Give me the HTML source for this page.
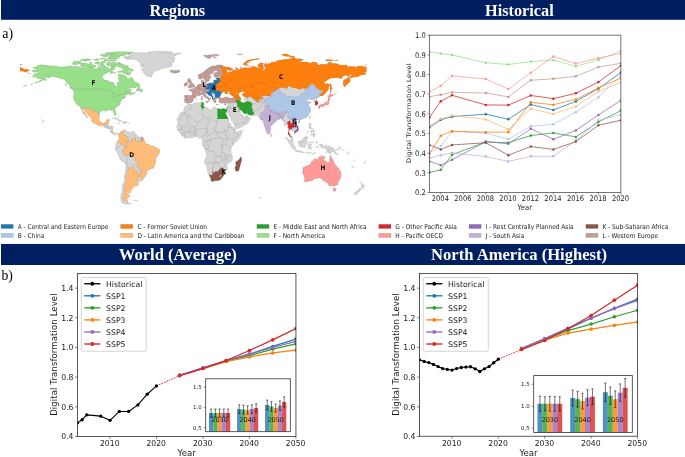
<!DOCTYPE html>
<html><head><meta charset="utf-8"><title>Regions and Digital Transformation Level</title>
<style>html,body{margin:0;padding:0;background:#fff}svg{display:block}</style></head>
<body><svg width="685" height="457" viewBox="0 0 685 457">
<rect width="685" height="457" fill="#fff"/>
<rect x="1" y="0" width="684" height="19.8" fill="#001f60"/>
<rect x="1" y="243.95" width="684" height="21.05" fill="#001f60"/>
<text x="177.4" y="15.75" text-anchor="middle" font-family='"Liberation Serif","DejaVu Serif",serif' font-weight="bold" font-size="16.4" fill="#fff">Regions</text>
<text x="519.4" y="15.75" text-anchor="middle" font-family='"Liberation Serif","DejaVu Serif",serif' font-weight="bold" font-size="16.25" fill="#fff">Historical</text>
<text x="177.8" y="260.4" text-anchor="middle" font-family='"Liberation Serif","DejaVu Serif",serif' font-weight="bold" font-size="16.6" fill="#fff">World (Average)</text>
<text x="519.1" y="260.4" text-anchor="middle" font-family='"Liberation Serif","DejaVu Serif",serif' font-weight="bold" font-size="16.6" fill="#fff">North America (Highest)</text>
<text x="2.3" y="38.1" font-family='"Liberation Serif","DejaVu Serif",serif' font-size="13.9" fill="#000">a)</text>
<text x="1.4" y="280.35" font-family='"Liberation Serif","DejaVu Serif",serif' font-size="13.7" fill="#000">b)</text>
<defs><path id="landp" clip-rule="evenodd" fill-rule="evenodd" d="M31.4 70.8L33.2 70.3L35.0 69.9L35.7 70.4L37.6 70.2L36.8 69.6L35.7 69.3L35.0 68.6L32.7 67.9L33.2 67.3L36.1 66.8L37.4 65.8L40.2 65.1L42.5 64.6L44.7 65.2L46.6 65.2L51.2 65.9L55.0 66.0L57.5 66.4L59.3 66.7L61.9 67.3L62.7 66.9L63.9 66.5L65.3 66.7L68.3 65.9L69.7 66.1L69.9 65.6L70.6 65.7L72.2 66.7L73.5 65.9L73.6 66.8L76.3 66.3L80.1 67.2L83.1 68.0L82.4 68.4L84.0 68.6L87.4 68.3L88.4 69.0L89.5 68.4L88.5 68.0L91.0 67.4L92.9 68.3L95.6 68.8L98.5 68.5L98.3 67.9L99.2 67.6L100.8 68.1L100.8 69.1L101.3 68.2L102.1 68.2L102.6 67.1L100.4 66.0L100.5 64.8L101.6 64.0L102.9 64.1L103.8 64.7L105.2 65.9L104.3 66.4L106.1 66.7L106.1 67.8L107.4 66.9L108.6 67.6L108.3 68.4L109.1 69.2L110.2 68.4L110.9 67.4L111.0 66.2L112.3 66.3L113.8 66.4L115.0 67.0L115.1 67.5L114.3 68.2L114.9 69.3L113.1 70.1L111.7 70.2L110.7 69.9L110.4 70.4L109.5 71.4L109.2 71.8L108.1 72.6L106.7 72.7L106.0 73.2L105.9 73.8L104.8 74.0L103.5 74.9L102.6 76.1L102.2 77.0L102.1 78.3L103.5 78.5L103.9 79.6L104.4 80.3L105.8 80.1L107.6 80.6L108.6 81.0L109.2 81.5L110.4 81.9L111.4 82.3L113.0 82.4L114.0 82.5L113.9 83.4L114.2 84.5L114.9 85.7L116.4 86.8L117.1 86.5L117.6 85.3L117.1 83.6L116.5 83.0L118.0 82.5L119.1 81.8L119.6 81.0L119.5 80.2L118.9 79.2L117.7 78.5L118.9 77.2L118.4 76.2L118.1 74.6L118.8 74.3L120.4 74.6L121.4 74.7L122.2 74.5L123.1 74.8L124.3 75.5L124.5 75.9L126.3 75.9L126.3 76.9L126.6 78.2L127.4 78.5L128.2 79.1L129.5 78.5L130.5 77.2L131.1 76.8L131.9 77.8L133.1 79.1L134.2 80.4L133.8 81.2L135.0 81.8L137.5 82.8L138.1 83.1L138.5 84.0L139.2 84.2L139.6 84.5L139.7 85.8L139.0 86.2L138.3 86.6L136.7 86.9L135.5 87.9L133.9 88.0L131.8 87.8L130.3 87.8L129.4 87.9L128.6 88.7L127.3 89.2L125.9 90.7L124.8 91.7L125.6 91.5L127.2 90.0L129.2 89.2L130.6 89.0L131.5 89.6L130.6 90.3L130.9 91.5L131.2 92.4L132.4 92.9L134.1 92.7L135.0 91.5L135.1 92.2L135.7 92.7L134.6 93.3L132.4 94.0L131.5 94.4L130.3 95.3L129.6 95.2L129.5 94.2L131.3 93.3L129.7 93.3L128.7 93.6L128.8 93.9L126.8 94.8L125.8 95.1L125.3 95.8L125.1 96.7L125.4 97.2L125.9 97.4L124.1 97.8L122.3 98.2L123.8 98.0L124.1 98.2L122.7 98.5L122.0 98.5L121.8 99.5L121.2 100.4L120.6 99.7L120.9 100.5L121.0 101.0L120.2 102.3L119.8 101.3L119.6 100.1L119.2 101.1L119.8 102.2L120.1 102.6L120.4 104.0L119.7 104.9L118.8 105.3L118.1 105.9L117.1 106.4L116.0 107.5L115.0 108.7L114.8 109.4L115.0 110.2L115.3 111.1L115.8 111.9L115.8 112.4L116.2 113.6L116.2 114.8L115.9 115.5L115.6 115.6L115.1 115.5L114.6 114.7L114.1 113.9L113.7 113.0L113.5 111.2L112.7 110.3L112.3 110.1L111.3 110.7L110.7 110.0L110.1 109.8L109.0 109.9L108.2 109.8L107.4 109.9L107.0 110.0L107.2 110.8L107.4 111.1L106.8 111.0L106.4 111.2L105.8 111.2L105.1 110.5L104.2 110.7L103.5 110.4L103.0 110.5L102.1 110.8L101.2 111.6L100.3 112.1L99.8 112.6L99.5 113.1L99.5 113.9L99.8 114.7L99.4 115.7L99.2 116.5L99.1 118.0L99.0 118.6L99.2 119.1L99.5 119.7L99.7 120.6L100.4 121.4L100.6 122.0L100.9 122.6L102.0 122.8L102.4 123.3L103.3 123.0L103.9 122.9L104.7 122.7L105.3 122.5L105.9 122.0L106.1 121.4L106.1 120.5L106.3 120.1L107.0 119.8L108.1 119.6L108.8 119.6L109.5 119.6L109.7 119.8L109.7 120.3L109.1 120.9L108.9 121.7L109.1 121.8L108.9 122.3L108.7 123.1L108.5 122.9L108.3 123.0L108.5 123.3L108.3 123.9L108.3 124.4L108.2 125.1L107.7 125.8L108.4 126.0L108.9 125.8L109.6 125.9L110.4 125.8L111.1 125.8L111.9 125.8L112.4 126.1L113.0 126.4L113.2 126.8L113.2 127.5L112.9 128.3L112.9 129.6L112.7 130.2L112.6 130.7L112.7 131.3L113.0 131.8L113.4 132.3L113.9 132.7L114.1 133.2L114.5 133.4L114.9 133.6L115.4 133.5L115.8 133.3L116.4 133.0L116.6 132.7L117.2 132.8L117.7 132.9L118.1 133.2L118.5 133.5L118.8 133.7L119.3 133.8L120.0 133.0L120.4 132.9L120.6 131.6L121.2 131.1L121.7 131.1L122.6 130.9L123.8 130.2L124.2 129.6L124.5 129.6L124.8 130.0L124.6 130.3L124.0 130.5L124.3 131.2L124.3 131.8L123.9 132.4L124.3 133.3L124.6 133.3L124.9 132.4L124.5 132.1L124.5 131.2L125.7 130.7L125.6 130.3L126.0 129.8L126.3 130.6L126.9 130.7L127.6 131.3L127.6 131.7L128.5 131.7L129.5 131.6L130.0 132.1L130.8 132.2L131.4 131.8L132.5 131.5L133.7 131.5L132.9 131.8L133.2 132.3L134.0 132.4L134.7 132.9L134.8 133.8L135.4 133.8L136.4 134.5L137.0 135.2L137.0 135.8L137.3 135.8L137.9 136.4L138.3 136.7L139.4 136.9L139.6 136.7L140.3 136.7L141.3 136.9L141.7 137.1L142.4 137.3L143.4 138.2L143.6 138.7L143.9 138.7L144.1 139.3L144.7 141.2L145.2 141.4L145.2 142.1L144.5 143.1L144.8 143.4L146.5 143.5L146.5 144.6L147.3 144.0L148.4 144.3L150.1 145.0L150.5 145.6L150.4 146.3L151.5 145.9L153.3 146.5L154.8 146.5L156.2 147.4L157.5 148.6L158.2 148.9L159.0 149.0L159.4 149.4L159.7 150.7L159.9 151.4L159.5 153.2L159.0 153.9L157.7 155.4L157.0 156.8L156.3 157.6L156.0 157.7L155.8 158.5L155.8 160.6L155.6 162.3L155.2 163.5L155.0 164.9L154.0 166.3L153.9 167.5L153.1 168.0L152.9 168.6L151.8 168.6L150.4 169.1L149.6 169.5L148.5 169.9L147.4 170.8L146.6 171.9L146.5 172.6L146.6 173.3L146.4 174.4L146.2 175.0L145.5 175.5L144.5 177.5L143.6 178.4L142.9 178.8L142.5 179.9L141.9 180.6L141.5 181.2L140.4 181.8L139.7 181.6L139.2 181.7L138.3 181.2L137.6 181.3L137.1 180.7L137.0 181.2L138.2 182.2L138.0 183.0L138.7 183.4L138.6 184.0L137.7 185.4L136.3 186.0L134.4 186.2L133.3 186.1L133.5 186.8L133.3 187.6L133.5 188.2L132.9 188.5L131.9 188.7L131.0 188.3L130.6 188.6L130.7 189.7L131.4 190.1L131.9 189.7L132.2 190.2L131.3 190.6L130.5 191.3L130.4 192.4L130.2 193.0L129.3 193.0L128.5 193.5L128.2 194.4L129.2 195.2L130.1 195.4L129.8 196.3L128.6 197.0L128.0 198.3L127.1 198.8L126.8 199.2L127.0 200.4L127.7 201.0L127.3 201.0L126.4 200.8L124.1 200.6L123.6 202.5L124.8 202.7L124.5 202.7L125.1 201.6L124.1 202.3L123.0 202.1L121.2 201.0L120.8 200.2L121.1 199.5L120.6 198.9L120.5 197.0L120.9 195.9L121.9 195.0L120.5 194.7L121.4 193.8L121.7 191.9L122.8 192.3L123.3 190.1L122.6 189.7L122.3 191.2L121.7 190.9L122.0 189.4L122.3 187.3L122.8 186.6L122.5 185.5L122.4 184.3L122.8 184.2L123.4 182.4L124.1 180.7L124.5 179.0L124.3 177.4L124.5 176.5L124.4 175.2L125.0 173.7L125.2 171.6L125.5 169.3L125.8 166.9L125.7 165.1L125.5 163.5L124.5 162.9L124.4 162.5L122.6 161.4L120.9 160.2L120.1 159.4L119.7 158.5L119.8 158.2L119.1 156.8L118.1 154.8L117.2 152.6L116.8 152.0L116.5 151.2L115.8 150.5L115.1 150.0L115.4 149.6L114.9 148.5L115.2 147.8L116.0 147.0L116.5 146.2L116.3 145.7L115.9 146.3L115.3 145.8L115.5 145.5L115.4 144.5L115.7 144.3L115.9 143.6L116.2 142.9L116.2 142.5L116.7 142.2L117.4 141.8L117.2 141.4L117.6 141.3L117.6 140.8L117.8 140.4L118.3 140.3L118.7 139.7L119.1 139.1L118.7 138.8L118.9 138.1L118.7 137.1L118.9 136.8L118.7 135.9L118.3 135.3L118.0 135.0L117.8 134.4L118.0 134.1L117.8 134.0L117.6 133.7L117.1 133.4L116.6 133.5L116.5 133.8L116.1 134.1L115.8 134.4L116.3 135.0L116.0 135.1L115.4 135.4L115.2 134.7L115.1 134.9L114.8 134.8L114.6 134.4L114.2 134.3L113.9 134.1L113.6 134.1L113.5 134.4L113.4 134.3L112.9 134.0L112.7 133.8L112.8 133.6L112.8 133.3L112.5 133.0L112.1 132.8L111.8 132.7L111.7 132.4L111.4 132.2L111.5 132.5L111.3 132.8L111.2 132.5L110.8 132.4L110.7 132.2L110.7 131.8L110.8 131.4L110.6 131.3L110.8 131.1L110.4 130.7L110.0 130.3L109.8 129.9L109.4 129.6L108.9 129.1L109.0 128.9L109.1 129.1L109.0 128.6L108.7 128.5L108.7 128.8L108.1 128.8L107.8 128.7L107.3 128.5L106.8 128.4L106.5 128.2L106.1 128.0L105.5 128.0L105.0 127.8L104.5 127.3L103.4 126.1L102.9 125.8L102.1 125.4L101.6 125.5L100.8 125.9L100.3 126.0L99.6 125.8L98.9 125.5L98.1 125.0L97.3 124.9L96.2 124.3L95.4 123.8L95.2 123.6L94.6 123.5L93.6 123.1L93.2 122.6L92.2 122.0L91.7 121.4L91.5 120.8L91.8 120.7L91.7 120.4L91.9 120.0L91.9 119.7L91.6 119.1L91.5 118.7L91.2 118.2L90.4 117.1L89.4 116.3L88.9 115.5L88.0 115.1L87.9 114.8L88.0 114.2L87.6 113.9L87.0 113.3L86.8 112.5L86.2 112.5L85.6 111.9L85.3 111.4L85.2 111.0L84.7 110.2L84.3 109.3L84.4 108.9L83.6 108.5L83.3 108.6L82.7 108.2L82.7 108.7L82.7 109.2L82.8 110.0L83.2 110.5L83.9 111.2L84.1 111.5L84.4 112.0L84.7 112.6L85.0 113.0L85.3 113.3L85.8 113.9L86.1 115.0L86.4 115.4L86.7 116.0L86.7 116.5L87.2 116.5L87.6 117.1L87.9 117.5L87.5 118.2L87.1 117.5L86.5 116.8L85.8 116.3L85.3 116.1L85.3 115.2L85.2 114.6L84.7 114.3L84.0 113.7L83.9 114.0L83.7 113.6L83.0 113.4L82.5 112.8L82.9 112.8L83.3 112.3L83.4 111.8L82.7 111.0L82.1 110.7L81.7 110.0L81.3 109.3L80.9 108.5L80.5 107.5L80.3 106.9L79.8 106.2L79.3 106.1L79.2 105.8L78.6 105.7L78.3 105.4L77.4 105.3L77.2 105.1L77.1 104.5L76.1 103.4L75.3 101.9L75.3 101.6L74.9 101.3L74.2 100.3L74.0 99.4L73.5 98.9L73.7 97.9L73.7 97.0L73.4 96.1L73.8 95.1L74.0 93.1L73.8 91.6L73.5 90.7L73.2 90.1L73.3 89.9L74.8 90.3L75.2 91.4L75.5 91.0L75.3 90.1L75.0 89.3L74.7 88.9L73.0 88.2L72.3 87.7L70.6 87.3L70.0 86.3L70.2 85.6L69.0 85.1L68.8 84.2L67.6 83.4L67.6 82.9L67.1 82.4L66.2 82.1L65.9 81.1L64.7 80.2L64.2 79.2L63.3 79.1L61.8 79.1L60.6 78.8L58.6 77.7L57.7 77.5L56.0 77.0L54.7 77.1L52.8 76.6L51.6 76.1L50.6 76.4L50.8 77.2L50.2 77.2L49.1 77.5L48.3 77.8L47.2 78.1L47.1 77.4L47.5 76.4L48.5 76.0L48.3 75.7L47.0 76.4L46.3 77.1L45.0 77.8L45.7 78.4L44.8 79.2L43.7 79.7L42.8 80.0L42.5 80.5L41.0 81.0L40.8 81.6L39.6 82.0L38.9 81.9L38.1 82.2L37.1 82.6L36.3 83.0L34.6 83.3L34.5 83.1L35.5 82.6L36.5 82.3L37.5 81.7L38.7 81.5L39.2 81.1L40.5 80.4L40.7 80.2L41.4 79.8L41.6 79.0L42.1 78.3L41.0 78.7L40.7 78.5L40.1 78.9L39.5 78.3L39.2 78.7L38.9 78.2L37.9 78.6L37.3 78.6L37.2 77.9L37.4 77.5L36.8 77.1L35.6 77.4L34.7 76.8L34.1 76.6L34.1 76.0L33.3 75.5L33.7 74.8L34.5 74.3L34.8 73.7L35.6 73.6L36.3 73.8L37.0 73.2L37.8 73.3L38.5 73.0L38.3 72.5L37.8 72.3L38.5 71.8L37.9 71.8L36.9 72.1L36.6 72.3L35.8 72.1L34.4 72.2L33.1 71.9L32.7 71.5L31.4 70.8Z M148.2 52.2L151.5 51.5L154.9 51.5L156.1 51.2L159.5 51.1L167.2 51.2L173.3 52.1L171.4 52.5L167.8 52.5L162.6 52.6L163.1 52.8L166.5 52.7L169.4 53.1L171.2 52.8L172.0 53.2L171.0 53.8L173.5 53.4L178.1 53.0L181.0 53.2L181.6 53.6L177.6 54.4L177.1 54.7L174.0 54.9L176.3 54.9L175.1 55.7L174.3 56.5L174.4 57.7L175.5 58.4L174.0 58.5L172.4 58.8L174.2 59.4L174.4 60.3L173.4 60.4L174.6 61.4L172.5 61.5L173.6 61.9L173.3 62.3L172.0 62.5L170.6 62.5L171.8 63.2L171.8 63.7L169.9 63.2L169.4 63.6L170.7 63.8L172.0 64.5L172.4 65.4L170.6 65.6L169.9 65.2L168.7 64.5L169.0 65.3L167.9 65.9L170.4 65.9L171.8 66.0L169.2 66.9L166.6 67.8L163.8 68.2L162.7 68.2L161.7 68.6L160.4 69.8L158.3 70.5L157.6 70.6L156.3 70.8L155.0 71.1L154.1 71.8L154.1 72.6L153.6 73.3L152.1 74.2L152.4 75.0L152.0 76.0L151.5 77.0L150.2 77.1L148.8 76.2L146.8 76.2L145.9 75.6L145.2 74.5L143.6 73.1L143.1 72.4L143.0 71.4L141.6 70.4L142.0 69.6L141.3 69.2L142.3 67.9L143.7 67.5L144.1 67.0L144.3 66.2L143.2 66.6L142.7 66.7L141.8 66.9L140.6 66.5L140.6 65.8L141.0 65.2L141.8 65.2L143.8 65.5L142.2 64.8L141.3 64.4L140.3 64.6L139.5 64.3L140.6 63.2L140.0 62.8L139.3 62.1L138.1 60.9L136.9 60.5L136.9 60.0L134.3 59.4L132.3 59.3L129.7 59.3L127.3 59.4L126.2 59.1L124.5 58.4L127.1 58.0L129.0 58.0L124.9 57.7L122.7 57.2L122.8 56.8L126.5 56.3L130.0 55.7L130.4 55.3L127.8 54.9L128.6 54.5L132.0 53.7L133.4 53.6L133.0 53.1L135.3 52.8L138.2 52.7L141.2 52.6L142.2 53.0L144.8 52.4L147.1 52.8L148.4 52.9L150.4 53.2L148.1 52.6L148.2 52.2Z M116.3 62.0L119.8 62.7L121.8 64.1L124.7 65.1L127.0 65.6L127.9 66.0L128.8 67.0L127.0 67.5L129.4 68.2L130.8 68.5L132.2 69.5L133.7 69.6L133.4 70.3L131.8 71.6L130.6 71.2L129.1 70.1L127.8 70.2L127.7 70.8L128.7 71.5L130.0 72.0L130.4 72.3L131.0 73.4L130.7 74.2L129.5 73.9L127.1 73.0L128.4 74.0L129.4 74.6L129.6 75.0L127.0 74.6L124.9 73.9L123.7 73.4L124.1 73.1L122.6 72.5L121.2 72.0L121.2 72.3L118.5 72.5L117.6 72.1L118.3 71.3L120.1 71.3L122.1 71.1L121.8 70.7L122.1 70.2L123.3 69.1L123.1 68.6L122.7 68.2L121.2 67.7L119.3 67.3L119.9 67.0L118.9 66.4L118.0 66.3L117.3 65.9L116.8 66.2L115.0 66.4L111.5 66.1L109.5 65.8L107.9 65.7L107.1 65.3L108.1 64.8L106.7 64.8L106.4 63.6L107.2 62.7L108.2 62.2L110.6 61.9L109.9 62.6L110.7 63.3L111.6 62.4L114.0 62.0L115.7 63.1L115.5 63.8L117.4 63.5L118.4 63.1L120.5 63.6L121.8 64.2L118.7 62.9L116.3 62.0Z M79.8 65.6L82.4 66.9L83.6 67.2L88.3 67.4L91.9 67.6L94.7 67.4L95.9 66.5L94.4 66.7L93.9 66.0L96.1 66.1L95.9 65.4L92.7 65.0L92.4 64.2L91.8 63.1L90.4 62.2L88.9 62.7L89.8 63.8L88.9 64.3L85.9 63.3L83.3 62.7L82.8 63.2L79.8 63.1L79.1 63.6L82.4 64.2L80.0 64.7L81.5 64.7L83.8 65.9L79.8 65.6Z M74.4 64.7L77.3 64.6L79.1 63.6L80.8 62.6L82.1 62.2L79.8 61.5L76.3 61.3L73.0 61.4L73.0 62.8L72.1 64.0L74.4 64.7Z M110.7 52.2L116.9 51.7L120.4 51.7L127.3 51.7L133.7 52.2L133.7 52.5L131.4 52.9L128.1 53.4L130.2 53.4L126.4 54.4L124.8 55.3L122.2 55.7L119.2 55.8L120.6 56.0L119.9 56.2L119.8 57.1L118.3 57.4L117.8 57.8L116.5 58.2L116.6 58.4L118.3 58.4L115.7 59.3L113.2 59.0L110.4 59.2L107.1 59.0L107.0 58.4L108.8 58.2L108.3 57.4L108.9 57.3L111.5 57.8L110.2 57.1L108.6 56.9L109.4 56.4L111.1 56.2L111.4 55.8L110.0 55.4L109.6 54.8L112.2 54.8L113.0 55.0L114.5 54.6L112.3 54.4L108.9 54.5L107.2 54.1L106.4 53.7L105.3 53.4L105.1 53.0L106.5 52.8L107.7 52.7L109.5 52.6L111.0 52.2L110.7 52.2Z M103.2 58.6L105.1 58.6L106.0 59.0L105.7 59.4L106.8 59.7L107.4 59.9L108.7 60.0L110.1 60.1L111.6 59.8L113.6 59.7L115.2 59.8L116.2 60.2L116.4 60.7L115.8 61.0L114.4 61.2L113.1 61.1L110.4 61.2L108.4 61.3L106.9 61.1L104.3 60.8L104.0 60.2L103.8 59.6L102.9 59.1L100.9 59.0L99.8 58.7L100.1 58.2L102.1 58.3L103.2 58.6Z M100.9 54.4L105.7 54.1L109.5 55.4L108.7 55.8L105.9 57.1L103.8 57.0L100.9 55.4L100.2 54.9L100.9 54.4Z M81.6 58.9L84.5 59.3L87.8 58.6L88.8 58.7L89.1 59.3L90.9 59.5L91.3 60.0L87.7 60.8L85.3 61.3L83.8 61.3L83.6 60.9L85.6 60.4L81.3 60.5L80.0 60.4L81.3 59.3L81.6 58.9Z M93.1 59.5L97.0 58.8L99.2 59.2L99.2 59.8L96.1 60.5L94.6 59.9L93.1 59.5Z M95.1 62.0L98.0 61.7L99.5 61.9L99.8 62.2L98.9 62.8L100.4 63.2L100.2 64.2L98.5 64.7L97.7 64.6L97.0 64.2L94.6 63.3L94.6 63.0L96.6 63.1L95.6 62.4L95.1 62.0Z M101.2 61.6L104.7 61.6L106.1 61.8L104.7 62.8L103.5 63.0L102.5 63.9L101.4 63.8L100.8 62.9L100.8 62.3L101.2 61.6Z M97.2 66.8L98.1 66.4L98.7 66.0L99.7 66.2L100.3 66.4L100.6 66.7L101.2 67.1L100.6 67.4L99.3 67.1L98.5 67.3L97.2 66.8Z M111.3 70.8L111.5 71.4L112.0 71.2L112.5 71.5L113.6 71.9L114.7 72.2L114.8 72.7L115.5 72.7L116.2 73.0L115.3 73.4L113.8 73.1L113.3 72.6L112.3 73.2L110.9 73.8L110.6 73.1L109.3 73.2L110.1 72.7L110.3 71.8L110.6 70.8L111.3 70.8Z M139.3 87.4L139.9 88.0L139.6 88.6L140.4 88.9L141.8 89.0L141.5 89.8L142.2 89.6L142.3 90.2L142.6 90.9L142.2 91.8L141.8 91.9L141.1 91.7L141.3 90.8L141.1 90.6L139.9 91.6L139.4 91.6L140.1 91.0L139.1 90.8L138.1 90.8L136.2 90.8L136.1 90.5L136.7 90.1L136.3 89.8L137.1 89.1L138.1 87.4L138.7 86.7L139.5 86.4L139.9 86.4L139.8 86.7L139.3 87.4Z M69.7 87.3L71.3 87.7L72.2 87.8L73.0 88.7L74.0 89.2L74.4 89.8L73.9 90.0L72.3 89.5L72.0 89.1L71.1 88.7L71.0 88.4L70.0 88.2L69.6 87.6L69.7 87.3Z M65.0 83.5L65.5 83.7L66.4 83.6L66.1 84.9L67.0 85.8L66.6 85.8L66.0 85.2L65.7 84.7L65.2 84.4L65.0 83.9L65.0 83.5Z M46.0 80.3L45.0 80.8L44.5 80.4L44.3 79.9L45.2 79.6L45.8 79.4L46.4 79.4L46.8 79.8L46.0 80.3Z M28.0 72.9L28.5 73.2L29.1 73.1L29.9 73.4L30.8 73.5L30.1 73.8L29.3 73.6L28.9 73.4L28.1 73.5L27.9 73.4L28.0 72.9Z M32.0 76.9L33.0 77.4L33.7 77.4L33.8 76.8L33.1 76.7L32.0 76.9Z M33.0 83.7L33.4 84.1L32.0 84.5L31.0 84.9L30.6 85.1L31.5 84.3L33.0 83.7Z M25.7 85.5L27.2 85.6L27.2 86.0L25.3 86.0L23.8 86.2L22.8 86.3L23.3 86.0L25.7 85.5Z M43.2 120.9L43.8 121.3L44.2 121.8L43.6 122.2L43.2 122.3L43.2 122.0L43.0 121.6L43.2 121.3L43.2 120.9Z M42.4 120.1L42.8 120.3L43.1 120.5L42.7 120.6L42.4 120.3Z M40.9 119.5L41.3 119.5L41.5 119.8L41.0 119.8L40.9 119.5Z M111.5 119.1L112.0 118.8L112.5 118.8L113.1 118.0L113.9 117.8L114.9 117.8L115.7 117.8L116.5 118.2L116.9 118.6L117.9 118.5L118.2 118.7L119.6 119.9L119.9 119.9L120.5 120.1L121.2 120.5L121.8 120.9L121.7 121.2L121.1 121.4L120.5 121.4L119.8 121.3L118.4 121.4L119.1 120.8L118.7 120.5L118.1 120.4L117.7 120.1L117.5 119.5L116.9 119.5L116.1 119.2L115.8 119.0L114.5 118.8L114.2 118.6L114.5 118.3L113.6 118.3L112.9 118.9L112.5 118.9L112.4 119.1L111.9 119.3L111.5 119.1Z M121.6 123.1L122.6 123.2L123.3 123.3L124.3 123.4L124.5 123.9L124.9 123.1L125.4 123.3L125.9 123.0L127.1 123.2L127.5 122.8L127.1 122.4L126.6 122.3L126.1 122.0L125.9 121.6L125.1 121.4L124.4 121.4L123.2 121.3L122.6 121.6L123.2 121.8L123.2 122.2L123.6 122.7L123.3 123.0L122.6 122.9L121.7 122.7L121.6 123.1Z M117.9 122.9L118.6 122.9L119.2 123.0L119.9 123.6L119.2 123.6L118.4 123.6L117.9 123.2L117.9 122.9Z M128.6 122.9L129.5 122.9L130.1 123.2L129.9 123.4L129.2 123.5L128.6 123.5L128.6 122.9Z M133.7 131.5L134.7 131.3L134.7 132.2L133.8 132.3L133.9 131.9L133.7 131.5Z M118.2 116.5L118.7 116.5L118.7 117.1L118.4 117.2L117.8 116.2L118.2 116.5Z M118.4 114.0L119.1 114.0L119.1 114.3L118.4 113.6L118.4 114.0Z M134.4 200.5L135.5 199.8L136.3 200.1L136.9 199.7L137.7 200.1L137.4 200.5L136.1 200.9L135.7 200.5L134.8 201.0L134.4 200.5Z M127.2 201.3L127.6 201.9L128.1 202.7L129.3 203.3L130.7 203.6L130.2 204.2L129.3 204.2L128.8 203.8L128.2 203.8L127.2 203.8L126.7 204.5L125.9 204.2L124.9 204.0L123.7 203.4L122.7 202.8L121.4 201.6L122.2 201.8L123.5 202.5L124.8 202.9L125.3 202.4L125.6 201.7L126.5 201.2L127.2 201.3Z M218.0 64.9L220.5 64.8L223.4 65.6L222.2 65.9L223.2 66.6L224.2 66.2L225.8 66.9L228.4 67.1L232.1 68.4L232.8 68.9L232.9 69.6L231.8 70.2L230.3 70.5L225.9 69.7L225.3 69.8L226.8 70.6L226.9 71.1L226.9 72.3L228.2 72.6L228.9 72.9L229.1 72.4L228.5 71.9L229.1 71.5L231.4 72.1L232.2 71.9L231.6 71.1L233.8 70.0L234.7 70.1L235.6 70.4L236.2 69.7L235.4 69.0L235.9 68.4L235.1 67.7L237.8 68.0L238.4 68.7L237.2 68.8L237.2 69.4L237.9 69.8L239.4 69.5L239.7 68.8L241.7 68.3L245.0 67.4L245.8 67.4L244.8 68.1L246.0 68.2L246.7 67.8L248.5 67.8L249.9 67.3L251.0 68.0L252.1 67.3L251.1 66.6L251.6 66.3L254.5 66.6L255.8 67.0L259.3 68.2L259.9 67.6L258.9 67.1L258.9 66.8L257.8 66.7L258.1 66.2L257.6 65.3L257.5 65.0L259.3 64.0L259.9 63.0L260.7 62.8L263.2 63.0L263.4 63.7L262.5 64.5L263.1 64.9L263.4 65.7L263.2 67.2L264.2 67.9L263.8 68.6L261.9 70.2L263.0 70.3L263.4 69.9L264.5 69.6L264.7 69.1L265.6 68.6L265.0 67.9L265.5 67.2L264.4 67.1L264.2 66.5L264.9 65.4L263.7 64.5L265.4 63.8L265.2 63.0L265.7 63.0L266.2 63.6L265.8 64.6L266.8 64.8L266.4 64.0L268.0 63.6L270.0 63.5L271.8 64.2L270.9 63.3L270.8 62.1L272.5 61.9L274.8 61.9L276.9 61.8L276.1 61.2L277.2 60.5L278.4 60.4L280.2 59.9L282.8 59.7L283.1 59.4L285.6 59.3L286.4 59.6L288.6 59.0L290.3 59.0L290.6 58.5L291.5 58.1L293.8 57.6L295.4 58.0L294.1 58.2L296.3 58.4L296.6 59.0L297.4 58.7L300.3 58.7L302.4 59.2L303.2 59.7L303.0 60.2L301.9 60.6L299.4 61.2L298.7 61.5L299.8 61.6L301.3 61.9L302.1 61.7L302.6 62.4L303.1 62.1L304.6 62.0L307.7 62.1L307.9 62.7L311.9 62.8L312.0 62.0L314.0 62.2L315.6 62.2L317.1 62.8L317.6 63.5L317.0 63.9L318.2 64.8L319.7 65.2L320.7 64.1L322.2 64.6L323.8 64.3L325.7 64.6L326.4 64.3L328.0 64.5L327.3 63.4L328.6 63.0L337.3 63.7L338.1 64.3L340.6 65.2L344.5 65.0L346.4 65.1L347.2 65.6L347.1 66.4L348.3 66.7L349.6 66.5L351.3 66.5L353.1 66.7L354.9 66.6L356.6 67.5L357.8 67.2L357.0 66.5L357.4 66.0L360.5 66.3L362.5 66.2L365.3 66.8L366.6 67.3L366.6 71.6L365.4 72.1L364.1 72.0L365.0 72.6L365.6 73.5L366.0 73.8L366.1 74.3L365.9 74.6L364.1 74.4L361.4 75.2L360.6 75.3L359.1 76.1L357.7 76.8L357.3 77.3L356.0 76.5L353.4 77.4L353.0 77.0L352.1 77.4L350.8 77.3L350.5 78.0L349.3 79.1L349.4 79.5L350.5 79.8L350.3 81.4L349.4 81.4L349.0 82.3L349.4 82.8L347.7 83.4L347.4 84.6L346.0 84.9L345.7 86.0L344.3 87.0L343.9 86.3L343.5 84.7L343.0 82.2L343.4 80.7L344.3 80.0L344.3 79.5L345.8 79.3L347.5 77.9L349.2 76.8L350.9 75.9L351.7 74.3L350.5 74.4L349.9 75.3L347.5 76.5L346.7 75.2L344.2 75.6L341.8 77.4L342.6 78.1L340.5 78.4L339.0 78.5L339.0 77.7L337.5 77.5L336.3 78.1L333.4 77.9L330.2 78.2L327.1 80.3L323.4 82.9L324.9 83.1L325.4 83.8L326.3 84.0L327.0 83.5L328.0 83.5L329.4 84.8L329.4 85.7L328.7 86.8L328.6 88.1L328.2 89.9L326.7 91.5L326.4 92.2L325.1 93.5L323.8 94.8L323.2 95.4L321.9 96.1L321.3 96.1L320.7 95.6L319.4 96.4L319.2 96.7L318.9 96.7L318.5 97.0L318.2 97.4L318.2 98.2L317.7 98.5L317.5 98.6L317.2 99.0L316.5 99.2L316.1 99.5L316.1 99.9L316.4 100.2L316.9 100.7L317.7 102.0L318.0 102.7L318.0 104.0L317.6 104.6L316.7 104.8L316.0 105.3L315.1 105.4L315.0 104.8L315.2 104.0L314.8 102.8L315.5 102.6L314.8 101.7L314.3 101.5L313.9 101.8L313.7 101.4L313.4 101.3L313.7 100.8L313.8 100.5L314.1 99.9L313.4 99.6L313.0 99.3L311.6 99.6L310.9 100.1L309.9 100.4L310.4 99.9L310.2 99.5L310.9 98.7L310.4 98.1L309.6 98.5L308.5 99.3L307.9 100.0L307.0 100.1L306.5 100.6L307.0 101.3L307.8 101.5L307.8 102.0L308.6 102.3L309.6 101.5L310.5 102.0L311.1 102.0L311.3 102.6L309.9 102.9L309.5 103.5L308.5 104.0L308.0 104.8L309.1 105.4L309.5 106.5L310.0 107.5L310.7 108.4L310.7 109.2L310.1 109.5L310.3 110.1L310.9 110.4L310.7 111.3L310.5 112.2L309.9 112.3L309.2 113.5L308.5 114.9L307.6 116.2L306.2 117.3L304.9 118.2L303.8 118.3L303.2 118.8L302.9 118.4L302.4 119.0L301.0 119.5L300.0 119.7L299.7 120.9L299.1 120.9L298.9 120.1L299.1 119.7L297.8 119.3L297.4 119.5L296.1 120.5L295.3 121.5L295.1 122.3L295.8 123.4L296.7 124.9L297.6 125.6L298.2 126.4L298.6 128.5L298.5 130.4L297.7 131.2L296.6 131.9L295.8 132.8L294.6 133.8L294.2 133.1L294.5 132.4L293.8 131.7L293.0 131.6L292.6 131.0L292.1 129.9L291.2 129.3L290.4 129.4L290.5 128.5L289.7 128.5L289.6 129.7L289.1 131.3L288.8 132.3L288.8 133.1L289.5 133.1L289.9 134.1L290.0 135.1L290.6 135.7L291.2 135.9L291.7 136.4L291.9 136.5L292.5 137.2L292.9 137.9L292.9 138.7L292.8 139.2L292.9 139.6L293.0 140.2L293.3 140.5L293.7 141.5L293.7 141.9L293.0 141.9L292.1 141.1L290.9 140.3L290.8 139.7L290.3 139.0L290.1 138.0L289.8 137.4L289.9 136.6L289.7 136.2L289.3 135.7L289.1 135.2L288.6 134.6L288.2 134.1L288.0 134.7L287.8 134.1L287.9 133.4L288.2 132.3L288.1 131.5L288.4 130.7L288.1 130.0L288.2 128.8L287.8 128.3L287.5 126.9L287.3 125.5L286.9 124.6L286.2 125.2L285.1 126.0L284.6 125.9L284.0 125.6L284.3 124.2L284.1 123.2L283.4 121.9L283.5 121.5L282.9 121.4L282.3 120.5L282.2 119.6L281.9 119.4L281.7 118.8L281.3 118.2L280.5 118.1L280.5 118.6L280.2 119.2L279.8 119.0L279.7 119.2L279.4 119.1L279.0 119.0L278.9 119.4L278.2 119.4L277.1 119.6L277.1 120.4L276.6 121.1L275.2 121.8L274.1 123.1L273.4 123.8L272.4 124.5L272.4 125.0L272.0 125.3L271.1 125.7L270.6 125.8L270.4 126.6L270.6 128.0L270.6 129.0L270.2 130.0L270.2 131.9L269.7 131.9L269.3 132.8L269.6 133.1L268.7 133.5L268.4 134.2L268.0 134.5L267.1 133.5L266.6 131.9L266.2 130.8L265.9 130.3L265.4 129.3L265.2 127.9L265.0 127.2L264.1 125.7L263.7 123.5L263.4 122.1L263.4 120.8L263.2 119.7L261.8 120.4L261.2 120.3L259.9 118.9L260.4 118.5L260.1 118.1L259.0 117.2L258.2 116.9L258.0 116.1L257.2 115.3L255.4 115.5L253.9 115.5L252.5 115.6L250.7 115.3L249.7 115.1L248.6 114.9L248.2 113.6L247.7 113.4L247.0 113.6L246.0 114.1L244.8 113.7L243.8 112.9L242.9 112.6L242.3 111.5L241.6 110.1L241.0 110.2L240.4 109.9L240.1 110.3L239.5 110.2L239.7 110.7L239.6 111.0L239.9 111.8L240.3 112.8L240.8 113.0L240.9 113.4L241.6 113.9L241.7 114.3L241.6 114.7L241.7 115.1L242.0 115.4L242.1 115.7L242.2 116.0L242.2 115.2L242.4 114.6L242.7 114.5L243.0 114.8L243.0 115.5L242.8 116.1L243.0 116.6L243.2 116.8L243.9 116.6L244.7 116.7L245.3 116.7L246.0 116.0L246.7 115.2L247.3 114.6L247.6 114.2L247.6 114.7L247.5 114.9L247.6 115.8L248.0 116.6L248.6 117.0L249.3 117.1L249.9 117.3L250.3 117.9L250.6 118.3L250.9 118.5L250.5 119.4L250.4 119.7L250.0 120.0L249.6 120.8L249.2 120.7L249.0 121.0L248.8 121.5L249.0 122.3L248.4 122.4L247.8 122.8L247.7 123.4L247.5 123.6L246.9 123.6L246.5 123.9L246.5 124.3L246.1 124.6L245.5 124.5L244.9 124.9L244.4 124.9L243.8 125.2L243.6 125.7L243.5 126.1L242.6 126.6L241.0 127.1L240.2 127.9L239.8 127.9L239.5 127.8L238.9 128.3L238.3 128.5L237.5 128.6L237.2 128.6L237.0 128.9L236.8 129.0L236.6 129.3L236.1 129.3L235.8 129.4L235.2 129.4L234.9 128.7L234.9 128.1L234.8 127.8L234.6 127.0L234.3 126.5L234.5 126.5L234.4 126.0L234.5 125.8L234.5 125.3L234.4 124.8L234.1 124.5L234.0 124.0L233.5 123.6L233.0 122.7L232.7 121.8L232.1 121.1L231.6 120.9L231.0 119.8L230.9 119.0L230.9 118.4L230.4 117.2L229.9 116.7L229.4 116.5L229.1 115.9L229.1 115.6L228.9 115.1L228.6 114.8L228.2 114.0L227.6 113.1L227.1 112.4L226.6 112.4L226.8 111.7L226.8 111.4L227.0 110.9L226.7 111.2L226.5 112.0L226.2 112.6L226.0 112.8L225.6 112.5L225.2 112.0L224.5 110.4L224.8 111.6L225.4 112.8L226.1 114.5L226.5 115.1L226.8 115.7L227.7 116.9L227.5 117.1L227.5 117.8L228.6 118.8L228.8 119.0L229.1 120.1L228.9 120.3L229.0 121.5L229.4 122.8L229.8 123.0L230.3 123.4L230.8 124.7L231.1 125.7L231.6 126.3L233.0 127.3L233.5 127.9L234.0 128.6L234.3 129.0L234.8 129.3L235.0 129.6L235.0 130.1L234.4 130.4L234.9 130.7L235.2 130.9L235.4 131.3L235.8 131.8L236.3 131.8L237.2 131.5L238.2 131.4L239.1 131.0L239.5 131.0L239.9 130.8L240.4 130.7L240.7 130.7L241.2 130.5L241.7 130.4L242.2 130.0L242.5 130.0L242.5 130.3L242.5 131.0L242.5 131.6L242.2 132.0L242.0 133.2L241.5 134.4L240.9 135.8L240.1 137.4L239.3 138.6L238.1 140.1L237.2 141.0L235.7 142.1L234.8 143.0L233.8 144.3L233.6 144.9L233.4 145.2L232.7 145.6L232.4 146.1L232.1 146.1L231.9 146.9L231.6 147.4L231.4 148.1L231.0 148.5L230.6 149.8L230.7 150.4L231.3 150.8L231.3 151.1L231.0 151.8L231.1 152.1L231.0 152.7L231.4 153.3L231.8 154.4L232.1 154.7L232.3 155.2L232.2 156.3L232.4 157.2L232.4 159.0L232.6 159.5L232.3 160.3L231.9 161.1L231.3 161.7L230.4 162.2L229.3 162.7L228.2 163.9L227.9 164.1L227.2 164.9L226.8 165.1L226.7 165.9L227.2 166.7L227.4 167.4L227.4 167.7L227.5 168.7L227.4 169.3L227.6 169.4L227.4 169.9L227.0 170.3L226.3 170.7L225.1 171.3L224.7 171.7L224.8 172.1L225.0 172.2L224.9 172.8L224.7 173.6L224.6 174.5L224.3 175.0L223.7 175.6L223.5 175.7L223.1 176.3L222.8 176.8L222.2 177.6L221.2 178.8L220.5 179.4L219.7 179.9L218.7 180.4L218.3 180.4L218.1 180.7L217.5 180.6L217.1 180.8L216.0 180.6L215.4 180.7L215.0 180.6L214.0 181.1L213.2 181.3L212.6 181.7L212.2 181.7L211.8 181.3L211.5 181.3L211.0 180.8L210.9 180.7L210.9 180.0L210.6 179.3L210.9 179.1L210.8 178.2L210.2 177.2L209.7 176.3L209.0 174.8L208.3 174.0L207.9 173.2L207.7 172.1L207.5 171.3L207.2 169.6L207.2 168.3L207.0 167.7L206.7 167.2L206.2 166.3L205.7 165.0L205.4 164.3L204.7 163.2L204.6 162.4L204.5 161.7L204.6 160.7L205.0 159.7L205.0 159.2L205.3 158.2L205.6 157.8L206.1 157.1L206.4 156.6L206.5 155.8L206.5 155.1L206.2 154.7L205.9 154.1L205.7 153.4L205.8 153.2L206.1 152.7L205.8 151.7L205.6 150.9L205.1 150.2L205.2 150.0L205.0 149.7L204.8 148.9L204.0 147.7L203.0 146.6L202.4 145.7L201.8 144.5L201.8 144.2L202.0 143.8L202.2 143.0L202.4 142.2L202.3 142.0L202.6 140.8L202.7 139.9L202.4 139.2L201.9 139.0L201.7 138.5L201.5 138.3L201.5 138.0L200.5 138.4L200.1 138.4L199.8 138.6L199.0 138.6L198.5 137.9L198.1 137.1L197.5 136.4L196.7 136.4L195.9 136.4L195.1 136.5L194.3 136.8L192.8 137.4L192.3 137.8L191.4 138.1L190.5 137.8L190.1 137.8L189.4 137.6L188.8 137.6L187.7 137.8L187.0 138.1L186.1 138.5L185.6 138.5L184.6 138.0L183.8 137.1L182.9 136.5L182.3 135.8L182.0 135.7L181.3 135.3L180.8 134.7L180.7 134.3L180.5 133.5L180.1 132.8L179.8 132.4L179.5 132.2L179.3 132.0L179.2 131.5L179.0 131.3L178.7 131.1L178.2 130.7L177.8 130.6L177.6 130.3L177.3 129.9L177.2 129.6L177.1 128.8L177.2 128.3L176.8 127.5L176.3 127.1L176.7 126.8L177.2 126.1L177.4 125.5L177.4 124.9L177.6 124.4L177.7 123.3L177.6 122.2L177.5 121.7L177.6 121.1L177.4 120.6L176.9 120.1L176.9 119.7L177.0 119.2L177.3 118.9L177.6 118.3L177.6 117.9L177.9 117.1L178.4 116.4L178.8 116.3L179.0 115.6L179.0 115.0L179.4 114.4L180.0 113.9L180.6 112.8L181.1 112.4L182.0 112.3L182.8 111.5L183.3 111.2L184.1 110.3L183.9 108.9L184.2 108.0L184.3 107.4L185.0 106.6L185.9 106.1L186.6 105.7L187.3 104.5L187.6 103.9L188.3 103.9L188.9 104.3L189.8 104.3L190.8 104.5L191.2 104.5L192.1 103.9L193.2 103.7L193.8 103.3L194.7 102.9L196.3 102.7L197.9 102.6L198.4 102.8L199.3 102.4L200.4 102.4L200.8 102.6L201.4 102.6L202.5 102.1L203.1 102.2L203.1 102.8L203.9 102.4L204.0 102.6L203.5 103.1L203.5 103.7L203.8 103.9L203.7 104.9L203.1 105.4L203.3 106.0L203.8 106.1L204.0 106.6L204.4 106.8L205.5 107.1L205.9 107.0L206.7 107.2L208.0 107.7L208.4 108.7L209.3 108.9L210.7 109.4L211.7 109.9L212.1 109.6L212.6 109.1L212.4 108.3L212.7 107.7L213.4 107.2L214.0 107.1L215.4 107.3L215.7 107.8L216.0 107.8L216.3 108.0L217.3 108.1L217.5 108.5L218.8 108.5L219.7 108.8L220.7 109.1L221.1 109.3L221.9 108.9L222.3 108.6L223.1 108.5L223.8 108.6L224.1 109.2L224.3 108.8L225.1 109.1L225.8 109.1L226.3 108.9L226.6 108.5L226.8 107.9L227.0 107.1L227.1 106.8L227.5 105.9L227.9 105.1L227.9 104.2L228.1 103.8L227.8 103.3L228.1 102.9L227.5 103.0L226.7 102.7L226.1 103.4L224.6 103.5L223.8 102.9L222.8 102.8L222.6 103.3L221.9 103.4L221.0 102.8L219.9 102.9L219.3 101.8L218.6 101.2L219.1 100.3L218.5 99.8L218.9 99.0L218.4 98.5L217.8 98.3L217.3 98.1L216.1 98.4L216.8 99.1L216.3 99.2L215.8 99.2L215.3 98.7L215.1 98.9L215.3 99.6L215.8 100.1L215.4 100.3L216.0 100.8L216.4 101.2L216.5 101.8L215.6 101.5L215.8 102.0L215.2 102.2L215.6 103.1L215.0 103.1L214.2 102.7L213.8 101.8L213.6 101.1L213.3 100.5L212.8 99.9L212.7 99.6L212.5 99.3L212.0 98.9L211.9 98.4L212.0 97.6L212.1 97.3L212.0 97.1L211.8 97.0L211.5 96.7L211.1 96.5L210.2 96.0L209.6 95.6L208.7 95.3L207.9 94.5L208.1 94.4L207.7 94.0L207.6 93.6L207.0 93.4L206.7 93.9L206.5 93.5L206.5 93.1L206.7 93.0L206.0 92.9L205.2 93.3L205.2 93.8L205.1 94.1L205.4 94.7L206.3 95.2L206.8 96.1L207.9 97.0L208.6 97.0L208.9 97.3L208.6 97.5L209.5 97.9L210.2 98.2L211.0 98.8L211.1 99.0L210.9 99.4L210.4 98.9L209.5 98.7L209.1 99.4L209.8 99.8L209.7 100.4L209.3 100.5L208.8 101.4L208.4 101.5L208.4 101.2L208.6 100.6L208.8 100.3L208.4 99.7L208.1 99.1L207.7 99.0L207.5 98.5L206.8 98.3L206.4 97.9L205.7 97.8L205.0 97.3L204.1 96.6L203.4 96.0L203.1 94.9L202.6 94.7L201.9 94.4L201.4 94.5L200.9 95.0L200.5 95.1L199.6 95.7L197.7 95.4L196.3 95.8L196.2 96.5L196.2 97.1L195.3 97.8L194.1 98.1L194.0 98.4L193.4 99.1L193.0 99.9L193.4 100.6L192.8 101.1L192.6 101.8L191.9 102.0L191.2 102.9L190.0 102.9L189.1 102.8L188.5 103.2L188.1 103.7L187.6 103.6L187.3 103.2L187.0 102.6L186.1 102.4L185.7 102.7L185.2 102.5L184.7 102.6L184.9 101.8L184.8 101.1L184.4 101.0L184.1 100.6L184.2 99.9L184.6 99.5L184.7 99.0L184.9 98.3L184.8 97.9L184.6 97.5L184.6 97.1L184.7 96.3L184.3 95.8L185.6 95.1L186.8 95.3L188.1 95.3L189.1 95.4L189.9 95.4L191.5 95.4L192.0 94.8L192.2 92.6L191.2 91.4L190.4 90.8L189.0 90.4L188.9 89.6L190.1 89.4L191.7 89.7L191.4 88.4L192.3 88.9L194.6 88.0L194.9 87.1L195.7 86.9L196.5 86.7L197.0 86.4L197.8 84.8L199.1 84.3L200.0 84.3L200.1 84.1L200.9 84.0L201.1 84.3L201.8 83.7L201.6 83.3L201.5 82.7L201.1 82.1L201.1 80.9L201.3 80.6L201.5 80.3L202.4 80.3L202.7 79.9L203.5 79.6L203.5 80.2L203.2 80.6L203.3 80.9L203.8 81.0L203.6 81.5L203.3 81.3L202.6 82.1L202.9 82.7L202.9 83.1L203.8 83.4L203.8 83.7L204.8 83.5L205.4 83.2L206.4 83.7L206.9 84.0L207.6 83.7L209.1 83.2L210.3 82.8L211.2 83.0L211.3 83.3L212.2 83.3L212.5 82.8L213.8 82.4L213.6 81.5L213.6 80.7L214.1 80.0L215.0 79.6L215.8 80.4L216.5 80.4L216.7 79.6L216.8 78.9L216.5 79.1L215.9 78.7L215.8 78.0L217.0 77.7L218.2 77.6L219.3 77.7L220.2 77.7L221.3 77.1L220.3 76.6L218.6 76.7L216.9 77.1L215.3 77.3L214.8 76.7L213.8 76.3L214.0 75.2L213.6 74.3L214.0 73.6L214.9 72.9L217.1 71.7L217.8 71.5L217.7 71.0L216.3 70.5L214.7 70.8L213.7 71.6L213.9 72.3L212.3 73.2L210.5 74.1L209.8 75.7L210.5 76.4L211.4 77.0L210.5 78.3L209.5 78.5L209.1 80.4L208.6 81.4L207.4 81.3L206.9 82.2L205.8 82.2L205.5 81.2L204.7 80.0L203.9 78.4L203.3 77.7L201.4 79.0L200.1 79.2L198.8 78.7L198.4 77.5L198.1 75.0L199.0 74.3L201.5 73.3L203.4 72.2L205.2 70.6L207.5 68.5L209.1 67.7L211.8 66.3L213.9 65.8L215.5 65.9L216.9 65.0L218.0 64.9Z M20.0 67.3L22.3 68.1L24.9 69.2L24.8 69.9L25.4 70.2L25.2 69.3L27.8 69.5L29.7 70.5L28.7 71.1L27.2 71.2L27.1 72.2L26.7 72.4L25.1 72.1L23.8 71.7L23.6 71.2L22.7 71.1L21.5 71.2L21.0 70.8L20.1 70.6L20.5 71.2L20.0 71.6Z M365.4 64.9L366.6 64.4L366.6 65.2L365.6 65.2L365.4 64.9Z M20.0 64.4L22.3 64.7L22.2 64.9L21.2 65.1L20.0 65.2Z M325.2 60.3L327.0 59.4L329.6 59.4L333.0 59.9L332.3 60.8L328.7 60.8L327.1 61.0L325.2 60.3Z M334.3 60.0L336.0 60.2L338.4 60.5L337.4 60.9L335.8 60.8L334.0 60.4L334.3 60.0Z M328.0 62.4L328.9 61.9L330.1 61.8L331.5 62.2L331.6 62.6L330.1 62.6L328.1 62.5Z M285.7 53.7L287.6 54.2L289.8 55.3L289.5 56.3L287.5 56.4L284.8 56.1L283.1 55.7L282.4 55.0L281.1 54.7L283.6 54.0L285.7 53.7Z M289.5 56.3L291.6 55.8L294.8 56.5L294.5 57.0L289.0 57.4L290.9 56.0L289.5 56.3Z M259.7 58.9L259.0 59.3L255.5 59.8L252.6 60.3L249.6 61.4L248.2 62.5L246.7 63.5L246.8 64.4L248.7 65.3L248.1 65.4L245.0 65.2L244.7 64.8L243.0 64.4L242.9 63.9L243.9 63.7L243.8 63.0L245.7 62.1L244.8 62.0L247.1 61.0L246.8 60.5L249.1 59.9L252.2 59.2L255.4 59.0L257.1 58.6L259.0 58.5L259.7 58.9Z M207.8 55.4L208.2 55.1L209.7 55.0L210.9 55.4L214.0 56.2L211.6 56.7L211.1 57.5L210.2 57.7L209.8 58.6L208.6 58.6L206.6 57.9L207.5 57.6L206.0 57.3L204.1 56.3L203.3 55.5L206.0 55.1L206.5 55.5L207.8 55.4Z M215.4 56.8L215.7 57.2L217.1 57.4L215.0 57.9L213.2 57.6L213.9 57.4L213.3 57.0L215.4 56.8Z M219.7 55.0L218.2 55.6L215.4 55.7L212.7 55.5L212.5 55.3L211.1 55.2L210.1 54.7L213.0 54.4L214.4 54.7L215.4 54.3L217.8 54.6L219.7 55.0Z M236.6 54.4L238.6 54.0L241.5 53.9L243.0 54.3L241.5 54.6L238.6 54.6L236.6 54.4Z M179.3 70.0L179.1 70.7L180.2 71.5L179.0 72.3L176.2 73.1L175.3 73.3L171.4 72.8L172.3 72.3L170.2 71.7L171.9 71.5L171.9 71.2L169.9 70.9L170.5 70.2L172.0 70.1L173.5 70.8L174.9 70.2L176.2 70.5L177.7 69.9L179.3 70.0Z M190.4 78.6L189.4 79.8L190.4 79.7L191.4 79.7L191.2 80.6L190.3 81.6L191.3 81.6L192.2 83.1L192.9 83.2L193.5 84.5L193.8 84.9L194.9 85.1L194.8 85.8L194.3 86.2L194.7 86.7L193.8 87.3L192.5 87.3L190.9 87.6L190.4 87.4L189.8 87.9L188.9 87.8L188.2 88.2L187.7 88.0L189.1 86.8L190.0 86.6L188.5 86.4L188.2 86.0L189.2 85.6L188.7 85.0L188.9 84.3L190.3 84.4L190.5 83.8L189.8 83.1L188.6 82.9L188.4 82.6L188.8 82.1L188.4 81.8L187.9 82.3L187.9 81.2L187.4 80.7L187.7 79.5L188.5 78.6L189.2 78.7L190.4 78.6Z M187.3 83.9L187.5 84.7L186.8 85.7L185.1 86.3L183.7 86.2L184.5 85.0L184.0 83.9L185.3 83.0L186.0 82.5L186.8 82.5L187.8 83.1L187.3 83.9Z M208.2 101.1L207.9 102.0L208.0 102.4L207.8 102.9L207.1 102.5L206.6 102.4L205.3 101.8L205.4 101.3L206.5 101.4L207.5 101.2L208.2 101.1Z M202.2 97.9L202.7 98.6L202.6 100.1L202.2 100.0L201.8 100.4L201.4 100.1L201.4 98.8L201.2 98.1L201.7 98.2L202.2 97.9Z M202.5 96.8L202.2 97.7L201.8 97.4L201.5 96.7L201.7 96.3L202.3 95.9L202.5 96.8Z M216.1 103.9L216.7 104.3L217.4 104.2L218.1 104.3L218.6 104.4L218.5 104.7L217.1 104.8L215.9 104.4L216.1 103.9Z M224.8 104.5L225.5 104.6L226.0 104.6L225.1 105.2L224.6 105.0L224.4 104.6L224.8 104.5Z M224.8 104.5L225.0 104.3L225.7 104.3L226.6 104.0L225.9 104.4L226.0 104.6L225.4 104.5L225.0 104.6Z M241.0 157.1L241.3 157.5L241.5 158.3L241.7 159.6L241.9 160.1L241.8 160.6L241.6 160.9L241.3 160.3L241.1 160.6L241.3 161.4L241.2 161.9L241.0 162.2L240.9 163.1L240.5 164.4L240.1 165.9L239.5 168.0L239.1 169.5L238.7 170.8L237.9 171.1L237.0 171.5L236.5 171.3L235.7 170.9L235.4 170.3L235.4 169.3L235.0 168.4L234.9 167.6L235.1 166.8L235.6 166.6L235.6 166.3L236.0 165.4L236.1 164.7L235.9 164.2L235.7 163.5L235.6 162.5L236.0 161.9L236.1 161.2L236.6 161.1L237.1 160.9L237.5 160.7L237.9 160.7L238.4 160.1L239.2 159.4L239.5 158.8L239.4 158.4L239.8 158.5L240.3 157.7L240.4 157.1L240.7 156.6L241.0 157.1Z M272.1 135.0L271.9 136.2L271.5 136.5L270.7 136.7L270.2 135.8L270.1 134.3L270.5 132.5L271.1 133.1L271.6 133.9L272.1 135.0Z M299.6 122.7L298.7 123.2L297.9 122.9L297.9 121.9L298.4 121.4L299.4 121.1L300.0 121.2L300.2 121.6L299.8 122.1L299.6 122.7Z M310.6 116.4L310.0 118.2L309.6 119.1L309.1 118.1L309.0 117.3L309.5 116.2L310.3 115.4L310.7 115.7L310.6 116.4Z M331.6 87.3L332.6 89.3L331.2 88.9L330.6 90.5L331.5 91.6L331.5 92.4L330.8 91.8L330.1 92.6L330.0 91.7L330.1 90.6L329.9 89.4L330.2 88.6L330.2 87.1L329.7 86.0L329.7 84.5L330.6 84.0L330.2 83.5L330.7 83.3L330.9 84.1L331.3 85.1L331.2 86.2L331.6 87.3Z M331.9 94.6L332.6 94.8L333.2 94.4L333.5 95.6L332.0 95.9L331.2 97.0L329.7 96.2L329.2 97.4L328.1 97.5L327.9 96.4L328.4 95.5L329.4 95.4L329.7 93.9L330.0 93.1L331.1 94.2L331.9 94.6Z M329.1 102.3L328.7 103.2L328.9 103.8L328.4 104.5L327.1 105.1L325.4 105.1L324.1 106.4L323.4 106.0L323.4 105.1L321.7 105.4L320.6 105.9L319.4 105.9L320.4 106.7L319.8 108.6L319.2 109.1L318.7 108.7L318.9 107.7L318.3 107.3L317.9 106.6L318.8 106.2L319.3 105.6L320.3 105.0L321.0 104.2L322.9 103.9L324.0 104.1L325.0 102.2L325.6 102.7L327.0 101.6L327.6 101.2L328.2 99.8L328.0 98.6L328.4 97.9L329.4 97.7L330.0 99.2L329.9 100.1L329.0 101.2L329.1 102.3Z M323.0 105.6L323.1 106.0L322.5 106.7L322.1 106.3L321.6 106.6L321.4 107.2L320.8 106.9L320.8 106.4L321.3 105.7L321.9 105.9L322.2 105.4L323.0 105.6Z M310.1 122.9L310.7 123.2L311.0 122.9L311.1 123.2L310.9 123.7L311.3 124.5L311.0 125.4L310.5 125.7L310.3 126.6L310.5 127.5L311.0 127.6L311.5 127.5L312.7 128.1L312.6 128.7L312.9 129.0L312.8 129.5L312.0 128.9L311.7 128.4L311.4 128.8L310.8 128.1L309.9 128.3L309.5 128.0L309.5 127.6L309.8 127.3L309.5 127.0L309.4 127.4L308.9 126.8L308.8 126.3L308.7 125.3L309.1 125.6L309.2 123.9L309.6 122.9L310.1 122.9Z M315.0 134.0L315.1 134.8L315.2 135.4L314.8 136.4L314.5 135.3L314.0 135.8L314.3 136.6L314.1 137.1L312.9 136.5L312.7 135.7L312.9 135.2L312.3 134.7L312.0 135.1L311.6 135.1L310.9 135.7L310.7 135.4L311.1 134.4L311.7 134.1L312.2 133.7L312.6 134.2L313.3 133.9L313.4 133.4L314.1 133.4L314.1 132.5L314.8 133.1L314.9 133.6L315.0 134.0Z M308.4 130.8L308.6 131.7L307.9 132.3L307.4 133.0L306.1 134.1L306.6 133.3L307.3 132.6L307.9 131.9L308.4 130.8Z M312.8 130.9L312.7 132.0L312.3 132.3L312.0 133.0L311.7 133.4L311.2 132.6L311.4 132.3L311.6 132.0L311.7 131.3L312.2 131.2L312.1 132.0L312.8 130.9Z M313.7 130.8L314.4 131.1L313.7 132.0L313.4 131.3L313.2 131.3L313.0 130.6L313.6 130.7L313.6 130.3L313.0 129.4L313.9 129.5L314.2 129.9L314.4 131.1L313.7 130.8Z M310.7 130.2L311.2 130.5L311.9 130.5L311.8 131.0L311.4 131.5L310.8 131.8L310.8 131.3L310.8 130.7L310.7 130.2Z M309.2 128.4L310.0 128.5L310.3 128.9L310.1 129.8L309.7 129.3L309.2 128.4Z M306.8 138.7L306.3 139.7L307.0 140.8L306.8 141.3L307.9 142.3L306.8 142.4L306.4 143.2L306.5 144.2L305.5 144.9L305.5 146.0L305.2 147.7L305.0 147.3L303.9 147.8L303.5 147.2L302.9 147.1L302.4 146.7L301.2 147.1L300.9 146.6L300.2 146.7L299.4 146.5L299.3 145.1L298.8 144.7L298.4 143.8L298.2 142.8L298.3 141.8L298.9 141.1L299.6 141.5L300.4 141.3L300.5 140.3L301.0 140.1L302.1 139.9L302.8 139.0L303.3 138.3L303.7 137.9L304.5 137.3L305.2 136.5L305.7 135.7L306.1 135.7L306.6 136.2L306.6 136.7L307.3 137.0L308.1 137.3L308.0 137.8L307.4 137.8L307.5 138.4L306.8 138.7Z M295.2 149.8L294.1 149.8L293.3 148.9L292.1 148.0L291.7 147.3L290.9 146.4L290.5 145.6L289.7 144.0L288.9 143.1L288.6 142.2L288.3 141.3L287.4 140.6L286.9 139.6L286.2 139.0L285.2 137.8L285.1 137.3L285.7 137.3L287.2 137.5L288.0 138.6L288.8 139.3L289.3 139.8L290.2 141.0L291.2 141.0L292.0 141.8L292.6 142.7L293.3 143.2L292.9 144.1L293.5 144.5L293.8 144.5L294.0 145.3L294.3 145.9L295.0 146.0L295.5 146.7L295.2 148.1L295.2 149.8Z M297.9 150.8L299.8 150.9L300.0 150.4L301.7 151.0L302.1 151.7L303.5 151.9L304.7 152.5L303.6 152.9L302.6 152.5L301.7 152.5L300.7 152.5L299.8 152.3L298.7 151.8L298.0 151.7L297.6 151.9L295.8 151.4L295.6 150.9L294.8 150.9L295.4 149.8L296.6 149.9L297.4 150.3L297.8 150.4L297.9 150.8Z M313.9 141.7L313.1 142.8L312.4 143.0L311.5 142.8L309.9 142.9L309.0 143.0L308.9 143.9L309.8 144.9L310.3 144.4L312.1 144.0L312.0 144.5L311.6 144.3L311.2 145.0L310.3 145.4L311.2 146.8L311.0 147.2L311.9 148.5L311.9 149.2L311.4 149.5L311.0 149.1L311.5 148.2L310.5 148.6L310.3 148.3L310.4 147.9L309.7 147.3L309.8 146.2L309.2 146.5L309.2 147.8L309.3 149.4L308.7 149.6L308.3 149.2L308.5 148.2L308.4 147.1L308.0 147.1L307.7 146.4L308.1 145.7L308.2 144.8L308.7 143.1L308.9 142.7L309.7 141.9L310.5 142.2L311.7 142.3L312.8 142.3L313.7 141.5L313.9 141.7Z M322.5 144.6L322.7 146.4L323.7 147.0L324.5 145.8L325.7 145.2L326.5 145.2L327.3 145.6L328.1 146.0L329.1 146.2L330.8 146.9L332.5 147.6L333.2 148.1L333.7 148.7L333.9 149.3L335.5 150.0L335.7 150.6L334.8 150.7L335.0 151.4L335.9 152.2L336.5 153.3L337.1 153.3L337.0 153.8L337.8 154.0L337.5 154.2L338.5 154.6L338.4 155.0L337.8 155.0L337.5 154.8L336.7 154.6L335.7 154.5L335.0 153.8L334.4 153.2L333.9 152.2L332.7 151.7L331.9 152.0L331.3 152.4L331.4 153.2L330.7 153.6L330.1 153.4L329.1 153.4L328.3 152.5L327.3 152.2L327.0 152.5L325.8 152.6L326.2 151.7L326.8 151.4L326.6 150.2L326.1 149.2L324.3 148.3L323.5 148.2L322.0 147.2L321.7 147.7L321.4 147.8L321.1 147.4L321.1 147.0L320.4 146.4L321.4 146.0L322.1 146.0L322.1 145.7L320.6 145.7L320.3 145.1L319.4 144.9L319.0 144.3L320.3 144.1L320.8 143.7L322.3 144.2L322.5 144.6Z M313.6 153.1L313.8 152.9L314.6 152.6L315.3 152.6L315.6 152.4L315.9 152.6L315.6 152.9L314.6 153.3L313.8 153.7L313.1 154.5L312.3 154.7L312.3 154.2L312.7 153.5L313.6 153.1Z M308.8 153.0L308.8 152.6L309.6 152.4L310.2 152.7L310.8 152.6L311.7 152.2L311.5 152.8L310.1 153.1L308.8 153.0Z M306.8 152.2L307.2 152.5L307.8 152.4L308.0 152.9L306.9 153.1L306.2 153.3L305.7 153.3L306.0 152.6L306.6 152.6L306.8 152.2Z M309.3 154.6L307.9 153.8L308.8 153.6L309.6 154.3L309.3 154.6Z M317.2 142.1L317.2 143.0L316.7 142.9L316.5 143.6L316.9 144.2L316.7 144.3L316.3 143.6L316.0 142.2L316.2 141.3L316.5 140.9L316.6 141.5L317.1 141.6L317.2 142.1Z M317.9 146.4L318.9 146.7L319.3 147.6L318.5 147.1L317.7 147.0L317.1 147.1L316.5 147.0L316.7 146.4L317.9 146.4Z M315.5 147.5L314.8 147.3L314.6 146.8L315.6 146.8L315.8 147.1L315.5 147.5Z M340.0 148.1L340.0 148.7L339.7 149.3L339.2 149.4L339.0 149.7L338.5 150.0L338.0 150.3L337.5 150.3L336.7 149.9L336.1 149.6L336.2 149.3L337.1 149.5L337.6 149.4L337.7 148.8L338.0 149.4L338.5 149.3L338.8 148.9L339.3 148.5L339.2 147.9L339.8 147.9L340.0 148.1Z M338.4 146.3L338.7 146.1L339.2 146.4L339.5 146.6L339.9 146.9L340.3 147.3L340.7 147.7L340.8 148.3L340.5 148.6L340.3 147.9L340.1 147.5L339.6 147.1L339.1 146.7L338.4 146.3Z M342.3 149.2L342.6 149.4L343.1 150.1L343.5 150.5L343.4 150.8L343.1 150.9L342.7 150.5L342.3 149.8L342.1 149.0L342.3 149.2Z M347.0 152.1L346.0 151.8L345.7 151.5L345.8 151.4L346.2 151.6L347.0 152.1L347.3 152.5L347.3 152.7L346.5 152.2L347.0 152.1Z M348.2 154.2L347.8 154.2L347.2 154.1L347.0 153.9L347.1 153.5L347.7 153.7L348.0 153.9L348.2 154.2Z M349.0 153.9L348.9 154.1L348.1 153.1L347.9 152.5L348.3 152.5L348.6 153.4L349.0 153.9Z M349.4 154.9L349.7 155.2L349.0 155.2L348.7 154.5L349.2 154.8Z M354.3 160.8L354.9 161.5L354.6 161.6L354.3 161.1L354.3 160.8Z M353.9 160.6L353.8 160.3L353.8 159.4L354.2 159.8L354.4 160.7L354.1 160.5L353.9 160.6Z M352.9 166.5L353.7 167.2L354.2 167.7L353.9 168.0L353.3 167.7L352.6 167.2L352.0 166.6L351.4 165.8L351.3 165.5L351.7 165.5L352.2 165.9L352.6 166.2L352.9 166.5Z M365.1 162.4L365.4 162.7L365.2 163.3L364.6 163.5L364.1 163.3L364.0 162.8L364.4 162.5L364.8 162.6L365.1 162.4Z M366.0 161.8L365.4 162.1L365.3 161.7L365.8 161.4L366.1 161.4L366.6 161.0L366.6 161.6L366.0 161.8Z M331.5 158.5L331.9 159.3L332.5 158.9L333.3 159.8L333.2 160.3L333.4 161.3L334.1 162.9L334.0 163.5L334.3 164.2L335.3 164.8L336.0 165.3L336.6 165.8L336.5 166.1L337.1 166.7L337.4 167.9L337.8 167.7L338.2 168.2L338.5 168.0L338.6 169.2L339.3 169.9L339.7 170.3L340.5 171.2L340.8 172.0L340.8 172.7L340.7 173.4L341.2 174.3L341.1 175.3L341.0 175.8L340.7 176.8L340.7 177.4L340.5 178.2L340.1 179.2L339.4 179.7L339.0 180.6L338.7 181.1L338.4 182.1L338.1 182.6L337.8 183.5L337.7 184.2L337.7 184.6L337.2 185.0L336.1 185.0L335.2 185.4L334.8 185.9L334.2 186.4L333.4 185.9L332.8 185.7L333.0 185.1L332.4 185.3L331.6 186.1L330.8 185.8L330.2 185.6L329.7 185.5L328.7 185.2L328.1 184.5L327.9 183.7L327.7 182.7L327.2 182.7L326.3 182.6L326.6 182.0L326.4 181.2L325.9 182.0L325.1 182.2L325.6 181.6L325.7 180.9L326.1 180.4L326.0 179.6L325.2 180.5L324.6 180.9L324.3 181.8L323.5 181.3L323.5 180.7L322.9 179.9L322.4 179.5L322.6 179.3L321.4 178.6L320.7 178.6L319.8 178.0L318.0 178.1L316.8 178.5L315.7 178.9L314.8 178.8L313.8 179.4L312.9 179.6L312.7 180.2L312.4 180.7L311.6 180.7L311.0 180.8L310.1 180.6L309.4 180.7L308.8 180.8L308.2 181.4L307.9 181.3L307.4 181.6L307.0 182.0L306.3 181.9L305.6 181.9L304.6 181.2L304.1 181.0L304.1 180.4L304.6 180.2L304.7 180.0L304.7 179.6L304.8 178.8L304.7 178.2L304.2 177.0L304.0 176.4L304.1 175.8L303.7 175.1L303.7 174.8L303.2 174.3L303.1 173.4L302.6 172.6L302.4 172.1L302.9 172.6L302.5 171.6L303.0 171.9L303.3 172.3L303.3 171.7L302.8 170.9L302.7 170.5L302.5 170.2L302.6 169.6L302.8 169.3L302.9 168.7L302.8 168.1L303.2 167.3L303.3 168.1L303.7 167.4L304.5 167.0L305.0 166.5L305.7 166.1L306.1 166.0L306.4 166.2L307.2 165.8L307.7 165.6L307.9 165.4L308.1 165.3L308.7 165.3L309.7 165.0L310.2 164.5L310.5 163.9L311.0 163.4L311.1 162.9L311.1 162.3L311.8 161.4L312.2 162.3L312.6 162.1L312.2 161.6L312.5 161.1L313.0 161.3L313.1 160.5L313.6 159.9L313.8 159.5L314.3 159.3L314.3 159.0L314.8 159.1L314.8 158.8L315.2 158.7L315.7 158.5L316.4 159.0L316.9 159.7L317.5 159.7L318.1 159.8L317.9 159.2L318.4 158.3L318.8 158.0L318.7 157.8L319.1 157.1L319.7 156.7L320.2 156.9L321.0 156.7L321.0 156.1L320.2 155.7L320.8 155.6L321.4 155.8L321.9 156.3L322.7 156.6L323.0 156.5L323.6 156.8L324.2 156.5L324.5 156.6L324.7 156.4L325.2 156.9L324.9 157.5L324.6 158.0L324.2 158.0L324.3 158.4L324.1 159.0L323.7 159.5L323.8 159.8L324.6 160.4L325.3 160.8L325.8 161.2L326.5 161.8L326.8 161.8L327.3 162.1L327.4 162.5L328.3 162.8L329.0 162.5L329.2 161.9L329.3 161.4L329.5 160.8L329.8 159.9L329.6 159.4L329.7 159.0L329.6 158.4L329.7 157.6L329.9 157.3L329.7 157.0L330.0 156.4L330.2 155.8L330.2 155.5L330.5 155.1L330.8 155.6L330.9 156.3L331.1 156.4L331.2 156.9L331.5 157.4L331.6 158.1L331.5 158.5Z M333.3 188.3L334.2 188.7L334.8 188.5L335.5 188.3L336.1 188.4L336.2 189.7L335.8 190.1L335.7 191.0L335.4 190.7L334.7 191.4L334.5 191.4L333.9 191.3L333.3 190.4L333.2 189.7L332.7 188.7L332.7 188.2L333.3 188.3Z M359.9 188.4L360.1 188.9L360.8 188.4L361.1 188.9L361.1 189.4L360.7 189.9L360.1 190.7L359.6 191.1L360.0 191.7L359.2 191.7L358.4 192.1L358.2 192.8L357.6 193.9L356.8 194.4L356.4 194.7L355.5 194.7L354.9 194.3L353.8 194.3L353.6 193.9L354.2 193.0L355.4 192.0L356.0 191.8L356.7 191.3L357.5 190.8L358.1 190.2L358.5 189.4L358.9 189.1L359.0 188.5L359.7 188.0L359.9 188.4Z M361.4 183.2L362.2 184.3L362.2 183.6L362.6 183.9L362.7 184.7L363.5 185.1L364.2 185.2L364.7 184.7L365.2 184.9L365.0 185.8L364.7 186.5L364.0 186.5L363.7 186.8L363.8 187.3L363.6 187.5L363.3 188.1L362.8 188.8L362.1 189.3L361.9 189.0L361.5 188.8L362.0 187.9L361.7 187.3L360.7 186.9L360.7 186.5L361.4 186.1L361.6 185.2L361.5 184.5L361.1 183.8L360.7 183.1L359.9 182.2L359.6 181.4L359.9 181.3L360.4 181.9L361.2 182.2L361.4 183.2Z M333.4 95.3L334.4 94.3L335.8 93.3L336.6 93.1L335.3 94.0L333.9 94.9L333.4 95.3Z M244.6 129.4L245.8 129.4L245.5 129.7L244.8 129.7L244.6 129.4Z M231.0 149.7L231.3 150.1L231.1 150.4L231.0 149.7Z M259.7 196.9L261.2 197.4L261.0 198.1L259.5 198.2L259.7 197.6L259.7 196.9Z M210.8 80.4L211.6 79.4L211.5 80.1L210.8 80.4Z M203.9 81.9L205.2 81.4L205.5 82.0L205.0 82.9L203.9 82.2L203.9 81.9Z M195.6 99.7L196.4 99.2L196.6 99.6L196.2 100.0L195.6 99.7Z M248.7 65.3L250.1 66.1L251.1 66.3L249.6 65.9L248.7 65.3Z M240.0 66.8L241.3 67.0L241.3 67.4L240.2 67.4L240.0 66.8Z M220.3 97.4L220.0 96.3L220.8 95.1L220.8 93.8L221.8 93.3L222.9 92.0L223.8 91.9L225.4 92.5L224.6 93.3L225.6 94.1L227.0 93.7L228.4 93.2L227.3 92.2L228.7 91.8L230.1 91.4L231.0 91.2L229.3 93.2L228.6 93.5L230.1 94.3L231.7 95.4L233.3 96.3L233.4 97.4L232.2 98.1L231.3 98.0L230.2 98.2L228.8 97.8L227.2 97.0L225.6 97.0L224.4 97.3L223.2 98.0L221.4 97.9L220.3 97.4Z M240.6 92.1L239.2 93.0L238.3 94.1L239.1 95.1L239.0 95.9L240.1 97.2L241.1 98.5L240.9 99.0L240.7 100.2L240.4 101.1L240.7 101.8L241.5 102.1L242.7 102.8L245.1 102.5L245.2 100.4L244.4 100.0L244.7 99.2L244.1 99.2L244.2 98.2L245.2 98.5L246.0 98.1L245.3 97.4L245.0 96.9L244.2 97.1L243.9 96.1L242.7 95.8L242.3 94.8L241.7 94.1L242.7 94.2L242.7 93.5L244.3 93.3L244.3 91.6L242.6 91.5L240.6 92.1Z"/></defs>
<clipPath id="land"><use href="#landp"/></clipPath>
<g clip-path="url(#land)">
<rect x="15" y="45" width="360" height="165" fill="#d5d5d5"/>
<path d="M164.4 110.2L164.4 74.9L168.3 72.7L168.7 69.4L183.7 66.1L188.5 57.3L193.3 52.9L229.9 52.9L229.9 58.4L225.1 63.9L223.2 66.6L221.6 67.0L220.8 67.1L220.7 67.9L222.2 68.6L221.3 69.5L222.4 70.7L221.7 71.7L222.6 72.5L222.2 73.2L223.7 74.0L223.3 74.5L222.2 75.5L220.3 76.6L219.8 77.0L216.9 77.3L214.0 77.7L212.3 79.3L212.2 82.0L209.7 82.3L207.3 83.0L206.9 84.0L207.1 84.6L206.8 84.9L207.2 85.3L207.4 85.9L207.4 86.2L207.8 86.9L207.3 87.1L207.1 86.9L206.8 87.1L206.1 87.4L205.8 87.6L205.1 87.9L205.3 88.2L205.4 88.7L205.8 88.9L206.4 89.4L207.1 89.7L207.6 89.3L208.0 89.2L208.7 89.6L209.2 89.5L209.6 89.7L209.7 90.2L209.6 90.7L209.0 90.7L209.2 90.9L208.9 91.6L208.7 91.8L207.9 91.8L207.4 92.1L206.6 92.0L206.5 92.5L206.7 93.0L206.5 93.1L206.1 93.3L206.3 94.1L207.7 95.7L210.6 97.4L211.5 98.9L212.3 99.6L212.6 99.5L213.2 99.1L213.2 98.7L213.5 98.3L214.2 98.2L214.5 97.9L215.1 97.9L215.2 97.8L216.1 97.7L216.9 97.4L217.6 97.8L218.5 97.2L219.4 96.8L220.3 97.0L221.2 96.1L225.1 95.9L229.9 96.4L233.3 97.5L234.3 97.4L235.3 98.0L235.4 98.4L235.3 98.9L236.1 99.2L236.4 99.5L235.8 99.8L236.1 101.1L235.9 101.4L236.4 102.3L236.0 102.5L235.6 102.2L234.5 102.1L234.1 102.2L233.0 102.4L232.5 102.4L231.4 102.8L230.6 102.8L230.1 102.6L229.0 102.9L228.7 102.7L228.6 103.3L228.4 103.6L228.1 103.8L227.9 103.7L227.2 104.2L226.8 105.5L224.1 105.5L219.3 105.3L216.4 105.3L214.5 104.7L208.7 104.2L204.9 103.3L204.4 101.8L201.0 101.2L196.2 101.4L191.4 103.6L187.9 103.7L164.4 103.6Z" fill="#c49c94"/>
<path d="M140.8 140.8L141.0 140.3L141.1 139.8L141.3 139.3L140.9 138.7L140.8 137.9L141.3 136.9L142.3 135.6L145.2 137.8L143.6 138.7L143.0 139.7L142.7 140.5L142.3 141.0L141.9 141.0L141.7 140.7L141.5 140.7L141.2 141.0Z" fill="#c49c94"/>
<path d="M199.1 92.3L199.1 91.8L199.8 91.1L199.8 90.9L200.2 91.0L200.5 90.8L201.3 90.8L201.5 90.6L202.5 90.9L202.4 91.4L202.9 91.6L203.4 91.6L203.3 92.0L202.9 92.2L202.1 92.1L201.9 92.5L201.5 92.6L201.3 92.4L200.8 92.8L200.3 92.8L199.9 92.6L199.6 92.1Z" fill="#d5d5d5"/>
<path d="M206.9 84.0L207.1 84.6L206.8 84.9L207.2 85.3L207.4 85.9L207.4 86.2L207.8 86.9L207.3 87.1L207.1 86.9L206.8 87.1L206.1 87.4L205.8 87.6L205.1 87.9L205.3 88.2L205.4 88.7L205.8 88.9L206.4 89.4L207.1 89.7L207.6 89.3L208.0 89.2L208.7 89.6L209.2 89.5L209.6 89.7L209.7 90.2L209.6 90.7L209.0 90.7L209.2 90.9L208.9 91.6L208.7 91.8L207.9 91.8L207.4 92.1L206.6 92.0L206.5 92.5L206.7 93.0L206.5 93.1L206.1 93.3L206.3 94.1L207.7 95.7L210.6 97.4L211.5 98.9L212.3 99.6L212.6 99.5L213.2 99.1L213.2 98.7L213.5 98.3L214.2 98.2L214.5 97.9L215.1 97.9L215.2 97.8L216.1 97.7L216.9 97.4L217.6 97.8L218.5 97.2L219.4 96.8L220.3 97.0L221.2 95.9L222.4 94.2L223.2 93.6L223.2 93.4L222.8 93.2L222.4 93.3L221.9 93.1L221.8 92.6L221.9 92.2L221.8 91.7L221.0 90.6L220.6 90.0L220.4 90.1L220.0 90.1L219.7 90.4L219.0 90.5L218.7 90.7L218.2 90.4L217.6 90.4L217.0 90.3L216.6 90.5L216.5 90.2L216.0 89.9L216.2 89.5L216.5 89.2L216.7 89.2L216.4 88.7L217.3 87.8L217.8 87.7L217.9 87.4L217.4 86.4L217.4 85.9L217.1 85.4L217.7 85.2L217.7 84.8L217.4 84.3L217.4 83.8L218.3 83.8L219.3 83.4L219.6 82.8L220.4 82.5L220.3 82.0L220.8 81.8L221.9 81.4L221.6 80.7L221.5 80.2L221.0 79.9L221.4 79.6L221.1 78.5L221.7 77.7L221.7 77.4L216.4 77.4L214.5 77.8L212.6 79.9L212.2 82.0L209.7 82.3L207.3 83.0Z" fill="#1f77b4"/>
<path d="M211.4 92.7L212.2 92.4L212.8 92.4L213.3 92.9L213.4 93.2L214.0 93.5L214.1 93.9L214.6 94.2L214.9 94.0L215.2 94.1L214.9 94.3L215.1 94.5L214.9 94.8L215.0 95.2L215.4 95.6L215.1 96.0L214.9 96.3L214.9 96.6L215.3 97.0L215.4 97.7L215.1 97.9L214.5 97.9L214.2 98.2L213.5 98.3L213.1 98.0L213.0 97.5L213.1 97.1L213.1 96.7L212.8 96.6L212.6 96.3L212.8 96.1L212.4 95.8L212.1 95.5L211.8 95.3L212.0 95.3L212.2 94.7L211.7 94.3L212.0 93.8L211.6 93.8L212.0 93.4L211.7 93.1Z" fill="#d5d5d5"/>
<path d="M223.2 66.6L225.1 63.9L229.9 58.4L229.9 49.6L366.6 49.6L366.6 88.2L337.8 92.6L334.1 94.1L331.0 92.8L329.1 92.8L327.2 93.7L323.3 97.0L319.9 97.5L319.2 96.7L319.1 96.0L319.6 96.0L319.7 94.7L319.5 93.7L320.3 93.3L321.5 93.5L322.1 92.4L322.4 91.2L322.8 90.8L323.3 89.8L321.7 90.2L320.9 90.6L319.4 90.6L319.0 89.6L317.9 88.8L316.2 88.4L315.9 87.3L315.5 86.7L315.2 86.2L314.6 85.1L313.7 84.7L312.3 84.3L311.0 84.4L309.8 84.6L309.0 85.1L309.6 85.4L309.6 86.0L309.0 86.4L308.2 87.5L308.2 88.0L306.8 88.7L305.7 88.3L304.5 88.4L304.0 88.0L303.4 87.9L302.0 88.7L300.8 88.8L299.9 89.1L298.7 88.9L297.8 89.0L297.2 88.4L296.2 87.9L295.3 87.7L294.0 87.9L293.1 88.1L291.8 87.6L291.6 86.8L290.5 86.5L289.6 86.4L288.5 85.9L287.5 87.0L287.9 87.7L287.0 88.5L285.6 88.2L284.6 88.1L284.0 87.6L283.0 87.6L282.1 87.3L280.7 87.8L278.8 88.7L277.8 88.9L277.4 89.0L276.7 89.8L275.9 89.9L275.8 91.0L275.3 91.5L273.4 91.1L272.7 93.1L272.2 93.3L270.3 93.8L271.2 95.7L270.5 96.0L270.6 96.6L270.0 96.4L269.5 96.0L268.1 95.9L266.5 95.9L266.1 96.0L264.8 95.5L264.2 95.8L264.1 96.4L262.5 96.0L261.9 96.2L261.6 96.7L261.9 96.8L261.1 97.5L261.8 97.9L262.5 97.7L263.7 98.2L262.4 99.0L261.7 98.9L261.3 98.9L261.2 98.6L261.4 98.1L260.1 98.4L259.8 99.1L259.3 99.7L258.5 99.7L258.2 100.1L259.0 100.4L259.2 101.2L258.6 102.3L257.9 102.1L257.4 102.1L257.4 101.4L256.1 101.0L255.1 100.4L254.5 99.9L253.4 99.1L252.9 98.0L252.6 97.8L251.5 97.8L251.2 97.6L251.1 96.7L249.8 96.2L249.0 96.8L248.1 97.2L248.3 97.7L247.2 97.7L246.7 97.8L246.0 96.9L245.4 96.6L244.3 96.9L243.9 97.2L240.4 101.0L240.1 101.1L239.5 100.5L239.9 100.0L239.6 99.7L239.2 99.7L238.1 100.5L237.7 100.6L237.1 100.4L236.4 99.5L236.1 99.2L235.3 98.9L235.4 98.4L235.3 98.0L234.3 97.4L233.3 97.5L229.9 95.9L225.1 95.3L223.2 94.2L221.8 93.6L221.8 93.4L221.4 93.2L220.9 93.3L220.5 93.1L220.3 92.6L220.4 92.2L220.4 91.7L219.5 90.6L219.2 90.0L218.9 90.1L218.5 90.1L218.3 90.4L217.6 90.5L217.2 90.7L216.8 90.4L216.2 90.4L215.6 90.3L215.2 90.5L215.1 90.2L214.6 89.9L214.8 89.5L215.0 89.2L215.2 89.2L215.0 88.7L215.9 87.8L216.3 87.7L216.4 87.4L216.0 86.4L215.9 85.9L215.6 85.4L216.2 85.2L216.2 84.8L216.0 84.3L215.9 83.8L216.8 83.8L217.9 83.4L218.1 82.8L218.9 82.5L218.8 82.0L219.4 81.8L220.4 81.4L220.1 80.7L220.0 80.2L219.6 79.9L220.0 79.6L219.7 78.5L220.2 77.7L220.3 77.2L219.8 76.9L220.3 76.6L222.2 75.5L223.3 74.5L223.7 74.0L222.2 73.2L222.6 72.5L221.7 71.7L222.4 70.7L221.3 69.5L222.2 68.6L220.7 67.9L220.8 67.1L221.6 67.0L223.2 66.6Z" fill="#ff7f0e"/>
<path d="M212.2 83.3L213.4 83.4L215.2 83.4L215.1 83.1L215.2 82.8L214.8 82.6L213.8 82.4L212.6 82.1L211.9 82.9Z" fill="#ff7f0e"/>
<path d="M20.0 63.9L30.4 63.9L30.4 71.6L27.4 72.7L20.0 72.7Z" fill="#ff7f0e"/>
<path d="M217.5 108.5L217.2 109.0L217.3 109.5L217.1 110.2L217.4 111.1L217.4 119.0L228.8 119.0L228.8 117.9L228.0 116.8L227.2 114.1L226.5 112.6L226.8 111.5L226.9 110.8L226.3 108.9L225.1 108.0L220.3 108.0Z" fill="#2ca02c"/>
<path d="M201.4 102.6L201.2 103.1L201.4 104.2L201.1 105.1L200.5 105.7L200.6 106.5L201.4 107.2L201.4 107.4L202.0 107.9L202.4 109.9L202.9 109.6L203.0 109.2L202.9 108.7L203.5 108.3L203.8 107.9L204.3 107.6L204.4 106.8L204.9 105.8L204.4 104.2L204.3 102.2L202.9 101.7L201.6 102.1Z" fill="#2ca02c"/>
<path d="M236.4 99.5L235.8 99.8L236.1 101.1L235.9 101.4L236.4 102.3L237.0 103.6L237.7 104.0L237.7 104.6L237.3 105.0L237.0 105.8L237.7 106.9L238.9 107.5L239.4 108.3L239.2 109.1L239.5 109.1L239.5 109.7L240.1 110.3L240.1 110.5L241.3 111.5L242.2 112.9L243.4 113.7L244.8 114.6L246.3 114.6L247.5 113.9L248.0 114.3L248.4 115.5L252.5 116.1L252.5 115.6L252.9 114.4L254.3 113.8L254.2 113.3L253.7 113.1L253.7 112.1L252.8 111.6L252.4 111.0L251.9 110.4L252.8 109.4L252.7 108.7L252.0 108.5L251.9 107.8L251.6 106.9L252.0 106.3L251.6 106.2L251.9 105.4L252.2 104.0L252.2 103.1L251.4 103.0L250.3 102.0L249.6 101.9L248.5 101.4L247.8 101.3L247.4 101.5L246.8 101.4L246.1 102.1L245.2 102.3L242.4 101.5L240.4 101.0L240.1 101.1L239.5 100.5L239.9 100.0L239.6 99.7L239.2 99.7L238.1 100.5L237.7 100.6L237.1 100.4L236.4 99.5Z" fill="#2ca02c"/>
<path d="M226.3 108.9L226.2 108.5L226.8 106.7L227.1 106.8L227.8 106.6L227.7 107.2L227.5 107.6L227.4 108.6L226.9 110.8Z" fill="#2ca02c"/>
<path d="M297.4 119.5L295.9 118.8L296.1 118.2L295.2 118.0L294.7 117.5L293.9 118.1L293.0 118.3L292.2 118.3L291.7 118.5L291.2 118.7L290.7 119.7L289.7 119.5L289.6 119.3L288.9 118.9L289.1 118.0L288.5 117.8L288.3 116.8L287.3 116.9L287.4 115.6L288.3 114.7L288.4 113.8L288.3 113.0L287.9 112.7L287.6 112.0L287.0 112.1L286.0 112.0L286.3 111.5L285.9 110.8L285.2 111.3L284.4 111.0L283.3 111.7L282.4 112.5L281.6 112.7L281.2 112.4L280.7 112.4L280.0 112.1L279.5 112.4L278.8 113.2L278.7 112.3L278.2 112.6L277.0 112.5L275.9 112.2L275.2 111.7L274.4 111.5L274.1 111.0L273.6 110.8L272.6 110.1L271.8 109.8L271.4 110.0L270.1 109.2L269.1 108.5L268.9 107.3L269.6 107.5L269.6 106.9L269.2 106.3L269.3 105.5L268.3 104.2L266.7 103.7L266.4 102.9L265.7 102.4L265.5 102.0L265.4 101.4L265.4 101.0L264.8 100.7L264.5 100.8L264.3 99.8L264.5 99.6L264.4 99.3L265.3 98.8L266.0 98.6L267.0 98.7L267.4 98.0L268.6 97.9L268.9 97.4L270.5 96.9L270.6 96.6L270.5 96.0L271.2 95.7L270.3 93.8L272.2 93.3L272.7 93.1L273.4 91.1L275.3 91.5L275.8 91.0L275.9 89.9L276.7 89.8L277.4 89.0L277.8 88.9L278.1 89.7L278.9 90.3L280.2 90.7L280.9 91.6L280.5 92.9L280.9 93.4L282.0 93.5L283.3 93.7L284.5 94.4L285.1 94.5L285.5 95.5L286.1 96.2L287.1 96.2L289.1 96.4L290.4 96.3L291.4 96.4L292.8 97.1L294.0 97.1L294.4 97.4L295.5 96.8L297.1 96.5L298.5 96.4L299.6 96.0L300.3 95.4L301.0 95.1L300.8 94.7L300.5 94.3L301.0 93.6L301.6 93.7L302.6 93.9L303.5 93.3L305.0 92.9L305.7 92.1L306.4 91.8L307.8 91.7L308.5 91.8L308.6 91.4L307.8 90.6L307.0 90.3L306.3 90.7L305.3 90.5L304.8 90.7L304.5 90.2L305.2 89.1L305.7 88.3L306.8 88.7L308.2 88.0L308.2 87.5L309.0 86.4L309.6 86.0L309.6 85.4L309.0 85.1L309.8 84.6L311.0 84.4L312.3 84.3L313.7 84.7L314.6 85.1L315.2 86.2L315.5 86.7L315.9 87.3L316.2 88.4L317.9 88.8L319.0 89.6L319.4 90.6L320.9 90.6L321.7 90.2L323.3 89.8L322.8 90.8L322.4 91.2L322.1 92.4L321.5 93.5L320.3 93.3L319.5 93.7L319.7 94.7L319.6 96.0L319.1 96.0L319.1 96.5L318.5 95.9L318.1 96.5L316.6 97.0L316.8 97.6L315.9 97.5L315.5 97.2L314.8 98.0L313.8 98.6L313.0 99.3L312.9 100.1L312.2 102.5L312.7 106.9L312.2 110.2L310.3 114.1L308.5 116.2L307.4 118.5L303.1 120.1L300.7 120.6L300.7 123.4L297.6 123.4L297.1 121.8L297.2 119.8Z" fill="#aec7e8"/>
<path d="M259.0 117.2L259.6 116.4L261.7 116.4L261.5 115.5L261.0 114.9L260.9 114.1L260.2 113.6L261.3 112.4L262.4 112.5L263.4 111.4L264.0 110.2L265.0 109.1L265.0 108.4L265.8 107.7L265.0 107.2L264.7 106.4L264.3 105.5L264.8 105.0L266.3 105.3L267.3 105.1L268.3 104.2L269.3 105.5L269.2 106.3L269.6 106.9L269.6 107.5L268.9 107.3L269.1 108.5L270.1 109.2L271.4 110.0L271.8 109.8L272.6 110.1L273.6 110.8L274.1 111.0L274.4 111.5L275.2 111.7L275.9 112.2L277.0 112.5L278.2 112.6L278.7 112.3L278.8 113.2L279.7 113.8L280.3 113.7L281.1 113.7L281.9 113.7L282.0 113.0L281.6 112.7L282.4 112.5L283.3 111.7L284.4 111.0L285.2 111.3L285.9 110.8L286.3 111.5L286.0 112.0L287.0 112.1L287.1 112.6L286.8 112.8L286.8 113.4L286.2 113.2L284.9 114.0L284.9 114.6L284.4 115.6L284.4 116.1L283.9 117.0L283.2 116.7L283.1 117.9L282.9 118.3L283.0 118.7L282.5 119.0L282.5 119.8L282.2 119.6L282.3 120.5L280.9 121.2L278.0 122.3L272.3 127.9L271.3 130.1L270.6 131.9L269.9 132.9L269.4 133.8L268.4 135.6L265.5 135.6L260.7 123.4L258.3 117.9Z" fill="#c5b0d5"/>
<path d="M314.7 101.7L315.3 101.6L315.7 101.1L316.8 101.0L316.9 100.7L319.5 100.7L319.0 104.2L317.0 105.6L313.7 106.4L313.7 102.3Z" fill="#d62728"/>
<path d="M288.2 132.3L288.7 131.2L289.2 130.2L288.8 129.2L288.8 128.7L288.7 128.0L288.1 127.2L287.9 126.6L288.2 126.4L288.5 125.5L288.1 124.7L287.5 123.9L287.1 123.0L287.5 122.8L287.9 121.6L288.6 121.5L289.2 121.0L289.7 120.8L290.1 121.1L290.2 121.8L290.8 121.8L290.6 123.0L290.6 124.0L291.6 123.3L291.9 123.5L292.5 123.5L292.7 123.1L293.4 123.2L294.1 124.1L294.2 125.2L295.0 126.1L294.9 127.1L294.6 127.6L293.7 127.4L292.5 127.6L291.9 128.5L292.1 129.9L292.0 130.6L292.3 135.6L291.7 136.4L291.3 136.9L290.7 137.0L290.6 136.5L289.9 136.0L289.7 136.2L288.6 136.7L287.2 134.5L287.7 132.4Z" fill="#d62728"/>
<path d="M297.4 119.5L295.9 118.8L296.1 118.2L295.2 118.0L294.7 117.5L293.9 118.1L293.0 118.3L292.2 118.3L291.7 118.5L292.2 119.4L292.7 120.4L293.9 120.4L294.2 121.4L293.6 121.7L293.4 122.0L294.5 122.7L295.3 124.0L295.9 125.0L296.6 125.8L296.9 126.5L296.7 127.6L296.9 128.4L296.8 129.7L295.2 130.5L295.6 131.2L294.6 131.3L293.8 131.7L293.5 134.5L299.2 134.5L299.7 125.7L297.1 121.8L297.2 119.8Z" fill="#9467bd"/>
<path d="M317.5 109.1L317.5 105.9L318.8 104.0L325.2 100.3L327.6 96.4L329.6 92.8L331.5 92.8L333.5 94.1L333.7 95.9L331.0 100.3L329.6 105.3L323.3 108.0L319.5 110.2Z" fill="#ff9896"/>
<path d="M301.2 156.5L310.8 156.5L317.5 155.2L330.5 154.6L332.0 154.6L333.9 157.6L342.6 170.9L342.6 192.9L301.2 192.9Z" fill="#ff9896"/>
<path d="M209.0 174.8L209.5 174.3L209.9 174.6L210.0 175.0L210.5 175.1L211.1 175.3L211.6 175.2L212.5 174.7L212.5 170.6L212.7 170.8L213.3 171.8L213.2 172.5L213.4 172.9L214.1 172.8L214.6 172.3L215.0 172.0L215.3 171.4L215.7 171.2L216.2 171.3L216.6 171.6L217.4 171.7L218.0 171.4L218.1 171.1L218.3 170.5L218.8 170.5L219.1 170.0L219.4 169.3L220.3 168.5L221.6 167.7L222.0 167.7L222.5 167.9L222.8 167.7L223.3 167.8L223.8 169.4L224.0 170.2L223.9 171.4L224.0 171.8L223.5 171.6L223.2 171.7L223.1 172.0L222.8 172.4L222.9 172.8L223.4 173.4L224.0 173.3L224.2 172.8L224.9 172.8L227.0 174.2L222.2 183.0L210.6 183.0L207.7 176.4Z" fill="#8c564b"/>
<path d="M221.2 175.2L221.5 175.6L221.2 176.1L221.1 176.5L220.5 176.6L220.4 177.0L220.0 177.1L219.3 176.3L219.8 175.5L220.3 175.1L220.8 174.9Z" fill="#d5d5d5"/>
<path d="M233.7 155.4L243.4 155.4L243.4 173.1L233.7 173.1Z" fill="#8c564b"/>
<path d="M80.5 107.4L81.6 107.3L82.8 107.2L82.7 107.4L84.2 108.0L86.4 108.7L88.3 108.7L89.1 108.7L89.1 108.3L90.7 108.3L91.1 108.7L91.6 109.0L92.1 109.5L92.5 110.1L92.7 110.7L93.2 111.0L94.0 111.4L94.6 110.5L95.4 110.5L96.1 110.9L96.6 111.6L96.9 112.3L97.5 112.9L97.7 113.7L97.9 114.2L98.7 114.5L99.4 114.8L99.8 114.8L101.8 116.8L103.7 120.1L108.6 117.9L111.4 119.6L109.5 123.0L108.3 122.9L107.7 123.6L107.4 123.5L106.6 123.6L105.7 123.6L105.7 124.3L105.2 124.3L105.6 124.6L105.9 124.9L106.1 125.1L106.2 125.6L104.9 125.6L104.5 126.5L104.6 126.7L104.5 126.9L104.5 127.3L101.8 129.0L87.4 124.6L77.7 112.4Z" fill="#ffbb78"/>
<path d="M110.8 131.1L110.9 130.9L111.5 131.2L111.8 131.1L112.1 131.2L112.5 131.5L112.7 131.2L113.6 131.4L114.1 132.5L113.8 132.7L113.4 132.8L113.4 133.3L113.6 133.5L113.5 133.6L113.5 134.0L113.4 134.2L113.4 134.8L111.4 133.9L110.0 132.3L110.2 131.2Z" fill="#ffbb78"/>
<path d="M118.8 133.7L119.1 132.3L121.1 129.5L124.4 129.0L124.7 129.8L124.6 130.3L124.0 130.5L123.7 131.0L123.4 131.4L123.1 131.8L123.0 132.6L122.7 133.2L123.2 133.3L123.3 133.8L123.5 134.0L123.6 134.5L123.5 134.9L123.5 135.1L123.8 135.2L124.0 135.6L125.2 135.5L125.8 135.6L126.5 136.6L126.9 136.5L127.6 136.5L128.1 136.4L128.5 136.6L128.3 137.2L128.1 137.5L128.0 138.3L128.2 139.1L128.5 139.4L128.5 139.6L128.0 140.2L128.3 140.4L128.6 140.8L128.9 141.9L128.7 142.1L128.5 141.4L128.3 141.1L127.9 141.4L126.1 141.4L126.1 142.1L126.6 142.2L126.6 142.6L126.4 142.5L125.9 142.7L125.9 143.5L126.3 143.9L126.4 144.5L126.4 145.0L126.0 148.0L125.5 147.5L125.2 147.4L125.8 146.3L125.1 145.8L124.5 145.9L124.2 145.7L123.6 146.0L122.9 145.8L122.4 144.7L121.9 144.4L121.6 143.9L120.9 144.3L120.7 143.5L120.3 143.2L119.8 142.8L119.6 143.0L118.7 142.9L118.5 142.4L117.4 141.8L116.3 141.1L117.2 136.7L118.3 135.3Z" fill="#ffbb78"/>
<path d="M143.6 138.7L143.0 139.7L142.7 140.5L142.3 141.0L141.9 141.0L141.7 140.7L141.5 140.7L141.2 141.0L140.8 140.8L140.2 140.5L139.8 140.6L139.4 140.5L139.3 140.9L139.5 141.1L139.4 141.3L138.9 141.2L138.6 141.2L138.1 141.1L137.8 141.4L137.3 141.6L137.0 141.7L136.9 141.9L136.5 141.8L135.9 141.3L135.8 140.8L135.5 140.3L135.7 139.3L136.0 138.9L135.7 138.4L135.4 138.3L135.5 137.8L135.3 137.5L134.8 137.6L134.9 137.9L134.6 138.3L133.5 138.7L132.8 138.9L132.5 139.1L131.8 138.9L131.1 138.7L130.9 138.8L131.3 139.1L131.3 139.8L131.4 140.5L132.2 140.6L132.3 140.9L131.6 141.2L131.5 141.7L131.1 141.8L130.4 142.1L130.2 142.4L129.4 142.5L128.9 141.9L128.7 142.1L128.5 141.4L128.3 141.1L127.9 141.4L126.1 141.4L126.1 142.1L126.6 142.2L126.6 142.6L126.4 142.5L125.9 142.7L125.9 143.5L126.3 143.9L126.4 144.5L126.4 145.0L126.0 148.0L125.1 148.0L125.0 148.2L124.2 148.4L123.1 149.1L123.0 149.6L122.8 150.0L122.9 150.6L122.3 150.9L122.3 151.4L122.0 151.6L122.5 152.6L123.0 153.3L122.8 153.7L123.4 153.8L123.8 154.4L124.6 154.4L125.4 153.8L125.4 155.4L125.8 155.6L126.3 155.4L127.1 155.5L127.6 155.4L127.8 155.1L128.6 154.7L129.1 154.3L130.4 154.1L130.3 154.9L130.4 155.3L130.3 156.1L131.4 157.0L132.4 157.2L132.8 157.6L133.5 157.9L133.9 158.2L134.5 158.2L135.0 158.5L135.1 159.1L135.3 159.5L135.3 159.9L135.0 159.9L135.4 161.2L137.2 161.3L137.1 161.9L137.2 162.3L137.7 162.7L137.9 163.3L137.8 164.2L137.5 164.7L137.6 165.3L137.3 165.6L137.6 166.2L137.5 167.7L138.5 167.9L138.9 167.7L139.6 168.0L139.7 168.3L139.8 169.3L139.9 169.7L140.3 169.8L140.7 169.6L141.0 169.8L141.0 170.4L140.9 171.0L140.7 171.7L141.2 171.5L141.7 172.1L141.6 173.0L140.8 173.6L140.2 174.0L139.1 175.1L137.8 176.6L138.4 176.5L139.4 177.4L139.8 177.3L140.7 178.0L141.5 178.6L142.1 179.4L141.6 179.9L141.9 180.5L143.2 181.9L154.8 176.4L164.4 148.8L150.0 137.8L145.2 137.8Z" fill="#ffbb78"/>
<path d="M128.7 168.4L128.0 168.5L128.5 169.8L127.4 170.3L127.4 172.2L127.2 172.5L127.5 173.0L126.9 173.6L126.2 174.7L125.9 175.7L126.0 176.8L125.4 177.9L125.8 179.8L126.1 180.0L126.1 181.0L125.5 182.1L125.5 183.0L124.8 183.7L124.8 184.7L125.1 185.8L124.5 186.2L124.3 187.2L124.0 188.3L124.2 189.7L123.8 189.9L124.0 191.2L124.5 191.6L124.2 192.1L124.6 192.3L124.7 192.7L124.3 192.9L124.4 193.5L124.0 195.0L123.5 195.9L123.6 196.5L123.3 197.2L122.6 197.7L122.7 198.9L123.0 199.3L123.7 199.2L123.6 200.0L124.1 200.7L126.4 200.8L127.3 201.0L127.4 201.1L127.2 201.4L127.2 203.8L129.7 205.1L133.6 202.9L131.7 196.2L135.5 189.6L140.3 184.1L138.1 181.0L137.0 180.7L137.1 180.0L137.3 179.7L137.3 178.6L137.6 177.5L137.8 176.6L139.1 175.1L140.2 174.0L140.8 173.6L141.6 173.0L141.7 172.1L141.2 171.5L140.7 171.7L140.5 172.7L139.7 173.5L138.9 173.7L137.8 173.5L136.8 173.2L137.8 171.5L137.7 171.0L136.7 170.6L135.5 169.8L134.7 169.6L132.9 167.8L132.8 167.6L131.7 167.6L131.3 168.4L130.7 167.6L129.5 167.4L128.7 168.4Z" fill="#ffbb78"/>
<path d="M30.6 63.9L30.6 71.6L27.2 72.7L27.2 74.4L20.0 82.6L20.0 126.8L48.9 126.8L72.9 108.0L80.5 107.4L81.6 107.3L82.8 107.2L82.7 107.4L84.2 108.0L86.4 108.7L88.3 108.7L89.1 108.7L89.1 108.3L90.7 108.3L91.1 108.7L91.6 109.0L92.1 109.5L92.5 110.1L92.7 110.7L93.2 111.0L94.0 111.4L94.6 110.5L95.4 110.5L96.1 110.9L96.6 111.6L96.9 112.3L97.5 112.9L97.7 113.7L97.9 114.2L98.7 114.5L99.4 114.8L99.8 114.8L106.6 114.6L114.3 116.8L116.9 115.2L117.2 113.0L117.7 110.2L135.5 99.2L145.2 88.2L140.3 74.9L135.5 68.3L125.9 61.7L121.1 58.4L121.6 57.0L124.0 56.1L126.9 55.5L127.3 54.7L129.7 54.0L132.1 53.3L134.6 52.5L136.5 51.2L136.5 49.6L30.6 49.6Z" fill="#98df8a"/>
<path d="M319.1 96.5L319.1 96.0L319.6 96.0L319.7 94.7L319.5 93.7L320.3 93.3L321.5 93.5L322.1 92.4L322.4 91.2L322.8 90.8L323.3 89.8L321.7 90.2L320.9 90.6L319.4 90.6L319.0 89.6L317.9 88.8L316.2 88.4L315.9 87.3L315.5 86.7L315.2 86.2L314.6 85.1L313.7 84.7L312.3 84.3L311.0 84.4L309.8 84.6L309.0 85.1L309.6 85.4L309.6 86.0L309.0 86.4L308.2 87.5L308.2 88.0L306.8 88.7L305.7 88.3" fill="none" stroke="#555" stroke-opacity="0.4" stroke-width="0.35"/>
<path d="M305.7 88.3L304.5 88.4L304.0 88.0L303.4 87.9L302.0 88.7L300.8 88.8L299.9 89.1L298.7 88.9L297.8 89.0L297.2 88.4L296.2 87.9L295.3 87.7L294.0 87.9L293.1 88.1L291.8 87.6L291.6 86.8L290.5 86.5L289.6 86.4L288.5 85.9L287.5 87.0L287.9 87.7L287.0 88.5L285.6 88.2L284.6 88.1L284.0 87.6L283.0 87.6L282.1 87.3L280.7 87.8L278.8 88.7L277.8 88.9" fill="none" stroke="#555" stroke-opacity="0.4" stroke-width="0.35"/>
<path d="M277.8 88.9L277.4 89.0L276.7 89.8L275.9 89.9L275.8 91.0L275.3 91.5L273.4 91.1L272.7 93.1L272.2 93.3L270.3 93.8L271.2 95.7L270.5 96.0L270.6 96.6L270.5 96.9L268.9 97.4L268.6 97.9L267.4 98.0L267.0 98.7L266.0 98.6L265.3 98.8L264.4 99.3L264.5 99.6L264.3 99.8L264.5 100.8L264.8 100.7L265.4 101.0L265.4 101.4L265.5 102.0" fill="none" stroke="#555" stroke-opacity="0.4" stroke-width="0.35"/>
<path d="M265.5 102.0L264.5 102.0L263.8 101.9L263.3 102.4L262.8 102.6L262.5 102.8L262.1 102.4L262.2 101.5L261.9 101.4L262.0 101.1L261.5 100.9L261.1 101.2L261.0 101.7L260.8 101.8L260.2 101.8L259.9 102.3L259.6 102.1L258.9 102.5L258.6 102.3L257.9 102.1L257.4 102.1L257.1 102.1L256.6 101.8L256.5 102.2L255.7 102.4L255.5 103.3L254.9 103.6L254.2 103.8L253.9 104.3L253.2 104.4L252.2 104.0" fill="none" stroke="#555" stroke-opacity="0.4" stroke-width="0.35"/>
<path d="M252.2 104.0L252.2 103.1L251.4 103.0L250.3 102.0L249.6 101.9L248.5 101.4L247.8 101.3L247.4 101.5L246.8 101.4L246.1 102.1L245.2 102.3" fill="none" stroke="#555" stroke-opacity="0.4" stroke-width="0.35"/>
<path d="M240.4 101.0L240.1 101.1L239.5 100.5L239.9 100.0L239.6 99.7L239.2 99.7L238.1 100.5L237.7 100.6L237.1 100.4L236.4 99.5" fill="none" stroke="#555" stroke-opacity="0.4" stroke-width="0.35"/>
<path d="M236.4 99.5L236.1 99.2L235.3 98.9L235.4 98.4L235.3 98.0L234.3 97.4L233.3 97.5" fill="none" stroke="#555" stroke-opacity="0.4" stroke-width="0.35"/>
<path d="M221.8 93.6L221.8 93.4L221.4 93.2L220.9 93.3L220.5 93.1L220.3 92.6L220.4 92.2L220.4 91.7L219.5 90.6L219.2 90.0L218.9 90.1L218.5 90.1L218.3 90.4L217.6 90.5L217.2 90.7L216.8 90.4L216.2 90.4L215.6 90.3L215.2 90.5L215.1 90.2L214.6 89.9L214.8 89.5L215.0 89.2L215.2 89.2L215.0 88.7L215.9 87.8L216.3 87.7L216.4 87.4L216.0 86.4L215.9 85.9L215.6 85.4L216.2 85.2L216.2 84.8L216.0 84.3L215.9 83.8L216.8 83.8L217.9 83.4L218.1 82.8L218.9 82.5L218.8 82.0L219.4 81.8L220.4 81.4L220.1 80.7L220.0 80.2L219.6 79.9L220.0 79.6L219.7 78.5L220.2 77.7" fill="none" stroke="#555" stroke-opacity="0.4" stroke-width="0.35"/>
<path d="M220.3 76.6L222.2 75.5L223.3 74.5L223.7 74.0L222.2 73.2L222.6 72.5L221.7 71.7L222.4 70.7L221.3 69.5L222.2 68.6L220.7 67.9L220.8 67.1L221.6 67.0L223.2 66.6" fill="none" stroke="#555" stroke-opacity="0.4" stroke-width="0.35"/>
<path d="M206.9 84.0L207.1 84.6L206.8 84.9L207.2 85.3L207.4 85.9L207.4 86.2L207.8 86.9L207.3 87.1L207.1 86.9L206.8 87.1L206.1 87.4L205.8 87.6L205.1 87.9L205.3 88.2L205.4 88.7L205.8 88.9L206.4 89.4L207.1 89.7L207.6 89.3L208.0 89.2L208.7 89.6L209.2 89.5L209.6 89.7L209.7 90.2L209.6 90.7L209.0 90.7L209.2 90.9L208.9 91.6L208.7 91.8L207.9 91.8L207.4 92.1L206.6 92.0L206.5 92.5L206.7 93.0L206.5 93.1" fill="none" stroke="#555" stroke-opacity="0.4" stroke-width="0.35"/>
<path d="M212.6 99.5L213.2 99.1L213.2 98.7L213.5 98.3L214.2 98.2L214.5 97.9L215.1 97.9L215.2 97.8L216.1 97.7L216.9 97.4L217.6 97.8L218.5 97.2L219.4 96.8L220.3 97.0" fill="none" stroke="#555" stroke-opacity="0.4" stroke-width="0.35"/>
<path d="M227.9 103.7L228.1 103.8L228.4 103.6L228.6 103.3L228.7 102.7L229.0 102.9L230.1 102.6L230.6 102.8L231.4 102.8L232.5 102.4L233.0 102.4L234.1 102.2L234.5 102.1L235.6 102.2L236.0 102.5L236.4 102.3L235.9 101.4L236.1 101.1L235.8 99.8L236.4 99.5" fill="none" stroke="#555" stroke-opacity="0.4" stroke-width="0.35"/>
<path d="M236.4 99.5L235.8 99.8L236.1 101.1L235.9 101.4L236.4 102.3L237.0 103.6L237.7 104.0L237.7 104.6L237.3 105.0L237.0 105.8L237.7 106.9L238.9 107.5L239.4 108.3L239.2 109.1L239.5 109.1L239.5 109.7L240.1 110.3" fill="none" stroke="#555" stroke-opacity="0.4" stroke-width="0.35"/>
<path d="M252.5 115.6L252.9 114.4L254.3 113.8L254.2 113.3L253.7 113.1L253.7 112.1L252.8 111.6L252.4 111.0L251.9 110.4L252.8 109.4L252.7 108.7L252.0 108.5L251.9 107.8L251.6 106.9L252.0 106.3L251.6 106.2L251.9 105.4L252.2 104.0" fill="none" stroke="#555" stroke-opacity="0.4" stroke-width="0.35"/>
<path d="M297.4 119.5L295.9 118.8L296.1 118.2L295.2 118.0L294.7 117.5L293.9 118.1L293.0 118.3L292.2 118.3L291.7 118.5L291.2 118.7L290.7 119.7L289.7 119.5L289.6 119.3L288.9 118.9L289.1 118.0L288.5 117.8L288.3 116.8L287.3 116.9L287.4 115.6L288.3 114.7L288.4 113.8L288.3 113.0L287.9 112.7L287.6 112.0L287.0 112.1" fill="none" stroke="#555" stroke-opacity="0.4" stroke-width="0.35"/>
<path d="M287.0 112.1L286.0 112.0L286.3 111.5L285.9 110.8L285.2 111.3L284.4 111.0L283.3 111.7L282.4 112.5L281.6 112.7" fill="none" stroke="#555" stroke-opacity="0.4" stroke-width="0.35"/>
<path d="M281.6 112.7L281.2 112.4L280.7 112.4L280.0 112.1L279.5 112.4L278.8 113.2L278.7 112.3L278.2 112.6" fill="none" stroke="#555" stroke-opacity="0.4" stroke-width="0.35"/>
<path d="M278.2 112.6L277.0 112.5L275.9 112.2L275.2 111.7L274.4 111.5L274.1 111.0L273.6 110.8L272.6 110.1L271.8 109.8L271.4 110.0" fill="none" stroke="#555" stroke-opacity="0.4" stroke-width="0.35"/>
<path d="M271.4 110.0L270.1 109.2L269.1 108.5L268.9 107.3L269.6 107.5L269.6 106.9L269.2 106.3L269.3 105.5L268.3 104.2" fill="none" stroke="#555" stroke-opacity="0.4" stroke-width="0.35"/>
<path d="M268.3 104.2L266.7 103.7L266.4 102.9L265.7 102.4L265.5 102.0" fill="none" stroke="#555" stroke-opacity="0.4" stroke-width="0.35"/>
<path d="M277.8 88.9L278.1 89.7L278.9 90.3L280.2 90.7L280.9 91.6L280.5 92.9L280.9 93.4L282.0 93.5L283.3 93.7L284.5 94.4L285.1 94.5L285.5 95.5L286.1 96.2L287.1 96.2L289.1 96.4L290.4 96.3L291.4 96.4L292.8 97.1L294.0 97.1L294.4 97.4L295.5 96.8L297.1 96.5L298.5 96.4L299.6 96.0L300.3 95.4L301.0 95.1L300.8 94.7L300.5 94.3L301.0 93.6L301.6 93.7L302.6 93.9L303.5 93.3L305.0 92.9L305.7 92.1L306.4 91.8L307.8 91.7L308.5 91.8L308.6 91.4L307.8 90.6L307.0 90.3L306.3 90.7L305.3 90.5L304.8 90.7L304.5 90.2L305.2 89.1L305.7 88.3" fill="none" stroke="#555" stroke-opacity="0.4" stroke-width="0.35"/>
<path d="M319.1 96.5L318.5 95.9L318.1 96.5L316.6 97.0L316.8 97.6L315.9 97.5L315.5 97.2L314.8 98.0L313.8 98.6L313.0 99.3" fill="none" stroke="#555" stroke-opacity="0.4" stroke-width="0.35"/>
<path d="M259.0 117.2L259.6 116.4L261.7 116.4L261.5 115.5L261.0 114.9L260.9 114.1L260.2 113.6L261.3 112.4L262.4 112.5L263.4 111.4L264.0 110.2L265.0 109.1L265.0 108.4L265.8 107.7L265.0 107.2L264.7 106.4L264.3 105.5L264.8 105.0L266.3 105.3L267.3 105.1L268.3 104.2" fill="none" stroke="#555" stroke-opacity="0.4" stroke-width="0.35"/>
<path d="M278.8 113.2L279.7 113.8L280.3 113.7L281.1 113.7L281.9 113.7L282.0 113.0L281.6 112.7" fill="none" stroke="#555" stroke-opacity="0.4" stroke-width="0.35"/>
<path d="M287.0 112.1L287.1 112.6L286.8 112.8L286.8 113.4L286.2 113.2L284.9 114.0L284.9 114.6L284.4 115.6L284.4 116.1L283.9 117.0L283.2 116.7L283.1 117.9L282.9 118.3L283.0 118.7L282.5 119.0L282.5 119.8L282.2 119.6L282.3 120.5" fill="none" stroke="#555" stroke-opacity="0.4" stroke-width="0.35"/>
<path d="M80.5 107.4L81.6 107.3L82.8 107.2L82.7 107.4L84.2 108.0L86.4 108.7L88.3 108.7L89.1 108.7L89.1 108.3L90.7 108.3L91.1 108.7L91.6 109.0L92.1 109.5L92.5 110.1L92.7 110.7L93.2 111.0L94.0 111.4L94.6 110.5L95.4 110.5L96.1 110.9L96.6 111.6L96.9 112.3L97.5 112.9L97.7 113.7L97.9 114.2L98.7 114.5L99.4 114.8L99.8 114.8" fill="none" stroke="#555" stroke-opacity="0.4" stroke-width="0.35"/>
<path d="M108.3 122.9L107.7 123.6L107.4 123.5L106.6 123.6L105.7 123.6L105.7 124.3L105.2 124.3L105.6 124.6L105.9 124.9L106.1 125.1L106.2 125.6L104.9 125.6L104.5 126.5L104.6 126.7L104.5 126.9L104.5 127.3" fill="none" stroke="#555" stroke-opacity="0.4" stroke-width="0.35"/>
<path d="M124.6 130.3L124.0 130.5L123.7 131.0L123.4 131.4L123.1 131.8L123.0 132.6L122.7 133.2L123.2 133.3L123.3 133.8L123.5 134.0L123.6 134.5L123.5 134.9L123.5 135.1L123.8 135.2L124.0 135.6L125.2 135.5L125.8 135.6L126.5 136.6L126.9 136.5L127.6 136.5L128.1 136.4L128.5 136.6L128.3 137.2L128.1 137.5L128.0 138.3L128.2 139.1L128.5 139.4L128.5 139.6L128.0 140.2L128.3 140.4L128.6 140.8L128.9 141.9" fill="none" stroke="#555" stroke-opacity="0.4" stroke-width="0.35"/>
<path d="M128.9 141.9L128.7 142.1L128.5 141.4L128.3 141.1L127.9 141.4L126.1 141.4L126.1 142.1L126.6 142.2L126.6 142.6L126.4 142.5L125.9 142.7L125.9 143.5L126.3 143.9L126.4 144.5L126.4 145.0L126.0 148.0" fill="none" stroke="#555" stroke-opacity="0.4" stroke-width="0.35"/>
<path d="M126.0 148.0L125.5 147.5L125.2 147.4L125.8 146.3L125.1 145.8L124.5 145.9L124.2 145.7L123.6 146.0L122.9 145.8L122.4 144.7L121.9 144.4L121.6 143.9L120.9 144.3L120.7 143.5L120.3 143.2L119.8 142.8L119.6 143.0L118.7 142.9L118.5 142.4L117.4 141.8" fill="none" stroke="#555" stroke-opacity="0.4" stroke-width="0.35"/>
<path d="M126.0 148.0L125.1 148.0L125.0 148.2L124.2 148.4L123.1 149.1L123.0 149.6L122.8 150.0L122.9 150.6L122.3 150.9L122.3 151.4L122.0 151.6L122.5 152.6L123.0 153.3L122.8 153.7L123.4 153.8L123.8 154.4L124.6 154.4L125.4 153.8L125.4 155.4L125.8 155.6L126.3 155.4L127.1 155.5L127.6 155.4L127.8 155.1L128.6 154.7L129.1 154.3L130.4 154.1L130.3 154.9L130.4 155.3L130.3 156.1L131.4 157.0L132.4 157.2L132.8 157.6L133.5 157.9L133.9 158.2L134.5 158.2L135.0 158.5L135.1 159.1L135.3 159.5L135.3 159.9L135.0 159.9L135.4 161.2L137.2 161.3L137.1 161.9L137.2 162.3L137.7 162.7L137.9 163.3L137.8 164.2L137.5 164.7L137.6 165.3L137.3 165.6L137.6 166.2L137.5 167.7L138.5 167.9L138.9 167.7L139.6 168.0L139.7 168.3L139.8 169.3L139.9 169.7L140.3 169.8L140.7 169.6L141.0 169.8L141.0 170.4L140.9 171.0L140.7 171.7L141.2 171.5L141.7 172.1L141.6 173.0L140.8 173.6L140.2 174.0L139.1 175.1L137.8 176.6L138.4 176.5L139.4 177.4L139.8 177.3L140.7 178.0L141.5 178.6L142.1 179.4L141.6 179.9L141.9 180.5" fill="none" stroke="#555" stroke-opacity="0.4" stroke-width="0.35"/>
<path d="M128.9 141.9L129.4 142.5L130.2 142.4L130.4 142.1L131.1 141.8L131.5 141.7L131.6 141.2L132.3 140.9L132.2 140.6L131.4 140.5L131.3 139.8L131.3 139.1L130.9 138.8L131.1 138.7L131.8 138.9L132.5 139.1L132.8 138.9L133.5 138.7L134.6 138.3L134.9 137.9L134.8 137.6L135.3 137.5L135.5 137.8L135.4 138.3L135.7 138.4L136.0 138.9L135.7 139.3L135.5 140.3L135.8 140.8L135.9 141.3L136.5 141.8L136.9 141.9L137.0 141.7L137.3 141.6L137.8 141.4L138.1 141.1L138.6 141.2L138.9 141.2L139.4 141.3L139.5 141.1L139.3 140.9L139.4 140.5L139.8 140.6L140.2 140.5L140.8 140.8L141.2 141.0L141.5 140.7L141.7 140.7L141.9 141.0L142.3 141.0L142.7 140.5L143.0 139.7L143.6 138.7" fill="none" stroke="#555" stroke-opacity="0.4" stroke-width="0.35"/>
<path d="M128.7 168.4L128.0 168.5L128.5 169.8L127.4 170.3L127.4 172.2L127.2 172.5L127.5 173.0L126.9 173.6L126.2 174.7L125.9 175.7L126.0 176.8L125.4 177.9L125.8 179.8L126.1 180.0L126.1 181.0L125.5 182.1L125.5 183.0L124.8 183.7L124.8 184.7L125.1 185.8L124.5 186.2L124.3 187.2L124.0 188.3L124.2 189.7L123.8 189.9L124.0 191.2L124.5 191.6L124.2 192.1L124.6 192.3L124.7 192.7L124.3 192.9L124.4 193.5L124.0 195.0L123.5 195.9L123.6 196.5L123.3 197.2L122.6 197.7L122.7 198.9L123.0 199.3L123.7 199.2L123.6 200.0L124.1 200.7L126.4 200.8L127.3 201.0" fill="none" stroke="#555" stroke-opacity="0.4" stroke-width="0.35"/>
<path d="M140.7 171.7L140.5 172.7L139.7 173.5L138.9 173.7L137.8 173.5L136.8 173.2L137.8 171.5L137.7 171.0L136.7 170.6L135.5 169.8L134.7 169.6L132.9 167.8L132.8 167.6L131.7 167.6L131.3 168.4L130.7 167.6L129.5 167.4L128.7 168.4" fill="none" stroke="#555" stroke-opacity="0.4" stroke-width="0.35"/>
<path d="M137.0 180.7L137.1 180.0L137.3 179.7L137.3 178.6L137.6 177.5L137.8 176.6" fill="none" stroke="#555" stroke-opacity="0.4" stroke-width="0.35"/>
<path d="M209.0 174.8L209.5 174.3L209.9 174.6L210.0 175.0L210.5 175.1L211.1 175.3L211.6 175.2L212.5 174.7L212.5 170.6L212.7 170.8L213.3 171.8L213.2 172.5L213.4 172.9L214.1 172.8L214.6 172.3L215.0 172.0L215.3 171.4L215.7 171.2L216.2 171.3L216.6 171.6L217.4 171.7L218.0 171.4L218.1 171.1L218.3 170.5L218.8 170.5L219.1 170.0L219.4 169.3L220.3 168.5L221.6 167.7L222.0 167.7L222.5 167.9L222.8 167.7L223.3 167.8L223.8 169.4L224.0 170.2L223.9 171.4L224.0 171.8L223.5 171.6L223.2 171.7L223.1 172.0L222.8 172.4L222.9 172.8L223.4 173.4L224.0 173.3L224.2 172.8L224.9 172.8" fill="none" stroke="#555" stroke-opacity="0.4" stroke-width="0.35"/>
<path d="M191.2 104.5L191.6 105.2L191.6 105.9L192.0 107.1L192.2 107.3L192.0 107.7L190.8 107.9L190.3 108.3L189.8 108.4L189.7 109.2L188.6 109.7L188.3 110.2L187.5 110.5L186.5 110.7L185.0 111.5L185.0 112.8" fill="none" stroke="#555" stroke-opacity="0.4" stroke-width="0.35"/>
<path d="M180.6 112.8L185.0 112.8L184.9 113.1L184.9 114.8L181.8 114.7L181.8 117.5L180.9 117.6L180.7 118.2L180.8 119.8L177.1 119.8L176.9 120.1" fill="none" stroke="#555" stroke-opacity="0.4" stroke-width="0.35"/>
<path d="M184.9 113.1L188.6 115.8L187.1 115.8L187.6 120.5L188.0 125.3L188.2 125.4L188.0 126.2L184.1 126.2L184.0 126.5L183.6 126.4L183.0 126.6L182.4 126.3L182.1 126.3L181.9 127.0L181.6 127.2" fill="none" stroke="#555" stroke-opacity="0.4" stroke-width="0.35"/>
<path d="M181.6 127.2L180.9 126.4L180.4 125.6L179.7 125.3L179.3 125.0L178.7 125.0L178.3 125.2L177.8 125.1L177.4 125.5" fill="none" stroke="#555" stroke-opacity="0.4" stroke-width="0.35"/>
<path d="M188.6 115.8L191.8 118.2L195.1 120.6L195.3 121.1L195.9 121.4L196.3 121.6L196.3 122.3L197.4 122.2" fill="none" stroke="#555" stroke-opacity="0.4" stroke-width="0.35"/>
<path d="M197.4 122.2L198.8 121.7L201.6 119.5L204.9 117.4" fill="none" stroke="#555" stroke-opacity="0.4" stroke-width="0.35"/>
<path d="M204.9 117.4L204.4 116.7L203.7 116.2L203.2 116.4L202.9 115.8L202.8 115.3L202.3 114.5L202.7 114.1L202.6 113.4L202.7 112.8L202.6 112.3L202.8 111.4L202.7 110.9L202.4 109.9" fill="none" stroke="#555" stroke-opacity="0.4" stroke-width="0.35"/>
<path d="M204.9 117.4L206.4 117.9L206.9 118.5L207.6 118.1L207.8 119.8L208.2 120.1L208.6 120.8L208.4 121.3L208.0 123.5L208.0 125.0L206.8 126.0L206.3 127.5" fill="none" stroke="#555" stroke-opacity="0.4" stroke-width="0.35"/>
<path d="M207.6 118.1L208.6 117.5L212.4 119.6L216.3 121.7L216.3 126.1" fill="none" stroke="#555" stroke-opacity="0.4" stroke-width="0.35"/>
<path d="M216.3 121.7L216.3 121.2L217.4 121.2L217.4 119.0" fill="none" stroke="#555" stroke-opacity="0.4" stroke-width="0.35"/>
<path d="M216.3 126.1L215.5 126.0L215.0 126.8L214.8 127.5L215.0 127.8L214.7 128.1L214.8 128.6L214.5 129.0L214.4 129.4L214.8 129.3L215.0 129.8L215.0 130.4L215.3 130.8L215.3 131.0L214.7 131.2L214.2 131.6L213.5 132.8L212.6 133.4L211.7 133.3L211.4 133.4L211.5 133.8L211.0 134.2L210.6 134.6L209.4 135.0L209.2 134.8L208.8 135.0L208.0 135.1" fill="none" stroke="#555" stroke-opacity="0.4" stroke-width="0.35"/>
<path d="M230.3 123.4L229.8 124.1L229.1 124.3L228.8 124.6L228.7 125.3L228.3 127.0L228.4 127.4L228.2 128.3L227.8 129.4L227.3 130.0L226.8 130.8L226.7 131.3L226.3 131.6L226.0 132.7L225.9 134.1L225.4 134.1L225.0 134.7L225.6 134.8L226.1 135.3L226.3 135.8L226.7 136.0L227.3 137.2" fill="none" stroke="#555" stroke-opacity="0.4" stroke-width="0.35"/>
<path d="M228.4 127.4L229.5 127.6L229.8 126.8L230.4 127.3L231.0 127.0L231.2 127.3L231.8 127.3L232.7 127.7L232.9 128.1L233.4 128.5L233.8 129.1L234.1 129.5L234.5 129.6L234.8 129.3" fill="none" stroke="#555" stroke-opacity="0.4" stroke-width="0.35"/>
<path d="M234.1 129.5L233.7 130.0L233.4 130.5L233.5 130.8L233.5 131.1L234.0 131.1L234.3 131.0L234.5 131.2L234.6 132.2L235.0 132.8L235.4 133.2L238.5 134.5L239.3 134.5L236.6 137.8L235.3 137.8L234.5 138.6L233.9 138.6L233.6 139.0" fill="none" stroke="#555" stroke-opacity="0.4" stroke-width="0.35"/>
<path d="M227.3 137.2L227.8 137.4L227.8 138.0L228.1 138.4L228.8 138.4L230.0 139.3L230.5 139.3L231.4 139.5L231.7 139.1L232.6 138.6L232.9 139.0L233.6 139.0L232.8 140.2L232.8 144.2L233.4 145.2" fill="none" stroke="#555" stroke-opacity="0.4" stroke-width="0.35"/>
<path d="M231.0 148.5L229.7 147.4L229.6 146.7L226.1 144.5L225.9 144.3L225.9 143.2L226.2 142.7L226.7 142.0L227.0 141.2L226.6 139.9L226.5 139.4L226.1 138.6L227.3 137.2" fill="none" stroke="#555" stroke-opacity="0.4" stroke-width="0.35"/>
<path d="M226.1 138.6L225.5 139.1L224.8 139.1L224.0 139.4L223.4 139.1L223.0 139.4L222.1 138.7L221.9 138.2L221.4 138.5L220.9 138.4L220.7 138.6L220.2 138.4L219.7 137.5L219.5 137.2L218.8 136.7L218.5 136.1L218.1 135.6L217.5 135.0L217.5 134.7L217.0 134.2L216.3 133.8L215.9 133.4L215.8 133.1L216.0 132.6L216.0 132.2L215.4 131.5L215.3 131.0" fill="none" stroke="#555" stroke-opacity="0.4" stroke-width="0.35"/>
<path d="M216.3 133.8L216.6 133.7L216.9 133.5L217.2 132.5L217.4 132.0L218.1 131.8L218.3 132.1L218.8 132.8L219.1 132.9L219.4 132.7L220.1 132.7L220.2 132.9L221.2 132.9L221.7 132.5L221.8 132.2L222.2 132.0L223.0 132.6L223.5 132.5L224.0 131.7L224.5 131.1L224.4 130.4L224.2 130.1L224.8 130.0L224.8 129.8L225.3 129.9L225.2 130.7L225.3 131.5L225.8 131.9L225.9 132.3L225.9 132.8" fill="none" stroke="#555" stroke-opacity="0.4" stroke-width="0.35"/>
<path d="M219.7 137.5L219.3 137.6L218.7 137.6L218.0 137.5L217.6 137.6L217.5 137.9L217.2 137.9L216.8 137.7L215.7 138.2L215.3 138.1L214.9 138.9L214.2 138.6L213.5 138.5L212.8 138.1L212.0 137.8L211.5 138.1L211.2 138.7L211.1 139.4L210.5 139.4L209.8 139.2L209.2 139.8L208.7 140.8" fill="none" stroke="#555" stroke-opacity="0.4" stroke-width="0.35"/>
<path d="M208.7 140.8L208.6 140.0L208.1 139.6L207.8 139.1L207.7 138.7L207.2 138.1L207.3 137.8L207.2 137.3L207.3 136.4L207.5 136.2L208.0 135.1L208.2 134.8L207.9 134.1L207.7 133.6L207.3 133.4L206.7 132.8L206.9 132.2L207.4 132.4L207.7 132.3L208.2 132.3L207.7 131.3L207.7 130.6L207.6 129.8L207.3 129.1L207.4 128.6L206.7 128.6L206.7 127.9L206.3 127.5" fill="none" stroke="#555" stroke-opacity="0.4" stroke-width="0.35"/>
<path d="M201.5 138.0L202.2 136.2L202.5 136.2L203.0 135.5L203.4 135.5L204.0 136.0L204.6 135.6L204.7 135.1L204.9 134.7L205.1 134.1L205.6 133.7L205.8 132.9L206.0 132.7L206.1 132.1L206.4 131.4L207.2 130.5L207.2 130.2L207.3 130.0L207.0 129.5L207.0 129.2L206.7 128.6" fill="none" stroke="#555" stroke-opacity="0.4" stroke-width="0.35"/>
<path d="M206.7 128.6L205.9 128.3L205.1 128.9L204.4 128.6L203.9 128.5L203.6 128.7L203.0 128.7L202.5 129.1L202.0 129.2L200.8 128.6L200.4 128.9L199.9 128.8L199.5 128.4L198.5 128.0L197.5 128.1L197.3 128.4L197.1 129.0L196.8 129.5L196.8 130.4" fill="none" stroke="#555" stroke-opacity="0.4" stroke-width="0.35"/>
<path d="M196.8 130.4L196.7 130.8L197.0 131.5L196.8 131.9L196.9 132.2L196.4 132.9L196.1 133.2L195.9 133.9L195.9 134.6L195.9 136.4" fill="none" stroke="#555" stroke-opacity="0.4" stroke-width="0.35"/>
<path d="M197.4 122.2L197.4 124.7L196.9 125.5L196.8 126.1L195.9 126.3L194.6 126.4L194.3 126.8L193.7 126.8L193.6 127.4L193.7 127.9L194.3 128.6L194.3 129.1L195.4 129.4L195.4 130.1L195.7 129.8L196.8 130.4" fill="none" stroke="#555" stroke-opacity="0.4" stroke-width="0.35"/>
<path d="M193.7 126.8L193.0 126.8L192.8 126.6L192.3 126.8L191.4 127.2L191.2 127.6L190.4 128.1L190.3 128.4L189.9 128.6L189.4 128.4L189.2 128.7L189.0 129.5L188.3 130.4L188.3 130.8L188.0 131.2" fill="none" stroke="#555" stroke-opacity="0.4" stroke-width="0.35"/>
<path d="M188.0 131.2L188.1 131.9L187.7 132.0L187.5 132.2L187.3 131.7L187.1 131.8L186.7 132.1L186.0 132.1L185.7 131.9L185.3 131.7L185.3 131.4L185.2 131.3L185.0 131.4L185.0 131.0L185.2 130.7L184.8 130.3L184.7 130.0L184.5 129.7L184.1 129.9L183.8 130.0L183.5 130.2L183.1 130.2L182.8 129.9L182.4 130.0L182.2 129.6L182.3 129.2L182.2 128.8L181.8 128.5L181.6 127.9L181.6 127.2" fill="none" stroke="#555" stroke-opacity="0.4" stroke-width="0.35"/>
<path d="M190.5 137.8L190.2 136.4L190.4 135.2L190.8 134.2L190.6 132.7L190.4 131.8L190.5 131.2L192.1 131.2L192.6 131.2L192.9 131.1L193.3 131.1L193.3 131.5L193.7 132.1L193.7 132.9L193.7 133.7L194.0 134.1L193.8 135.1L193.8 135.7L194.1 136.4L194.3 136.8" fill="none" stroke="#555" stroke-opacity="0.4" stroke-width="0.35"/>
<path d="M195.1 136.5L194.9 135.8L194.9 133.2L194.7 133.0L194.7 132.5L194.3 132.1L194.0 131.8L194.2 131.2L194.5 131.0L194.7 130.6L195.2 130.5L195.4 130.1" fill="none" stroke="#555" stroke-opacity="0.4" stroke-width="0.35"/>
<path d="M188.0 131.2L188.7 132.5L189.1 132.7L189.5 132.4L189.9 132.4L190.6 132.7" fill="none" stroke="#555" stroke-opacity="0.4" stroke-width="0.35"/>
<path d="M185.9 138.5L186.0 137.4L186.0 137.0L185.3 136.5L185.1 135.7L185.2 134.8L184.9 134.8L184.4 135.2L184.2 135.0L184.3 134.6L183.9 133.9L183.4 134.0L183.0 134.5L182.6 135.1L182.3 135.8" fill="none" stroke="#555" stroke-opacity="0.4" stroke-width="0.35"/>
<path d="M185.2 134.8L185.4 134.3L185.8 133.8L185.5 133.0L185.3 132.5L185.6 132.0" fill="none" stroke="#555" stroke-opacity="0.4" stroke-width="0.35"/>
<path d="M183.4 134.0L183.2 134.1L183.2 133.7L183.0 133.4L183.1 133.1L182.9 132.6L182.6 132.2L181.8 132.2L181.6 132.4L181.3 132.4L181.2 132.7L181.1 133.0L180.5 133.5" fill="none" stroke="#555" stroke-opacity="0.4" stroke-width="0.35"/>
<path d="M178.7 131.1L179.5 130.6L180.1 130.3L180.0 129.9L180.1 129.4L178.3 129.4L178.1 129.5L177.7 129.5L177.2 129.6" fill="none" stroke="#555" stroke-opacity="0.4" stroke-width="0.35"/>
<path d="M180.1 129.4L180.6 129.4L181.3 129.7L181.6 129.5L182.1 129.6" fill="none" stroke="#555" stroke-opacity="0.4" stroke-width="0.35"/>
<path d="M205.2 150.0L205.6 149.9L205.8 149.9L206.2 149.8L209.0 149.8L209.3 150.6L209.5 151.3L209.8 151.6L210.1 152.2L210.8 152.1L211.1 152.0L211.6 152.1L211.8 151.8L212.0 151.2L212.6 151.2L213.1 151.0L213.1 151.4L214.2 151.3L214.2 152.0L214.4 152.5L214.3 153.1L214.4 153.8L214.7 154.2L214.6 155.5L214.9 155.4L215.3 155.5L215.9 155.3L216.3 155.4L216.4 155.7" fill="none" stroke="#555" stroke-opacity="0.4" stroke-width="0.35"/>
<path d="M205.0 149.7L205.3 149.6L205.3 149.1L205.5 148.8L205.8 148.6L206.1 148.7L206.4 148.3L206.9 148.3L207.0 148.6L207.3 148.8L207.9 148.1L208.5 147.6L208.7 147.2L208.7 146.3L209.1 145.2L209.5 144.7L210.2 144.1L210.3 143.8L210.3 143.4L210.5 143.0L210.4 142.4L210.5 141.4L210.7 140.7L211.0 140.1L211.1 139.4" fill="none" stroke="#555" stroke-opacity="0.4" stroke-width="0.35"/>
<path d="M204.0 147.7L204.7 147.1L204.4 146.4L204.7 146.1L205.3 145.9L205.4 145.5L205.9 146.0L206.8 146.0L207.1 145.5L207.2 144.8L207.1 143.9L206.6 143.3L207.1 142.0L206.8 141.8L206.1 141.9L205.8 141.3L205.9 140.8" fill="none" stroke="#555" stroke-opacity="0.4" stroke-width="0.35"/>
<path d="M202.6 140.8L204.2 140.8L204.6 140.7L205.2 140.9L205.8 140.7L207.1 140.8L207.9 141.1L208.7 141.4L208.7 140.8" fill="none" stroke="#555" stroke-opacity="0.4" stroke-width="0.35"/>
<path d="M216.4 155.7L216.3 156.2L216.5 156.7L216.3 157.2L216.4 157.5L214.4 157.5L214.4 161.0L215.0 161.9L215.7 162.6" fill="none" stroke="#555" stroke-opacity="0.4" stroke-width="0.35"/>
<path d="M204.6 162.4L205.1 162.2L205.6 162.0L206.3 162.0L206.8 162.5L210.9 162.4L211.6 162.9L213.9 163.1L215.7 162.6L216.4 162.4L217.1 162.4L217.5 162.7L216.9 163.0L216.6 163.0L216.0 163.5L215.6 163.0L214.2 163.4L213.4 163.4L213.4 167.4L212.5 167.4L212.5 170.6" fill="none" stroke="#555" stroke-opacity="0.4" stroke-width="0.35"/>
<path d="M216.4 155.7L216.7 155.7L217.2 155.7L217.8 155.8L218.1 156.3L218.9 156.4L219.5 156.1L219.7 156.7L220.4 156.8L220.8 157.3L221.2 157.9L221.9 157.9L221.8 156.7L221.6 156.9L220.9 156.5L220.6 156.3L220.7 155.2L220.9 153.9L220.7 153.4L221.0 152.7L221.2 152.6L222.5 152.4L221.6 149.9L221.6 148.3L221.5 146.9L221.2 146.4L221.3 145.3L221.8 144.8L221.8 144.0L222.0 143.5L222.1 142.6L222.3 142.1L222.6 141.6L223.0 141.3L223.3 140.9L222.9 140.7L223.0 139.4" fill="none" stroke="#555" stroke-opacity="0.4" stroke-width="0.35"/>
<path d="M222.5 152.4L222.9 152.5L223.3 152.8L223.7 153.0L224.3 153.1L224.8 153.5L225.3 154.0L225.6 154.9L225.4 155.2L225.2 156.1L225.4 157.0L225.1 157.4L224.8 158.4L225.3 158.7L222.4 159.6L222.5 160.4L221.7 160.5L221.2 161.0L221.1 161.4L220.7 161.5L219.9 162.4L219.3 163.1L219.0 163.1L218.7 163.0L217.6 162.9L217.5 162.8" fill="none" stroke="#555" stroke-opacity="0.4" stroke-width="0.35"/>
<path d="M217.6 162.9L218.0 163.7L218.2 163.9L218.5 164.6L219.6 165.8L220.0 165.9L220.0 166.3L220.3 167.0L221.0 167.2L221.6 167.7" fill="none" stroke="#555" stroke-opacity="0.4" stroke-width="0.35"/>
<path d="M223.3 167.8L224.3 166.6L224.6 165.8L224.8 165.7L224.9 165.0L224.7 164.7L224.7 163.9L224.9 163.1L224.9 161.7L224.4 161.4L224.0 161.3L223.8 161.0L223.3 160.8L222.5 160.8L222.5 160.4" fill="none" stroke="#555" stroke-opacity="0.4" stroke-width="0.35"/>
<path d="M232.1 154.7L231.4 155.3L230.3 155.8L229.7 155.7L229.4 156.1L228.7 156.1L228.5 156.2L227.3 155.9L226.6 156.0L226.3 156.8L226.6 158.3L226.9 158.3L227.3 158.6L227.7 159.4L227.7 160.8L227.3 161.1L227.0 161.8L226.4 161.1L226.3 160.4L226.5 159.9L226.5 159.4L226.1 159.1L225.8 159.2L225.3 158.7" fill="none" stroke="#555" stroke-opacity="0.4" stroke-width="0.35"/>
<path d="M225.3 154.0L225.8 153.7L226.3 154.5L226.6 156.0" fill="none" stroke="#555" stroke-opacity="0.4" stroke-width="0.35"/>
<path d="M221.6 148.3L221.9 148.2L222.3 147.8L222.7 147.2L222.9 147.0L222.9 146.6L222.7 146.4L222.6 146.0L222.9 145.8L223.0 145.2L222.6 144.5L222.9 144.4L224.0 144.4L225.9 144.3" fill="none" stroke="#555" stroke-opacity="0.4" stroke-width="0.35"/>
<path d="M221.2 146.4L221.8 146.5L222.6 146.0" fill="none" stroke="#555" stroke-opacity="0.4" stroke-width="0.35"/>
<path d="M221.8 144.8L222.6 144.5" fill="none" stroke="#555" stroke-opacity="0.4" stroke-width="0.35"/>
<path d="M221.2 175.2L221.5 175.6L221.2 176.1L221.1 176.5L220.5 176.6L220.4 177.0L220.0 177.1L219.3 176.3L219.8 175.5L220.3 175.1L220.8 174.9L221.2 175.2" fill="none" stroke="#555" stroke-opacity="0.4" stroke-width="0.35"/>
<path d="M240.6 92.1L240.1 92.0L240.2 91.4L239.6 90.7L238.9 90.7L238.1 89.9L238.6 89.1L238.3 88.9L239.1 87.7L240.1 88.3L240.2 87.5L242.2 86.3L243.7 86.3L245.8 87.0L247.0 87.5L248.0 87.0L249.5 87.0L250.7 87.6L251.0 87.2L252.4 87.3L252.6 86.8L251.1 86.0L252.0 85.5L251.8 85.2L252.7 84.9L252.0 84.1L252.5 83.7L256.1 83.4L256.5 83.1L258.9 82.7L259.8 82.2L261.5 82.5L261.8 83.6L262.8 83.3L264.1 83.7L264.0 84.3L264.9 84.2L267.3 83.2L267.0 83.6L268.2 84.4L270.4 87.2L270.9 86.6L272.2 87.3L273.6 87.0L274.1 87.2L274.6 87.8L275.3 88.0L275.7 88.5L276.9 88.3L277.4 89.0" fill="none" stroke="#555" stroke-opacity="0.4" stroke-width="0.35"/>
<path d="M243.9 97.2L244.3 96.9L245.4 96.6L246.0 96.9L246.7 97.8L247.2 97.7L247.2 93.7L249.6 93.0L249.8 93.1L251.3 93.9L252.1 94.3L253.0 95.3L254.2 95.2L255.8 95.1L257.0 95.9L256.9 97.0L257.3 97.0L257.5 97.9L258.8 97.9L259.0 98.5L259.4 98.4L259.8 97.7L261.1 96.9L261.6 96.7L261.9 96.2L262.5 96.0L264.1 96.4L264.2 95.8L264.8 95.5L266.1 96.0L266.5 95.9L268.1 95.9L269.5 96.0L270.0 96.4L270.6 96.6" fill="none" stroke="#555" stroke-opacity="0.4" stroke-width="0.35"/>
<path d="M247.2 97.7L248.3 97.7L248.1 97.2L249.0 96.8L249.8 96.2L251.1 96.7L251.2 97.6L251.5 97.8L252.6 97.8L252.9 98.0L253.4 99.1L254.5 99.9L255.1 100.4L256.1 101.0L257.4 101.4L257.4 102.1" fill="none" stroke="#555" stroke-opacity="0.4" stroke-width="0.35"/>
<path d="M261.6 96.7L261.3 97.4L261.8 97.9L262.5 97.7L263.7 98.2L262.4 99.0L261.7 98.9L261.3 98.9L261.2 98.6L261.4 98.1L260.1 98.4L259.8 99.1L259.3 99.7L258.5 99.7L258.2 100.1L259.0 100.4L259.2 101.2L258.6 102.3" fill="none" stroke="#555" stroke-opacity="0.4" stroke-width="0.35"/>
<path d="M261.7 98.9L261.3 99.3L260.3 99.1L260.2 99.7L261.2 99.6L262.4 100.0L264.3 99.8" fill="none" stroke="#555" stroke-opacity="0.4" stroke-width="0.35"/>
<path d="M220.4 81.4L221.4 81.6L221.6 81.9L222.1 81.8L223.0 82.0L223.1 82.6L222.9 82.9L223.5 83.6L223.9 83.8L223.9 84.0L224.5 84.2L224.8 84.5L224.4 84.7L223.6 84.7L223.5 84.8L223.7 85.1L223.9 85.8" fill="none" stroke="#555" stroke-opacity="0.4" stroke-width="0.35"/>
<path d="M223.9 85.8L223.1 85.9L222.8 86.2L222.7 86.7L222.3 86.6L221.5 86.6L221.2 86.4L220.9 86.6L220.5 86.4L219.7 86.4L218.7 86.1L217.7 86.1L216.9 86.1L216.4 86.4L216.0 86.4" fill="none" stroke="#555" stroke-opacity="0.4" stroke-width="0.35"/>
<path d="M223.9 85.8L224.3 85.9L224.5 85.6L224.8 85.7L225.8 85.6L226.4 86.2L226.2 86.4L226.3 86.8L227.0 86.8L227.4 87.3L228.6 87.9L229.3 87.7L229.9 88.2L230.5 88.2L231.9 88.6L231.9 88.9L231.5 89.5L231.7 90.1L231.6 90.5L230.6 90.6L230.1 90.9L230.1 91.4" fill="none" stroke="#555" stroke-opacity="0.4" stroke-width="0.35"/>
<path d="M231.8 95.4L232.7 95.5L234.1 95.6L235.4 96.2L235.6 96.4L236.2 96.2L237.1 96.4L237.4 96.9L238.0 97.1L238.3 97.2L238.9 97.8L239.4 97.9L239.5 97.6L240.1 97.2" fill="none" stroke="#555" stroke-opacity="0.4" stroke-width="0.35"/>
<path d="M238.0 97.1L237.7 97.3L238.2 97.9L238.1 98.0L237.6 98.0L236.8 97.6L236.6 97.8L235.3 98.0" fill="none" stroke="#555" stroke-opacity="0.4" stroke-width="0.35"/>
<path d="M236.6 97.8L236.8 98.1L237.2 98.3L237.0 98.6L237.5 98.9L237.2 99.3L237.6 99.6L238.1 99.8L238.1 100.5" fill="none" stroke="#555" stroke-opacity="0.4" stroke-width="0.35"/>
<path d="M218.9 90.1L219.8 89.8L220.5 90.2L220.9 90.2L221.3 90.5L221.3 90.9L221.6 91.1L221.8 91.5L222.1 91.8L222.2 92.1L222.0 92.2L221.4 92.2L221.3 92.0L221.1 92.1L221.2 92.3L220.9 92.6L220.7 93.0L220.5 93.1" fill="none" stroke="#555" stroke-opacity="0.4" stroke-width="0.35"/>
<path d="M251.9 110.4L253.5 111.0L254.5 110.8L255.1 110.9L255.3 110.7L255.9 110.8L257.2 110.3L257.2 109.4L257.8 108.8L258.5 108.8L258.6 108.5L259.3 108.3L259.7 108.4L260.1 108.1L260.0 107.5L260.4 106.8L261.0 106.5L260.6 105.8L261.6 105.8L261.8 105.4L261.8 105.0L262.3 104.5L262.2 104.0L261.9 103.5L262.5 103.0L263.5 102.8L264.6 102.7L265.1 102.5L265.7 102.4" fill="none" stroke="#555" stroke-opacity="0.4" stroke-width="0.35"/>
<path d="M234.5 125.3L234.9 124.9L234.8 124.5L235.1 123.9L235.5 124.2L235.7 124.1L236.8 124.1L237.0 124.2L238.0 124.3L238.3 124.2L238.6 124.6L239.0 124.4L239.7 123.3L240.6 122.8L243.4 122.3L246.3 121.2L246.9 119.0L246.5 118.3L243.4 117.9L243.0 116.8L243.0 116.6" fill="none" stroke="#555" stroke-opacity="0.4" stroke-width="0.35"/>
<path d="M243.4 122.3L244.1 124.2L244.4 124.9" fill="none" stroke="#555" stroke-opacity="0.4" stroke-width="0.35"/>
<path d="M246.5 118.3L246.5 117.8L246.8 117.4L246.8 116.9L247.2 116.7L247.0 116.5L247.1 115.8L247.6 115.8" fill="none" stroke="#555" stroke-opacity="0.4" stroke-width="0.35"/>
<path d="M227.0 110.9L228.0 111.1L228.4 110.8L228.7 110.4L229.4 110.2L229.6 109.8L229.9 109.7L228.9 108.6L230.9 108.0L231.0 107.8L232.2 108.1L233.6 108.9L236.4 111.1L238.1 111.2L239.0 111.3L239.2 111.8L239.9 111.8" fill="none" stroke="#555" stroke-opacity="0.4" stroke-width="0.35"/>
<path d="M238.1 111.2L238.8 110.1L239.5 110.2" fill="none" stroke="#555" stroke-opacity="0.4" stroke-width="0.35"/>
<path d="M231.0 107.8L230.7 106.5L228.8 107.7L227.7 107.2" fill="none" stroke="#555" stroke-opacity="0.4" stroke-width="0.35"/>
<path d="M230.7 106.5L232.8 105.3L233.1 104.0L233.1 103.2L233.6 102.9L234.1 102.2" fill="none" stroke="#555" stroke-opacity="0.4" stroke-width="0.35"/>
<path d="M227.8 106.6L228.0 106.0L228.6 105.6L228.4 105.2L227.9 105.1" fill="none" stroke="#555" stroke-opacity="0.4" stroke-width="0.35"/>
<path d="M282.5 119.0L282.0 117.2L281.8 117.3L281.6 117.9L281.1 117.4L281.4 116.8L281.8 116.7L282.3 115.8L281.7 115.6L280.8 115.6L279.9 115.4L279.8 114.7L279.4 114.6L278.6 114.1L278.2 114.9L278.9 115.5L278.3 115.9L278.1 116.3L278.7 116.6L278.6 117.2L278.9 118.1L279.0 119.0" fill="none" stroke="#555" stroke-opacity="0.4" stroke-width="0.35"/>
<path d="M271.4 110.0L270.8 110.5L270.4 111.6L271.4 112.0L272.3 112.5L273.5 113.1L274.8 113.3L275.4 113.8L276.1 113.9L277.3 114.2L278.1 114.2L278.2 113.7L278.1 113.0L278.2 112.6" fill="none" stroke="#555" stroke-opacity="0.4" stroke-width="0.35"/>
<path d="M288.2 132.3L288.7 131.2L289.2 130.2L288.8 129.2L288.8 128.7L288.7 128.0L288.1 127.2L287.9 126.6L288.2 126.4L288.5 125.5L288.1 124.7L287.5 123.9L287.1 123.0L287.5 122.8L287.9 121.6L288.6 121.5L289.2 121.0L289.7 120.8L290.1 121.1L290.2 121.8L290.8 121.8L290.6 123.0L290.6 124.0L291.6 123.3L291.9 123.5L292.5 123.5L292.7 123.1L293.4 123.2L294.1 124.1L294.2 125.2L295.0 126.1L294.9 127.1L294.6 127.6L293.7 127.4L292.5 127.6L291.9 128.5L292.1 129.9" fill="none" stroke="#555" stroke-opacity="0.4" stroke-width="0.35"/>
<path d="M289.7 120.8L289.9 120.4L290.7 119.7" fill="none" stroke="#555" stroke-opacity="0.4" stroke-width="0.35"/>
<path d="M291.7 118.5L292.2 119.4L292.7 120.4L293.9 120.4L294.2 121.4L293.6 121.7L293.4 122.0L294.5 122.7L295.3 124.0L295.9 125.0L296.6 125.8L296.9 126.5L296.7 127.6L296.9 128.4L296.8 129.7L295.2 130.5L295.6 131.2L294.6 131.3L293.8 131.7" fill="none" stroke="#555" stroke-opacity="0.4" stroke-width="0.35"/>
<path d="M294.6 127.6L295.4 128.0L295.9 127.2L296.7 127.6" fill="none" stroke="#555" stroke-opacity="0.4" stroke-width="0.35"/>
<path d="M291.7 136.4L291.3 136.9L290.7 137.0L290.6 136.5L289.9 136.0L289.7 136.2" fill="none" stroke="#555" stroke-opacity="0.4" stroke-width="0.35"/>
<path d="M298.9 141.1L299.1 141.8L299.7 142.5L300.3 142.2L301.0 142.3L301.5 141.7L302.0 141.6L302.9 142.0L303.7 141.7L304.2 140.2L304.5 139.8L304.9 138.5L306.0 138.5L306.8 138.7" fill="none" stroke="#555" stroke-opacity="0.4" stroke-width="0.35"/>
<path d="M329.1 146.2L329.1 149.8L329.1 153.4" fill="none" stroke="#555" stroke-opacity="0.4" stroke-width="0.35"/>
<path d="M315.3 101.6L315.7 101.1L316.8 101.0L316.9 100.7" fill="none" stroke="#555" stroke-opacity="0.4" stroke-width="0.35"/>
<path d="M191.5 95.4L191.9 95.8L193.6 96.3L194.0 96.1L195.1 96.6L196.2 96.5" fill="none" stroke="#555" stroke-opacity="0.4" stroke-width="0.35"/>
<path d="M184.6 97.1L185.0 96.8L185.3 96.7L185.6 97.2L186.2 97.2L186.3 97.1L186.9 97.1L187.1 97.7L186.7 98.0L186.7 98.8L186.5 99.0L186.5 99.5L186.1 99.6L186.5 100.3L186.2 101.0L186.5 101.3L186.4 101.6L186.0 102.0L186.1 102.4" fill="none" stroke="#555" stroke-opacity="0.4" stroke-width="0.35"/>
<path d="M200.5 95.1L200.6 94.6L200.1 94.5L199.8 93.6L200.1 93.3L199.8 92.9L199.9 92.6" fill="none" stroke="#555" stroke-opacity="0.4" stroke-width="0.35"/>
<path d="M200.5 90.8L200.6 90.0L201.1 89.2L199.7 89.0L199.3 88.8L199.0 88.8L198.8 88.7L197.9 88.2L197.4 88.3L196.8 87.7L196.3 87.3L195.9 87.3L195.7 86.9" fill="none" stroke="#555" stroke-opacity="0.4" stroke-width="0.35"/>
<path d="M200.0 84.3L200.1 84.7L199.9 85.7L199.6 86.1L199.1 86.1L199.2 87.3L199.1 88.0L199.3 88.3L199.3 88.8" fill="none" stroke="#555" stroke-opacity="0.4" stroke-width="0.35"/>
<path d="M196.5 86.7L197.2 86.8L198.1 86.5L198.7 87.0L199.2 87.3" fill="none" stroke="#555" stroke-opacity="0.4" stroke-width="0.35"/>
<path d="M201.5 82.7L202.2 82.8L202.9 82.7" fill="none" stroke="#555" stroke-opacity="0.4" stroke-width="0.35"/>
<path d="M202.5 90.9L203.3 91.1L203.5 90.8L204.3 90.9L205.0 90.7L205.5 90.7L205.8 91.0L205.8 90.8L205.7 90.0L206.1 89.9L206.4 89.4" fill="none" stroke="#555" stroke-opacity="0.4" stroke-width="0.35"/>
<path d="M203.4 91.6L203.9 91.7L204.0 91.5L205.0 91.3L205.2 91.7L206.6 92.0" fill="none" stroke="#555" stroke-opacity="0.4" stroke-width="0.35"/>
<path d="M199.1 92.3L199.1 91.8L199.8 91.1L199.8 90.9L200.2 91.0L200.5 90.8L201.3 90.8L201.5 90.6L202.5 90.9L202.4 91.4L202.9 91.6L203.4 91.6L203.3 92.0L202.9 92.2L202.1 92.1L201.9 92.5L201.5 92.6L201.3 92.4L200.8 92.8L200.3 92.8L199.9 92.6L199.6 92.1L199.1 92.3" fill="none" stroke="#555" stroke-opacity="0.4" stroke-width="0.35"/>
<path d="M203.9 78.4L204.3 77.8L205.1 77.0L205.5 75.7L204.8 75.1L204.8 73.7L205.4 72.6L206.4 72.7L206.7 72.2L206.4 71.8L207.9 70.3L208.8 69.1L209.4 68.3L210.4 68.3L210.6 67.7L212.4 67.9L212.6 67.1L213.2 67.1L214.5 67.6L216.0 68.4L216.0 70.1L216.3 70.5" fill="none" stroke="#555" stroke-opacity="0.4" stroke-width="0.35"/>
<path d="M213.2 67.1L213.8 66.8L214.8 67.4L216.1 67.3L217.1 67.6L218.0 67.1L218.5 66.3L220.0 65.9L221.2 66.4L220.8 67.1" fill="none" stroke="#555" stroke-opacity="0.4" stroke-width="0.35"/>
<path d="M207.8 86.9L208.2 87.3L208.9 87.4L208.9 87.7L209.4 87.9L209.5 87.6L210.2 87.8L210.3 88.1L211.0 88.2L211.5 88.7L211.9 88.6L212.4 89.0L213.0 88.8L213.4 88.9L214.1 88.7L215.0 89.2" fill="none" stroke="#555" stroke-opacity="0.4" stroke-width="0.35"/>
<path d="M209.6 89.7L209.8 89.5L210.2 89.5L210.5 89.4L210.7 89.2L211.5 88.7" fill="none" stroke="#555" stroke-opacity="0.4" stroke-width="0.35"/>
<path d="M209.7 90.2L210.1 90.5L210.5 90.6L211.3 90.5L211.4 90.3L212.2 90.1L212.8 90.0L213.0 89.7L213.3 89.7L214.4 90.0L214.6 89.9" fill="none" stroke="#555" stroke-opacity="0.4" stroke-width="0.35"/>
<path d="M215.2 90.5L214.6 90.7L214.1 91.5L213.5 92.2L212.8 92.4" fill="none" stroke="#555" stroke-opacity="0.4" stroke-width="0.35"/>
<path d="M215.1 94.5L215.4 95.0L215.8 94.9L216.5 95.1L217.9 95.1L218.4 94.8L219.5 94.6L220.2 95.0L220.8 95.1" fill="none" stroke="#555" stroke-opacity="0.4" stroke-width="0.35"/>
<path d="M213.6 81.5L214.7 81.2L216.3 81.2L217.2 81.1L217.4 81.4L217.9 81.4L218.8 82.0" fill="none" stroke="#555" stroke-opacity="0.4" stroke-width="0.35"/>
<path d="M216.7 79.6L217.5 79.4L218.0 79.5L218.8 79.9L219.6 79.9" fill="none" stroke="#555" stroke-opacity="0.4" stroke-width="0.35"/>
<path d="M215.2 83.4L215.7 83.5L215.9 83.8" fill="none" stroke="#555" stroke-opacity="0.4" stroke-width="0.35"/>
<path d="M212.2 83.3L213.4 83.4L215.2 83.4L215.1 83.1L215.2 82.8L214.8 82.6L213.8 82.4" fill="none" stroke="#555" stroke-opacity="0.4" stroke-width="0.35"/>
<path d="M208.9 91.6L209.2 92.0L208.5 92.3L208.4 92.8L208.1 92.9L208.1 93.2L207.7 93.2L207.4 93.0L207.2 93.2L206.5 93.1" fill="none" stroke="#555" stroke-opacity="0.4" stroke-width="0.35"/>
<path d="M209.2 92.0L209.6 92.2L210.3 92.6L211.1 92.8L211.4 92.7" fill="none" stroke="#555" stroke-opacity="0.4" stroke-width="0.35"/>
<path d="M211.6 93.8L211.2 93.6L210.5 93.6L209.7 93.4L209.2 93.4L209.0 93.7L208.7 93.4L208.5 93.9L208.9 94.4L209.2 94.7L209.6 95.1L210.0 95.4L210.3 95.8L211.2 96.3L211.1 96.5" fill="none" stroke="#555" stroke-opacity="0.4" stroke-width="0.35"/>
<path d="M211.2 96.3L211.3 95.7L211.6 95.4L211.8 95.3" fill="none" stroke="#555" stroke-opacity="0.4" stroke-width="0.35"/>
<path d="M212.0 97.1L211.9 96.8L212.3 96.2L212.6 96.3" fill="none" stroke="#555" stroke-opacity="0.4" stroke-width="0.35"/>
<path d="M218.4 98.3L218.6 98.2L218.9 97.5L218.5 97.2" fill="none" stroke="#555" stroke-opacity="0.4" stroke-width="0.35"/>
<path d="M187.3 83.6L186.6 83.7L186.0 83.7L186.2 83.1L186.0 82.5" fill="none" stroke="#555" stroke-opacity="0.4" stroke-width="0.35"/>
<path d="M75.0 89.3L101.7 89.3L101.7 88.8L102.0 88.8L102.2 89.4L103.1 89.7L104.1 89.9L105.1 90.2L105.8 90.1L107.0 90.4L107.3 90.3L108.2 90.0L109.1 90.4L110.0 90.9L110.8 91.2L111.6 91.6L111.7 91.9L111.9 92.0L112.1 92.1L112.3 92.0L112.3 92.3L112.5 92.4L112.8 92.4L112.9 92.6L112.8 92.8L113.8 93.3L114.0 94.3L114.2 95.3L113.9 95.9L113.5 96.5L113.3 96.9L113.3 97.2L113.7 97.3L115.0 96.8L116.0 96.6L117.3 96.0L117.2 95.6L117.1 95.4L117.5 95.2L119.3 95.2L119.6 94.8L120.8 93.9L121.2 93.7L124.4 93.7L124.5 93.4L124.8 93.3L125.3 93.2L125.6 92.7L125.9 91.8L126.6 91.0L126.9 91.3L127.6 91.1L128.0 91.4L128.0 92.9L128.6 93.5" fill="none" stroke="#555" stroke-opacity="0.4" stroke-width="0.35"/>
<path d="M116.0 147.0L116.1 147.5L115.8 147.8L115.8 148.2L116.2 148.1L116.6 148.2L117.0 148.8L117.6 148.3L117.8 147.6L118.3 146.6L119.5 146.2L120.5 145.0L120.9 144.3" fill="none" stroke="#555" stroke-opacity="0.4" stroke-width="0.35"/>
<path d="M126.3 155.4L127.2 157.2L127.0 157.5L126.9 158.3L126.9 159.2L126.5 159.8L126.7 160.2L126.5 160.6L126.9 161.5L126.3 162.7L126.0 163.2L125.5 163.5" fill="none" stroke="#555" stroke-opacity="0.4" stroke-width="0.35"/>
<path d="M126.3 162.7L126.8 163.4L126.9 164.2L127.4 164.7L127.1 165.8L127.6 167.0L128.0 168.5" fill="none" stroke="#555" stroke-opacity="0.4" stroke-width="0.35"/>
<path d="M132.9 167.8L133.3 166.5L133.3 165.9L133.8 164.9L135.5 164.6L136.4 164.7L137.3 165.2L137.3 165.6" fill="none" stroke="#555" stroke-opacity="0.4" stroke-width="0.35"/>
<path d="M134.8 137.6L134.2 136.7L134.4 136.4L134.4 135.9L135.0 135.7L135.2 135.5L134.9 135.1L135.0 134.7L135.8 134.1L135.4 133.8" fill="none" stroke="#555" stroke-opacity="0.4" stroke-width="0.35"/>
<path d="M138.3 136.7L138.1 137.7L137.5 138.0L137.6 138.2L137.4 138.8L137.8 139.6L138.1 139.6L138.3 140.2L138.9 141.2" fill="none" stroke="#555" stroke-opacity="0.4" stroke-width="0.35"/>
<path d="M140.8 140.8L141.0 140.3L141.1 139.8L141.3 139.3L140.9 138.7L140.8 137.9L141.3 136.9" fill="none" stroke="#555" stroke-opacity="0.4" stroke-width="0.35"/>
<path d="M108.4 126.0L107.4 126.7L107.4 126.9L107.4 127.1L107.3 127.4L107.0 127.5L106.9 127.7L106.6 128.0" fill="none" stroke="#555" stroke-opacity="0.4" stroke-width="0.35"/>
<path d="M107.3 127.4L107.7 127.7L108.0 127.9L108.5 127.9L108.8 128.1L108.8 128.5" fill="none" stroke="#555" stroke-opacity="0.4" stroke-width="0.35"/>
<path d="M113.2 126.8L112.9 126.7L112.8 126.9L112.0 127.2L111.5 127.0L111.3 127.2L110.8 127.9L110.4 127.8L110.2 128.1L109.8 128.1L109.8 128.7L109.5 128.9L109.2 129.0" fill="none" stroke="#555" stroke-opacity="0.4" stroke-width="0.35"/>
<path d="M110.8 131.1L110.9 130.9L111.5 131.2L111.8 131.1L112.1 131.2L112.5 131.5L112.7 131.2" fill="none" stroke="#555" stroke-opacity="0.4" stroke-width="0.35"/>
<path d="M113.8 132.7L113.4 132.8L113.4 133.3L113.6 133.5L113.5 133.6L113.5 134.0L113.4 134.2" fill="none" stroke="#555" stroke-opacity="0.4" stroke-width="0.35"/>
<path d="M118.8 133.7L118.7 133.9L118.9 134.5L118.7 134.9L118.4 134.8L118.3 135.3" fill="none" stroke="#555" stroke-opacity="0.4" stroke-width="0.35"/>
<path d="M107.5 123.7L107.4 124.5L107.4 125.8L107.7 125.8" fill="none" stroke="#555" stroke-opacity="0.4" stroke-width="0.35"/>
<path d="M124.2 121.6L124.3 122.2L124.3 122.6L124.0 122.8L124.3 123.1L124.2 123.4" fill="none" stroke="#555" stroke-opacity="0.4" stroke-width="0.35"/>
<path d="M127.2 201.4L127.2 203.8" fill="none" stroke="#555" stroke-opacity="0.4" stroke-width="0.35"/>
</g>
<use href="#landp" fill="none" stroke="#222" stroke-opacity="0.3" stroke-width="0.3" stroke-linejoin="round"/>
<g font-family='"DejaVu Sans","Liberation Sans",sans-serif' font-weight="bold" font-size="5.7" fill="#000" text-anchor="middle">
<text transform="translate(93.4,84.50) scale(1,1.145)">F</text>
<text transform="translate(131.6,156.50) scale(1,1.145)">D</text>
<text transform="translate(204.4,86.90) scale(1,1.145)">L</text>
<text transform="translate(213.6,90.20) scale(1,1.145)">A</text>
<text transform="translate(281,79.30) scale(1,1.145)">C</text>
<text transform="translate(234.7,111.80) scale(1,1.145)">E</text>
<text transform="translate(293.1,105.00) scale(1,1.145)">B</text>
<text transform="translate(269.7,120.20) scale(1,1.145)">J</text>
<text transform="translate(294.5,124.30) scale(1,1.145)">G</text>
<text transform="translate(295.9,126.70) scale(1,1.145)">I</text>
<text transform="translate(322.95,169.50) scale(1,1.145)">H</text>
<text transform="translate(224,173.70) scale(1,1.145)">K</text>
</g>
<g font-family='"DejaVu Sans","Liberation Sans",sans-serif' fill="#1a1a1a">
<rect x="1.1" y="224.4" width="12.15" height="4.1" fill="#1f77b4" stroke="#000" stroke-opacity="0.3" stroke-width="0.35"/>
<rect x="1.1" y="233.35" width="12.15" height="4.1" fill="#aec7e8" stroke="#000" stroke-opacity="0.3" stroke-width="0.35"/>
<text transform="translate(17.75,228.65) scale(1,1.12)" font-size="5.87">A - Central and Eastern Europe</text>
<text transform="translate(17.75,237.65) scale(1,1.12)" font-size="5.87">B - China</text>
<rect x="120.65" y="224.4" width="12.15" height="4.1" fill="#ff7f0e" stroke="#000" stroke-opacity="0.3" stroke-width="0.35"/>
<rect x="120.65" y="233.35" width="12.15" height="4.1" fill="#ffbb78" stroke="#000" stroke-opacity="0.3" stroke-width="0.35"/>
<text transform="translate(137.4,228.65) scale(1,1.12)" font-size="5.87">C - Former Soviet Union</text>
<text transform="translate(137.4,237.65) scale(1,1.12)" font-size="5.87">D - Latin America and the Caribbean</text>
<rect x="256.9" y="224.4" width="12.15" height="4.1" fill="#2ca02c" stroke="#000" stroke-opacity="0.3" stroke-width="0.35"/>
<rect x="256.9" y="233.35" width="12.15" height="4.1" fill="#98df8a" stroke="#000" stroke-opacity="0.3" stroke-width="0.35"/>
<text transform="translate(273.5,228.65) scale(1,1.12)" font-size="5.87">E - Middle East and North Africa</text>
<text transform="translate(273.5,237.65) scale(1,1.12)" font-size="5.87">F - North America</text>
<rect x="378.8" y="224.4" width="12.15" height="4.1" fill="#d62728" stroke="#000" stroke-opacity="0.3" stroke-width="0.35"/>
<rect x="378.8" y="233.35" width="12.15" height="4.1" fill="#ff9896" stroke="#000" stroke-opacity="0.3" stroke-width="0.35"/>
<text transform="translate(395.3,228.65) scale(1,1.12)" font-size="5.87">G - Other Pacific Asia</text>
<text transform="translate(395.3,237.65) scale(1,1.12)" font-size="5.87">H - Pacific OECD</text>
<rect x="469" y="224.4" width="12.15" height="4.1" fill="#9467bd" stroke="#000" stroke-opacity="0.3" stroke-width="0.35"/>
<rect x="469" y="233.35" width="12.15" height="4.1" fill="#c5b0d5" stroke="#000" stroke-opacity="0.3" stroke-width="0.35"/>
<text transform="translate(485.5,228.65) scale(1,1.12)" font-size="5.87">I - Rest Centrally Planned Asia</text>
<text transform="translate(485.5,237.65) scale(1,1.12)" font-size="5.87">J - South Asia</text>
<rect x="585.9" y="224.4" width="12.15" height="4.1" fill="#8c564b" stroke="#000" stroke-opacity="0.3" stroke-width="0.35"/>
<rect x="585.9" y="233.35" width="12.15" height="4.1" fill="#c49c94" stroke="#000" stroke-opacity="0.3" stroke-width="0.35"/>
<text transform="translate(602.4,228.65) scale(1,1.12)" font-size="5.87">K - Sub-Saharan Africa</text>
<text transform="translate(602.4,237.65) scale(1,1.12)" font-size="5.87">L - Western Europe</text>
</g>
<clipPath id="hc"><rect x="429.5" y="35.13" width="191.39999999999998" height="157.32"/></clipPath>
<g clip-path="url(#hc)">
<polyline points="429.5,127.47 440.76,119.83 452.02,116.69 485.79,114.14 508.31,119.24 530.83,104.53 553.35,110.02 575.86,101.39 598.38,88.64 620.9,72.56" fill="none" stroke="#1f77b4" stroke-width="0.75" stroke-linejoin="round"/>
<polyline points="429.5,152.78 440.76,146.11 452.02,131.4 485.79,133.16 508.31,139.05 530.83,126.3 553.35,124.14 575.86,112.18 598.38,97.27 620.9,74.91" fill="none" stroke="#aec7e8" stroke-width="0.75" stroke-linejoin="round"/>
<polyline points="429.5,153.76 440.76,135.71 452.02,131.2 485.79,132.18 508.31,132.18 530.83,102.37 553.35,104.72 575.86,99.43 598.38,87.86 620.9,78.25" fill="none" stroke="#ff7f0e" stroke-width="0.75" stroke-linejoin="round"/>
<polyline points="429.5,125.71 440.76,118.85 452.02,115.51 485.79,119.43 508.31,129.24 530.83,108.65 553.35,113.94 575.86,106.49 598.38,91.39 620.9,82.37" fill="none" stroke="#ffbb78" stroke-width="0.75" stroke-linejoin="round"/>
<polyline points="429.5,172.39 440.76,169.84 452.02,154.74 485.79,141.99 508.31,142.77 530.83,135.52 553.35,132.97 575.86,136.89 598.38,121.98 620.9,110.61" fill="none" stroke="#2ca02c" stroke-width="0.75" stroke-linejoin="round"/>
<polyline points="429.5,51.77 440.76,53.54 452.02,54.91 485.79,62.75 508.31,64.52 530.83,61.58 553.35,60.01 575.86,66.28 598.38,60.01 620.9,50.79" fill="none" stroke="#98df8a" stroke-width="0.75" stroke-linejoin="round"/>
<polyline points="429.5,117.47 440.76,101.19 452.02,95.31 485.79,104.92 508.31,105.12 530.83,95.51 553.35,98.64 575.86,93.35 598.38,81.97 620.9,65.7" fill="none" stroke="#d62728" stroke-width="0.75" stroke-linejoin="round"/>
<polyline points="429.5,91.78 440.76,85.9 452.02,75.89 485.79,79.03 508.31,89.03 530.83,72.76 553.35,56.48 575.86,63.54 598.38,58.05 620.9,53.54" fill="none" stroke="#ff9896" stroke-width="0.75" stroke-linejoin="round"/>
<polyline points="429.5,161.4 440.76,165.13 452.02,159.84 485.79,141.6 508.31,143.75 530.83,128.85 553.35,139.24 575.86,130.42 598.38,114.92 620.9,100.41" fill="none" stroke="#9467bd" stroke-width="0.75" stroke-linejoin="round"/>
<polyline points="429.5,158.07 440.76,155.13 452.02,152.97 485.79,156.5 508.31,161.4 530.83,156.31 553.35,156.31 575.86,140.62 598.38,120.41 620.9,114.73" fill="none" stroke="#c5b0d5" stroke-width="0.75" stroke-linejoin="round"/>
<polyline points="429.5,144.93 440.76,149.44 452.02,144.93 485.79,142.77 508.31,155.13 530.83,146.5 553.35,149.44 575.86,141.6 598.38,125.32 620.9,120.22" fill="none" stroke="#8c564b" stroke-width="0.75" stroke-linejoin="round"/>
<polyline points="429.5,96.68 440.76,94.72 452.02,92.37 485.79,92.96 508.31,96.88 530.83,80.21 553.35,78.84 575.86,76.29 598.38,67.07 620.9,63.34" fill="none" stroke="#c49c94" stroke-width="0.75" stroke-linejoin="round"/>
<circle cx="429.5" cy="127.47" r="1.25" fill="#1f77b4"/>
<circle cx="440.76" cy="119.83" r="1.25" fill="#1f77b4"/>
<circle cx="452.02" cy="116.69" r="1.25" fill="#1f77b4"/>
<circle cx="485.79" cy="114.14" r="1.25" fill="#1f77b4"/>
<circle cx="508.31" cy="119.24" r="1.25" fill="#1f77b4"/>
<circle cx="530.83" cy="104.53" r="1.25" fill="#1f77b4"/>
<circle cx="553.35" cy="110.02" r="1.25" fill="#1f77b4"/>
<circle cx="575.86" cy="101.39" r="1.25" fill="#1f77b4"/>
<circle cx="598.38" cy="88.64" r="1.25" fill="#1f77b4"/>
<circle cx="620.9" cy="72.56" r="1.25" fill="#1f77b4"/>
<circle cx="429.5" cy="152.78" r="1.25" fill="#aec7e8"/>
<circle cx="440.76" cy="146.11" r="1.25" fill="#aec7e8"/>
<circle cx="452.02" cy="131.4" r="1.25" fill="#aec7e8"/>
<circle cx="485.79" cy="133.16" r="1.25" fill="#aec7e8"/>
<circle cx="508.31" cy="139.05" r="1.25" fill="#aec7e8"/>
<circle cx="530.83" cy="126.3" r="1.25" fill="#aec7e8"/>
<circle cx="553.35" cy="124.14" r="1.25" fill="#aec7e8"/>
<circle cx="575.86" cy="112.18" r="1.25" fill="#aec7e8"/>
<circle cx="598.38" cy="97.27" r="1.25" fill="#aec7e8"/>
<circle cx="620.9" cy="74.91" r="1.25" fill="#aec7e8"/>
<circle cx="429.5" cy="153.76" r="1.25" fill="#ff7f0e"/>
<circle cx="440.76" cy="135.71" r="1.25" fill="#ff7f0e"/>
<circle cx="452.02" cy="131.2" r="1.25" fill="#ff7f0e"/>
<circle cx="485.79" cy="132.18" r="1.25" fill="#ff7f0e"/>
<circle cx="508.31" cy="132.18" r="1.25" fill="#ff7f0e"/>
<circle cx="530.83" cy="102.37" r="1.25" fill="#ff7f0e"/>
<circle cx="553.35" cy="104.72" r="1.25" fill="#ff7f0e"/>
<circle cx="575.86" cy="99.43" r="1.25" fill="#ff7f0e"/>
<circle cx="598.38" cy="87.86" r="1.25" fill="#ff7f0e"/>
<circle cx="620.9" cy="78.25" r="1.25" fill="#ff7f0e"/>
<circle cx="429.5" cy="125.71" r="1.25" fill="#ffbb78"/>
<circle cx="440.76" cy="118.85" r="1.25" fill="#ffbb78"/>
<circle cx="452.02" cy="115.51" r="1.25" fill="#ffbb78"/>
<circle cx="485.79" cy="119.43" r="1.25" fill="#ffbb78"/>
<circle cx="508.31" cy="129.24" r="1.25" fill="#ffbb78"/>
<circle cx="530.83" cy="108.65" r="1.25" fill="#ffbb78"/>
<circle cx="553.35" cy="113.94" r="1.25" fill="#ffbb78"/>
<circle cx="575.86" cy="106.49" r="1.25" fill="#ffbb78"/>
<circle cx="598.38" cy="91.39" r="1.25" fill="#ffbb78"/>
<circle cx="620.9" cy="82.37" r="1.25" fill="#ffbb78"/>
<circle cx="429.5" cy="172.39" r="1.25" fill="#2ca02c"/>
<circle cx="440.76" cy="169.84" r="1.25" fill="#2ca02c"/>
<circle cx="452.02" cy="154.74" r="1.25" fill="#2ca02c"/>
<circle cx="485.79" cy="141.99" r="1.25" fill="#2ca02c"/>
<circle cx="508.31" cy="142.77" r="1.25" fill="#2ca02c"/>
<circle cx="530.83" cy="135.52" r="1.25" fill="#2ca02c"/>
<circle cx="553.35" cy="132.97" r="1.25" fill="#2ca02c"/>
<circle cx="575.86" cy="136.89" r="1.25" fill="#2ca02c"/>
<circle cx="598.38" cy="121.98" r="1.25" fill="#2ca02c"/>
<circle cx="620.9" cy="110.61" r="1.25" fill="#2ca02c"/>
<circle cx="429.5" cy="51.77" r="1.25" fill="#98df8a"/>
<circle cx="440.76" cy="53.54" r="1.25" fill="#98df8a"/>
<circle cx="452.02" cy="54.91" r="1.25" fill="#98df8a"/>
<circle cx="485.79" cy="62.75" r="1.25" fill="#98df8a"/>
<circle cx="508.31" cy="64.52" r="1.25" fill="#98df8a"/>
<circle cx="530.83" cy="61.58" r="1.25" fill="#98df8a"/>
<circle cx="553.35" cy="60.01" r="1.25" fill="#98df8a"/>
<circle cx="575.86" cy="66.28" r="1.25" fill="#98df8a"/>
<circle cx="598.38" cy="60.01" r="1.25" fill="#98df8a"/>
<circle cx="620.9" cy="50.79" r="1.25" fill="#98df8a"/>
<circle cx="429.5" cy="117.47" r="1.25" fill="#d62728"/>
<circle cx="440.76" cy="101.19" r="1.25" fill="#d62728"/>
<circle cx="452.02" cy="95.31" r="1.25" fill="#d62728"/>
<circle cx="485.79" cy="104.92" r="1.25" fill="#d62728"/>
<circle cx="508.31" cy="105.12" r="1.25" fill="#d62728"/>
<circle cx="530.83" cy="95.51" r="1.25" fill="#d62728"/>
<circle cx="553.35" cy="98.64" r="1.25" fill="#d62728"/>
<circle cx="575.86" cy="93.35" r="1.25" fill="#d62728"/>
<circle cx="598.38" cy="81.97" r="1.25" fill="#d62728"/>
<circle cx="620.9" cy="65.7" r="1.25" fill="#d62728"/>
<circle cx="429.5" cy="91.78" r="1.25" fill="#ff9896"/>
<circle cx="440.76" cy="85.9" r="1.25" fill="#ff9896"/>
<circle cx="452.02" cy="75.89" r="1.25" fill="#ff9896"/>
<circle cx="485.79" cy="79.03" r="1.25" fill="#ff9896"/>
<circle cx="508.31" cy="89.03" r="1.25" fill="#ff9896"/>
<circle cx="530.83" cy="72.76" r="1.25" fill="#ff9896"/>
<circle cx="553.35" cy="56.48" r="1.25" fill="#ff9896"/>
<circle cx="575.86" cy="63.54" r="1.25" fill="#ff9896"/>
<circle cx="598.38" cy="58.05" r="1.25" fill="#ff9896"/>
<circle cx="620.9" cy="53.54" r="1.25" fill="#ff9896"/>
<circle cx="429.5" cy="161.4" r="1.25" fill="#9467bd"/>
<circle cx="440.76" cy="165.13" r="1.25" fill="#9467bd"/>
<circle cx="452.02" cy="159.84" r="1.25" fill="#9467bd"/>
<circle cx="485.79" cy="141.6" r="1.25" fill="#9467bd"/>
<circle cx="508.31" cy="143.75" r="1.25" fill="#9467bd"/>
<circle cx="530.83" cy="128.85" r="1.25" fill="#9467bd"/>
<circle cx="553.35" cy="139.24" r="1.25" fill="#9467bd"/>
<circle cx="575.86" cy="130.42" r="1.25" fill="#9467bd"/>
<circle cx="598.38" cy="114.92" r="1.25" fill="#9467bd"/>
<circle cx="620.9" cy="100.41" r="1.25" fill="#9467bd"/>
<circle cx="429.5" cy="158.07" r="1.25" fill="#c5b0d5"/>
<circle cx="440.76" cy="155.13" r="1.25" fill="#c5b0d5"/>
<circle cx="452.02" cy="152.97" r="1.25" fill="#c5b0d5"/>
<circle cx="485.79" cy="156.5" r="1.25" fill="#c5b0d5"/>
<circle cx="508.31" cy="161.4" r="1.25" fill="#c5b0d5"/>
<circle cx="530.83" cy="156.31" r="1.25" fill="#c5b0d5"/>
<circle cx="553.35" cy="156.31" r="1.25" fill="#c5b0d5"/>
<circle cx="575.86" cy="140.62" r="1.25" fill="#c5b0d5"/>
<circle cx="598.38" cy="120.41" r="1.25" fill="#c5b0d5"/>
<circle cx="620.9" cy="114.73" r="1.25" fill="#c5b0d5"/>
<circle cx="429.5" cy="144.93" r="1.25" fill="#8c564b"/>
<circle cx="440.76" cy="149.44" r="1.25" fill="#8c564b"/>
<circle cx="452.02" cy="144.93" r="1.25" fill="#8c564b"/>
<circle cx="485.79" cy="142.77" r="1.25" fill="#8c564b"/>
<circle cx="508.31" cy="155.13" r="1.25" fill="#8c564b"/>
<circle cx="530.83" cy="146.5" r="1.25" fill="#8c564b"/>
<circle cx="553.35" cy="149.44" r="1.25" fill="#8c564b"/>
<circle cx="575.86" cy="141.6" r="1.25" fill="#8c564b"/>
<circle cx="598.38" cy="125.32" r="1.25" fill="#8c564b"/>
<circle cx="620.9" cy="120.22" r="1.25" fill="#8c564b"/>
<circle cx="429.5" cy="96.68" r="1.25" fill="#c49c94"/>
<circle cx="440.76" cy="94.72" r="1.25" fill="#c49c94"/>
<circle cx="452.02" cy="92.37" r="1.25" fill="#c49c94"/>
<circle cx="485.79" cy="92.96" r="1.25" fill="#c49c94"/>
<circle cx="508.31" cy="96.88" r="1.25" fill="#c49c94"/>
<circle cx="530.83" cy="80.21" r="1.25" fill="#c49c94"/>
<circle cx="553.35" cy="78.84" r="1.25" fill="#c49c94"/>
<circle cx="575.86" cy="76.29" r="1.25" fill="#c49c94"/>
<circle cx="598.38" cy="67.07" r="1.25" fill="#c49c94"/>
<circle cx="620.9" cy="63.34" r="1.25" fill="#c49c94"/>
</g>
<rect x="429.5" y="35.13" width="191.39999999999998" height="157.32" fill="none" stroke="#2a2a2a" stroke-width="0.64"/>
<g font-family='"DejaVu Sans","Liberation Sans",sans-serif' fill="#1a1a1a">
<line x1="427.3" x2="429.5" y1="192.45" y2="192.45" stroke="#111" stroke-width="0.45"/>
<text transform="translate(425.7,195.2) scale(1,1.145)" text-anchor="end" font-size="6.75">0.2</text>
<line x1="427.3" x2="429.5" y1="172.78" y2="172.78" stroke="#111" stroke-width="0.45"/>
<text transform="translate(425.7,175.53) scale(1,1.145)" text-anchor="end" font-size="6.75">0.3</text>
<line x1="427.3" x2="429.5" y1="153.12" y2="153.12" stroke="#111" stroke-width="0.45"/>
<text transform="translate(425.7,155.87) scale(1,1.145)" text-anchor="end" font-size="6.75">0.4</text>
<line x1="427.3" x2="429.5" y1="133.45" y2="133.45" stroke="#111" stroke-width="0.45"/>
<text transform="translate(425.7,136.2) scale(1,1.145)" text-anchor="end" font-size="6.75">0.5</text>
<line x1="427.3" x2="429.5" y1="113.79" y2="113.79" stroke="#111" stroke-width="0.45"/>
<text transform="translate(425.7,116.54) scale(1,1.145)" text-anchor="end" font-size="6.75">0.6</text>
<line x1="427.3" x2="429.5" y1="94.12" y2="94.12" stroke="#111" stroke-width="0.45"/>
<text transform="translate(425.7,96.88) scale(1,1.145)" text-anchor="end" font-size="6.75">0.7</text>
<line x1="427.3" x2="429.5" y1="74.46" y2="74.46" stroke="#111" stroke-width="0.45"/>
<text transform="translate(425.7,77.21) scale(1,1.145)" text-anchor="end" font-size="6.75">0.8</text>
<line x1="427.3" x2="429.5" y1="54.79" y2="54.79" stroke="#111" stroke-width="0.45"/>
<text transform="translate(425.7,57.54) scale(1,1.145)" text-anchor="end" font-size="6.75">0.9</text>
<line x1="427.3" x2="429.5" y1="35.13" y2="35.13" stroke="#111" stroke-width="0.45"/>
<text transform="translate(425.7,37.88) scale(1,1.145)" text-anchor="end" font-size="6.75">1.0</text>
<line x1="440.76" x2="440.76" y1="192.45" y2="194.64999999999998" stroke="#111" stroke-width="0.45"/>
<text transform="translate(440.36,200.95) scale(1,1.145)" text-anchor="middle" font-size="6.75">2004</text>
<line x1="463.28" x2="463.28" y1="192.45" y2="194.64999999999998" stroke="#111" stroke-width="0.45"/>
<text transform="translate(462.88,200.95) scale(1,1.145)" text-anchor="middle" font-size="6.75">2006</text>
<line x1="485.79" x2="485.79" y1="192.45" y2="194.64999999999998" stroke="#111" stroke-width="0.45"/>
<text transform="translate(485.39,200.95) scale(1,1.145)" text-anchor="middle" font-size="6.75">2008</text>
<line x1="508.31" x2="508.31" y1="192.45" y2="194.64999999999998" stroke="#111" stroke-width="0.45"/>
<text transform="translate(507.91,200.95) scale(1,1.145)" text-anchor="middle" font-size="6.75">2010</text>
<line x1="530.83" x2="530.83" y1="192.45" y2="194.64999999999998" stroke="#111" stroke-width="0.45"/>
<text transform="translate(530.43,200.95) scale(1,1.145)" text-anchor="middle" font-size="6.75">2012</text>
<line x1="553.35" x2="553.35" y1="192.45" y2="194.64999999999998" stroke="#111" stroke-width="0.45"/>
<text transform="translate(552.95,200.95) scale(1,1.145)" text-anchor="middle" font-size="6.75">2014</text>
<line x1="575.86" x2="575.86" y1="192.45" y2="194.64999999999998" stroke="#111" stroke-width="0.45"/>
<text transform="translate(575.46,200.95) scale(1,1.145)" text-anchor="middle" font-size="6.75">2016</text>
<line x1="598.38" x2="598.38" y1="192.45" y2="194.64999999999998" stroke="#111" stroke-width="0.45"/>
<text transform="translate(597.98,200.95) scale(1,1.145)" text-anchor="middle" font-size="6.75">2018</text>
<line x1="620.9" x2="620.9" y1="192.45" y2="194.64999999999998" stroke="#111" stroke-width="0.45"/>
<text transform="translate(620.5,200.95) scale(1,1.145)" text-anchor="middle" font-size="6.75">2020</text>
<text transform="translate(524.8,209.7) scale(1,1.145)" text-anchor="middle" font-size="6.8">Year</text>
<text transform="translate(411,113.29) rotate(-90) scale(1.145,1)" text-anchor="middle" font-size="6.23">Digital Transformation Level</text>
</g>
<clipPath id="cw"><rect x="77.5" y="273.55" width="218.45" height="162.89999999999998"/></clipPath>
<g clip-path="url(#cw)">
<line x1="156.51" y1="385.91" x2="179.75" y2="375.67" stroke="#d62728" stroke-width="0.95" stroke-dasharray="1.7 1.0"/>
<polyline points="77.5,422.85 82.15,419.73 86.8,414.84 100.74,416.17 110.04,420.33 119.33,411.43 128.63,411.43 137.92,404.9 147.22,394.22 156.51,385.91" fill="none" stroke="#000" stroke-width="1.1" stroke-linejoin="round"/>
<circle cx="77.5" cy="422.85" r="1.65" fill="#000"/>
<circle cx="82.15" cy="419.73" r="1.65" fill="#000"/>
<circle cx="86.8" cy="414.84" r="1.65" fill="#000"/>
<circle cx="100.74" cy="416.17" r="1.65" fill="#000"/>
<circle cx="110.04" cy="420.33" r="1.65" fill="#000"/>
<circle cx="119.33" cy="411.43" r="1.65" fill="#000"/>
<circle cx="128.63" cy="411.43" r="1.65" fill="#000"/>
<circle cx="137.92" cy="404.9" r="1.65" fill="#000"/>
<circle cx="147.22" cy="394.22" r="1.65" fill="#000"/>
<circle cx="156.51" cy="385.91" r="1.65" fill="#000"/>
<polyline points="179.75,375.37 202.99,367.96 226.23,360.54 249.47,354.31 272.71,346.44 295.95,339.03" fill="none" stroke="#1f77b4" stroke-width="1.25" stroke-linejoin="round"/>
<circle cx="179.75" cy="375.37" r="1.8" fill="#1f77b4"/>
<circle cx="202.99" cy="367.96" r="1.8" fill="#1f77b4"/>
<circle cx="226.23" cy="360.54" r="1.8" fill="#1f77b4"/>
<circle cx="249.47" cy="354.31" r="1.8" fill="#1f77b4"/>
<circle cx="272.71" cy="346.44" r="1.8" fill="#1f77b4"/>
<circle cx="295.95" cy="339.03" r="1.8" fill="#1f77b4"/>
<polyline points="179.75,375.37 202.99,368.25 226.23,361.13 249.47,355.64 272.71,349.11 295.95,343.77" fill="none" stroke="#2ca02c" stroke-width="1.25" stroke-linejoin="round"/>
<circle cx="179.75" cy="375.37" r="1.8" fill="#2ca02c"/>
<circle cx="202.99" cy="368.25" r="1.8" fill="#2ca02c"/>
<circle cx="226.23" cy="361.13" r="1.8" fill="#2ca02c"/>
<circle cx="249.47" cy="355.64" r="1.8" fill="#2ca02c"/>
<circle cx="272.71" cy="349.11" r="1.8" fill="#2ca02c"/>
<circle cx="295.95" cy="343.77" r="1.8" fill="#2ca02c"/>
<polyline points="179.75,375.37 202.99,368.55 226.23,361.58 249.47,356.98 272.71,352.97 295.95,350.15" fill="none" stroke="#ff7f0e" stroke-width="1.25" stroke-linejoin="round"/>
<circle cx="179.75" cy="375.37" r="1.8" fill="#ff7f0e"/>
<circle cx="202.99" cy="368.55" r="1.8" fill="#ff7f0e"/>
<circle cx="226.23" cy="361.58" r="1.8" fill="#ff7f0e"/>
<circle cx="249.47" cy="356.98" r="1.8" fill="#ff7f0e"/>
<circle cx="272.71" cy="352.97" r="1.8" fill="#ff7f0e"/>
<circle cx="295.95" cy="350.15" r="1.8" fill="#ff7f0e"/>
<polyline points="179.75,375.37 202.99,367.81 226.23,360.54 249.47,353.86 272.71,347.48 295.95,341.25" fill="none" stroke="#9467bd" stroke-width="1.25" stroke-linejoin="round"/>
<circle cx="179.75" cy="375.37" r="1.8" fill="#9467bd"/>
<circle cx="202.99" cy="367.81" r="1.8" fill="#9467bd"/>
<circle cx="226.23" cy="360.54" r="1.8" fill="#9467bd"/>
<circle cx="249.47" cy="353.86" r="1.8" fill="#9467bd"/>
<circle cx="272.71" cy="347.48" r="1.8" fill="#9467bd"/>
<circle cx="295.95" cy="341.25" r="1.8" fill="#9467bd"/>
<polyline points="179.75,375.67 202.99,368.55 226.23,360.54 249.47,350.45 272.71,339.92 295.95,328.64" fill="none" stroke="#d62728" stroke-width="1.25" stroke-linejoin="round"/>
<circle cx="179.75" cy="375.67" r="1.8" fill="#d62728"/>
<circle cx="202.99" cy="368.55" r="1.8" fill="#d62728"/>
<circle cx="226.23" cy="360.54" r="1.8" fill="#d62728"/>
<circle cx="249.47" cy="350.45" r="1.8" fill="#d62728"/>
<circle cx="272.71" cy="339.92" r="1.8" fill="#d62728"/>
<circle cx="295.95" cy="328.64" r="1.8" fill="#d62728"/>
</g>
<rect x="77.5" y="273.55" width="218.45" height="162.9" fill="none" stroke="#1a1a1a" stroke-width="0.72"/>
<g font-family='"DejaVu Sans","Liberation Sans",sans-serif' font-size="7.7" fill="#1a1a1a">
<line x1="75.0" x2="77.5" y1="436.5" y2="436.5" stroke="#333" stroke-width="0.6"/>
<text transform="translate(73.5,439.45) scale(1,1.07)" text-anchor="end">0.4</text>
<line x1="75.0" x2="77.5" y1="406.83" y2="406.83" stroke="#333" stroke-width="0.6"/>
<text transform="translate(73.5,409.78) scale(1,1.07)" text-anchor="end">0.6</text>
<line x1="75.0" x2="77.5" y1="377.15" y2="377.15" stroke="#333" stroke-width="0.6"/>
<text transform="translate(73.5,380.1) scale(1,1.07)" text-anchor="end">0.8</text>
<line x1="75.0" x2="77.5" y1="347.48" y2="347.48" stroke="#333" stroke-width="0.6"/>
<text transform="translate(73.5,350.43) scale(1,1.07)" text-anchor="end">1.0</text>
<line x1="75.0" x2="77.5" y1="317.81" y2="317.81" stroke="#333" stroke-width="0.6"/>
<text transform="translate(73.5,320.76) scale(1,1.07)" text-anchor="end">1.2</text>
<line x1="75.0" x2="77.5" y1="288.14" y2="288.14" stroke="#333" stroke-width="0.6"/>
<text transform="translate(73.5,291.09) scale(1,1.07)" text-anchor="end">1.4</text>
<line x1="110.04" x2="110.04" y1="436.45" y2="438.95" stroke="#333" stroke-width="0.6"/>
<text transform="translate(109.74,445.9) scale(1,1.07)" text-anchor="middle">2010</text>
<line x1="156.51" x2="156.51" y1="436.45" y2="438.95" stroke="#333" stroke-width="0.6"/>
<text transform="translate(156.21,445.9) scale(1,1.07)" text-anchor="middle">2020</text>
<line x1="202.99" x2="202.99" y1="436.45" y2="438.95" stroke="#333" stroke-width="0.6"/>
<text transform="translate(202.69,445.9) scale(1,1.07)" text-anchor="middle">2030</text>
<line x1="249.47" x2="249.47" y1="436.45" y2="438.95" stroke="#333" stroke-width="0.6"/>
<text transform="translate(249.17,445.9) scale(1,1.07)" text-anchor="middle">2040</text>
<line x1="295.95" x2="295.95" y1="436.45" y2="438.95" stroke="#333" stroke-width="0.6"/>
<text transform="translate(295.65,445.9) scale(1,1.07)" text-anchor="middle">2050</text>
</g>
<text x="186.72" y="455.8" text-anchor="middle" font-family='"DejaVu Sans","Liberation Sans",sans-serif' font-size="8.6" fill="#1a1a1a">Year</text>
<text transform="translate(57.1,354.6) rotate(-90)" text-anchor="middle" letter-spacing="0.12" font-family='"DejaVu Sans","Liberation Sans",sans-serif' font-size="8.5" fill="#1a1a1a">Digital Transformation Level</text>
<rect x="81.3" y="277.5" width="65" height="73.8" rx="1.5" fill="#fff" fill-opacity="0.8" stroke="#ccc" stroke-width="0.8"/>
<g font-family='"DejaVu Sans","Liberation Sans",sans-serif' font-size="7.75" fill="#1a1a1a">
<line x1="84.25" x2="100.4" y1="283.75" y2="283.75" stroke="#000" stroke-width="1.35"/>
<circle cx="92.3" cy="283.75" r="1.9" fill="#000"/>
<text x="106.05" y="286.6">Historical</text>
<line x1="84.25" x2="100.4" y1="295.8" y2="295.8" stroke="#1f77b4" stroke-width="1.35"/>
<circle cx="92.3" cy="295.8" r="1.9" fill="#1f77b4"/>
<text x="106.05" y="298.65">SSP1</text>
<line x1="84.25" x2="100.4" y1="307.85" y2="307.85" stroke="#2ca02c" stroke-width="1.35"/>
<circle cx="92.3" cy="307.85" r="1.9" fill="#2ca02c"/>
<text x="106.05" y="310.7">SSP2</text>
<line x1="84.25" x2="100.4" y1="319.9" y2="319.9" stroke="#ff7f0e" stroke-width="1.35"/>
<circle cx="92.3" cy="319.9" r="1.9" fill="#ff7f0e"/>
<text x="106.05" y="322.75">SSP3</text>
<line x1="84.25" x2="100.4" y1="331.95" y2="331.95" stroke="#9467bd" stroke-width="1.35"/>
<circle cx="92.3" cy="331.95" r="1.9" fill="#9467bd"/>
<text x="106.05" y="334.8">SSP4</text>
<line x1="84.25" x2="100.4" y1="344" y2="344" stroke="#d62728" stroke-width="1.35"/>
<circle cx="92.3" cy="344" r="1.9" fill="#d62728"/>
<text x="106.05" y="346.85">SSP5</text>
</g>
<rect x="205.7" y="378.8" width="84.60000000000002" height="52.89999999999998" fill="#fff"/>
<rect x="209" y="412.94" width="4.24" height="18.76" fill="#1f77b4" fill-opacity="0.8"/>
<rect x="213.24" y="412.94" width="4.24" height="18.76" fill="#2ca02c" fill-opacity="0.8"/>
<rect x="217.48" y="412.94" width="4.24" height="18.76" fill="#ff7f0e" fill-opacity="0.8"/>
<rect x="221.72" y="412.94" width="4.24" height="18.76" fill="#9467bd" fill-opacity="0.8"/>
<rect x="225.96" y="412.94" width="4.24" height="18.76" fill="#d62728" fill-opacity="0.8"/>
<path d="M211.12 409.03V416.85M210.02 409.03h2.2M210.02 416.85h2.2" stroke="#000" stroke-width="0.55" fill="none"/>
<path d="M215.36 409.03V416.85M214.26 409.03h2.2M214.26 416.85h2.2" stroke="#000" stroke-width="0.55" fill="none"/>
<path d="M219.6 409.03V416.85M218.5 409.03h2.2M218.5 416.85h2.2" stroke="#000" stroke-width="0.55" fill="none"/>
<path d="M223.84 409.03V416.85M222.74 409.03h2.2M222.74 416.85h2.2" stroke="#000" stroke-width="0.55" fill="none"/>
<path d="M228.08 409.03V416.85M226.98 409.03h2.2M226.98 416.85h2.2" stroke="#000" stroke-width="0.55" fill="none"/>
<text x="219.6" y="421.99" text-anchor="middle" font-family='"DejaVu Sans","Liberation Sans",sans-serif' font-size="6.5" fill="#1a1a1a">2030</text>
<rect x="237.05" y="409.12" width="4.24" height="22.58" fill="#1f77b4" fill-opacity="0.8"/>
<rect x="241.29" y="409.52" width="4.24" height="22.18" fill="#2ca02c" fill-opacity="0.8"/>
<rect x="245.53" y="409.93" width="4.24" height="21.77" fill="#ff7f0e" fill-opacity="0.8"/>
<rect x="249.77" y="409.12" width="4.24" height="22.58" fill="#9467bd" fill-opacity="0.8"/>
<rect x="254.01" y="408.02" width="4.24" height="23.68" fill="#d62728" fill-opacity="0.8"/>
<path d="M239.17 404.84V413.39M238.07 404.84h2.2M238.07 413.39h2.2" stroke="#000" stroke-width="0.55" fill="none"/>
<path d="M243.41 405.25V413.8M242.31 405.25h2.2M242.31 413.8h2.2" stroke="#000" stroke-width="0.55" fill="none"/>
<path d="M247.65 405.86V414M246.55 405.86h2.2M246.55 414h2.2" stroke="#000" stroke-width="0.55" fill="none"/>
<path d="M251.89 404.84V413.39M250.79 404.84h2.2M250.79 413.39h2.2" stroke="#000" stroke-width="0.55" fill="none"/>
<path d="M256.13 403.74V412.29M255.03 403.74h2.2M255.03 412.29h2.2" stroke="#000" stroke-width="0.55" fill="none"/>
<text x="247.65" y="421.99" text-anchor="middle" font-family='"DejaVu Sans","Liberation Sans",sans-serif' font-size="6.5" fill="#1a1a1a">2040</text>
<rect x="265.1" y="404.97" width="4.24" height="26.73" fill="#1f77b4" fill-opacity="0.8"/>
<rect x="269.34" y="406.47" width="4.24" height="25.23" fill="#2ca02c" fill-opacity="0.8"/>
<rect x="273.58" y="408.1" width="4.24" height="23.6" fill="#ff7f0e" fill-opacity="0.8"/>
<rect x="277.82" y="405.66" width="4.24" height="26.04" fill="#9467bd" fill-opacity="0.8"/>
<rect x="282.06" y="401.99" width="4.24" height="29.71" fill="#d62728" fill-opacity="0.8"/>
<path d="M267.22 400.08V409.85M266.12 400.08h2.2M266.12 409.85h2.2" stroke="#000" stroke-width="0.55" fill="none"/>
<path d="M271.46 401.59V411.35M270.36 401.59h2.2M270.36 411.35h2.2" stroke="#000" stroke-width="0.55" fill="none"/>
<path d="M275.7 404.03V412.17M274.6 404.03h2.2M274.6 412.17h2.2" stroke="#000" stroke-width="0.55" fill="none"/>
<path d="M279.94 400.98V410.34M278.84 400.98h2.2M278.84 410.34h2.2" stroke="#000" stroke-width="0.55" fill="none"/>
<path d="M284.18 396.91V407.08M283.08 396.91h2.2M283.08 407.08h2.2" stroke="#000" stroke-width="0.55" fill="none"/>
<text x="275.7" y="421.99" text-anchor="middle" font-family='"DejaVu Sans","Liberation Sans",sans-serif' font-size="6.5" fill="#1a1a1a">2050</text>
<rect x="205.7" y="378.8" width="84.60000000000002" height="52.89999999999998" fill="none" stroke="#333" stroke-width="0.8"/>
<g font-family='"DejaVu Sans","Liberation Sans",sans-serif' font-size="5.5" fill="#1a1a1a">
<line x1="203.7" x2="205.7" y1="427.63" y2="427.63" stroke="#333" stroke-width="0.5"/>
<text x="201.8" y="429.73" text-anchor="end">0.5</text>
<line x1="203.7" x2="205.7" y1="407.28" y2="407.28" stroke="#333" stroke-width="0.5"/>
<text x="201.8" y="409.38" text-anchor="end">1.0</text>
<line x1="203.7" x2="205.7" y1="386.94" y2="386.94" stroke="#333" stroke-width="0.5"/>
<text x="201.8" y="389.04" text-anchor="end">1.5</text>
</g>
<clipPath id="cn"><rect x="419.5" y="273.55" width="218.04999999999995" height="162.64999999999998"/></clipPath>
<g clip-path="url(#cn)">
<line x1="498.37" y1="359.2" x2="521.57" y2="349.56" stroke="#d62728" stroke-width="0.95" stroke-dasharray="1.7 1.0"/>
<polyline points="419.5,359.8 424.14,361.43 428.78,362.61 433.42,364.4 438.06,366.62 442.7,368.55 447.34,369.44 451.98,370.03 456.61,368.55 461.25,367.51 465.89,367.07 470.53,366.77 475.17,368.85 479.81,371.52 484.45,368.85 489.09,366.62 493.73,362.76 498.37,359.2" fill="none" stroke="#000" stroke-width="1.1" stroke-linejoin="round"/>
<circle cx="419.5" cy="359.8" r="1.65" fill="#000"/>
<circle cx="424.14" cy="361.43" r="1.65" fill="#000"/>
<circle cx="428.78" cy="362.61" r="1.65" fill="#000"/>
<circle cx="433.42" cy="364.4" r="1.65" fill="#000"/>
<circle cx="438.06" cy="366.62" r="1.65" fill="#000"/>
<circle cx="442.7" cy="368.55" r="1.65" fill="#000"/>
<circle cx="447.34" cy="369.44" r="1.65" fill="#000"/>
<circle cx="451.98" cy="370.03" r="1.65" fill="#000"/>
<circle cx="456.61" cy="368.55" r="1.65" fill="#000"/>
<circle cx="461.25" cy="367.51" r="1.65" fill="#000"/>
<circle cx="465.89" cy="367.07" r="1.65" fill="#000"/>
<circle cx="470.53" cy="366.77" r="1.65" fill="#000"/>
<circle cx="475.17" cy="368.85" r="1.65" fill="#000"/>
<circle cx="479.81" cy="371.52" r="1.65" fill="#000"/>
<circle cx="484.45" cy="368.85" r="1.65" fill="#000"/>
<circle cx="489.09" cy="366.62" r="1.65" fill="#000"/>
<circle cx="493.73" cy="362.76" r="1.65" fill="#000"/>
<circle cx="498.37" cy="359.2" r="1.65" fill="#000"/>
<polyline points="521.57,348.67 544.76,338.88 567.96,328.94 591.16,318.25 614.35,308.31 637.55,299.12" fill="none" stroke="#1f77b4" stroke-width="1.25" stroke-linejoin="round"/>
<circle cx="521.57" cy="348.67" r="1.8" fill="#1f77b4"/>
<circle cx="544.76" cy="338.88" r="1.8" fill="#1f77b4"/>
<circle cx="567.96" cy="328.94" r="1.8" fill="#1f77b4"/>
<circle cx="591.16" cy="318.25" r="1.8" fill="#1f77b4"/>
<circle cx="614.35" cy="308.31" r="1.8" fill="#1f77b4"/>
<circle cx="637.55" cy="299.12" r="1.8" fill="#1f77b4"/>
<polyline points="521.57,348.97 544.76,339.32 567.96,330.72 591.16,324.04 614.35,316.77 637.55,310.24" fill="none" stroke="#2ca02c" stroke-width="1.25" stroke-linejoin="round"/>
<circle cx="521.57" cy="348.97" r="1.8" fill="#2ca02c"/>
<circle cx="544.76" cy="339.32" r="1.8" fill="#2ca02c"/>
<circle cx="567.96" cy="330.72" r="1.8" fill="#2ca02c"/>
<circle cx="591.16" cy="324.04" r="1.8" fill="#2ca02c"/>
<circle cx="614.35" cy="316.77" r="1.8" fill="#2ca02c"/>
<circle cx="637.55" cy="310.24" r="1.8" fill="#2ca02c"/>
<polyline points="521.57,349.26 544.76,340.06 567.96,333.09 591.16,329.08 614.35,325.38 637.55,321.96" fill="none" stroke="#ff7f0e" stroke-width="1.25" stroke-linejoin="round"/>
<circle cx="521.57" cy="349.26" r="1.8" fill="#ff7f0e"/>
<circle cx="544.76" cy="340.06" r="1.8" fill="#ff7f0e"/>
<circle cx="567.96" cy="333.09" r="1.8" fill="#ff7f0e"/>
<circle cx="591.16" cy="329.08" r="1.8" fill="#ff7f0e"/>
<circle cx="614.35" cy="325.38" r="1.8" fill="#ff7f0e"/>
<circle cx="637.55" cy="321.96" r="1.8" fill="#ff7f0e"/>
<polyline points="521.57,348.37 544.76,338.58 567.96,328.19 591.16,317.96 614.35,308.61 637.55,300.45" fill="none" stroke="#9467bd" stroke-width="1.25" stroke-linejoin="round"/>
<circle cx="521.57" cy="348.37" r="1.8" fill="#9467bd"/>
<circle cx="544.76" cy="338.58" r="1.8" fill="#9467bd"/>
<circle cx="567.96" cy="328.19" r="1.8" fill="#9467bd"/>
<circle cx="591.16" cy="317.96" r="1.8" fill="#9467bd"/>
<circle cx="614.35" cy="308.61" r="1.8" fill="#9467bd"/>
<circle cx="637.55" cy="300.45" r="1.8" fill="#9467bd"/>
<polyline points="521.57,349.56 544.76,340.51 567.96,328.79 591.16,315.44 614.35,300.15 637.55,285.17" fill="none" stroke="#d62728" stroke-width="1.25" stroke-linejoin="round"/>
<circle cx="521.57" cy="349.56" r="1.8" fill="#d62728"/>
<circle cx="544.76" cy="340.51" r="1.8" fill="#d62728"/>
<circle cx="567.96" cy="328.79" r="1.8" fill="#d62728"/>
<circle cx="591.16" cy="315.44" r="1.8" fill="#d62728"/>
<circle cx="614.35" cy="300.15" r="1.8" fill="#d62728"/>
<circle cx="637.55" cy="285.17" r="1.8" fill="#d62728"/>
</g>
<rect x="419.5" y="273.55" width="218.05" height="162.65" fill="none" stroke="#1a1a1a" stroke-width="0.72"/>
<g font-family='"DejaVu Sans","Liberation Sans",sans-serif' font-size="7.7" fill="#1a1a1a">
<line x1="417.0" x2="419.5" y1="436.5" y2="436.5" stroke="#333" stroke-width="0.6"/>
<text transform="translate(415.5,439.45) scale(1,1.07)" text-anchor="end">0.4</text>
<line x1="417.0" x2="419.5" y1="406.83" y2="406.83" stroke="#333" stroke-width="0.6"/>
<text transform="translate(415.5,409.78) scale(1,1.07)" text-anchor="end">0.6</text>
<line x1="417.0" x2="419.5" y1="377.15" y2="377.15" stroke="#333" stroke-width="0.6"/>
<text transform="translate(415.5,380.1) scale(1,1.07)" text-anchor="end">0.8</text>
<line x1="417.0" x2="419.5" y1="347.48" y2="347.48" stroke="#333" stroke-width="0.6"/>
<text transform="translate(415.5,350.43) scale(1,1.07)" text-anchor="end">1.0</text>
<line x1="417.0" x2="419.5" y1="317.81" y2="317.81" stroke="#333" stroke-width="0.6"/>
<text transform="translate(415.5,320.76) scale(1,1.07)" text-anchor="end">1.2</text>
<line x1="417.0" x2="419.5" y1="288.14" y2="288.14" stroke="#333" stroke-width="0.6"/>
<text transform="translate(415.5,291.09) scale(1,1.07)" text-anchor="end">1.4</text>
<line x1="451.98" x2="451.98" y1="436.2" y2="438.7" stroke="#333" stroke-width="0.6"/>
<text transform="translate(451.68,445.9) scale(1,1.07)" text-anchor="middle">2010</text>
<line x1="498.37" x2="498.37" y1="436.2" y2="438.7" stroke="#333" stroke-width="0.6"/>
<text transform="translate(498.07,445.9) scale(1,1.07)" text-anchor="middle">2020</text>
<line x1="544.76" x2="544.76" y1="436.2" y2="438.7" stroke="#333" stroke-width="0.6"/>
<text transform="translate(544.46,445.9) scale(1,1.07)" text-anchor="middle">2030</text>
<line x1="591.16" x2="591.16" y1="436.2" y2="438.7" stroke="#333" stroke-width="0.6"/>
<text transform="translate(590.86,445.9) scale(1,1.07)" text-anchor="middle">2040</text>
<line x1="637.55" x2="637.55" y1="436.2" y2="438.7" stroke="#333" stroke-width="0.6"/>
<text transform="translate(637.25,445.9) scale(1,1.07)" text-anchor="middle">2050</text>
</g>
<text x="528.52" y="455.8" text-anchor="middle" font-family='"DejaVu Sans","Liberation Sans",sans-serif' font-size="8.6" fill="#1a1a1a">Year</text>
<text transform="translate(399.1,354.48) rotate(-90)" text-anchor="middle" letter-spacing="0.12" font-family='"DejaVu Sans","Liberation Sans",sans-serif' font-size="8.5" fill="#1a1a1a">Digital Transformation Level</text>
<rect x="423.3" y="277.5" width="65" height="73.8" rx="1.5" fill="#fff" fill-opacity="0.8" stroke="#ccc" stroke-width="0.8"/>
<g font-family='"DejaVu Sans","Liberation Sans",sans-serif' font-size="7.75" fill="#1a1a1a">
<line x1="426.25" x2="442.4" y1="283.75" y2="283.75" stroke="#000" stroke-width="1.35"/>
<circle cx="434.3" cy="283.75" r="1.9" fill="#000"/>
<text x="448.05" y="286.6">Historical</text>
<line x1="426.25" x2="442.4" y1="295.8" y2="295.8" stroke="#1f77b4" stroke-width="1.35"/>
<circle cx="434.3" cy="295.8" r="1.9" fill="#1f77b4"/>
<text x="448.05" y="298.65">SSP1</text>
<line x1="426.25" x2="442.4" y1="307.85" y2="307.85" stroke="#2ca02c" stroke-width="1.35"/>
<circle cx="434.3" cy="307.85" r="1.9" fill="#2ca02c"/>
<text x="448.05" y="310.7">SSP2</text>
<line x1="426.25" x2="442.4" y1="319.9" y2="319.9" stroke="#ff7f0e" stroke-width="1.35"/>
<circle cx="434.3" cy="319.9" r="1.9" fill="#ff7f0e"/>
<text x="448.05" y="322.75">SSP3</text>
<line x1="426.25" x2="442.4" y1="331.95" y2="331.95" stroke="#9467bd" stroke-width="1.35"/>
<circle cx="434.3" cy="331.95" r="1.9" fill="#9467bd"/>
<text x="448.05" y="334.8">SSP4</text>
<line x1="426.25" x2="442.4" y1="344" y2="344" stroke="#d62728" stroke-width="1.35"/>
<circle cx="434.3" cy="344" r="1.9" fill="#d62728"/>
<text x="448.05" y="346.85">SSP5</text>
</g>
<rect x="533.7" y="375.6" width="98.59999999999991" height="56.89999999999998" fill="#fff"/>
<rect x="537.49" y="403.74" width="4.94" height="28.76" fill="#1f77b4" fill-opacity="0.8"/>
<rect x="542.43" y="403.74" width="4.94" height="28.76" fill="#2ca02c" fill-opacity="0.8"/>
<rect x="547.38" y="403.74" width="4.94" height="28.76" fill="#ff7f0e" fill-opacity="0.8"/>
<rect x="552.32" y="403.74" width="4.94" height="28.76" fill="#9467bd" fill-opacity="0.8"/>
<rect x="557.27" y="403.74" width="4.94" height="28.76" fill="#d62728" fill-opacity="0.8"/>
<path d="M539.96 396.3V411.18M538.86 396.3h2.2M538.86 411.18h2.2" stroke="#000" stroke-width="0.55" fill="none"/>
<path d="M544.91 396.74V410.75M543.81 396.74h2.2M543.81 410.75h2.2" stroke="#000" stroke-width="0.55" fill="none"/>
<path d="M549.85 396.3V411.18M548.75 396.3h2.2M548.75 411.18h2.2" stroke="#000" stroke-width="0.55" fill="none"/>
<path d="M554.79 396.3V411.18M553.69 396.3h2.2M553.69 411.18h2.2" stroke="#000" stroke-width="0.55" fill="none"/>
<path d="M559.74 396.74V410.75M558.64 396.74h2.2M558.64 410.75h2.2" stroke="#000" stroke-width="0.55" fill="none"/>
<text x="549.85" y="421.87" text-anchor="middle" font-family='"DejaVu Sans","Liberation Sans",sans-serif' font-size="6.5" fill="#1a1a1a">2030</text>
<rect x="570.19" y="397.97" width="4.94" height="34.53" fill="#1f77b4" fill-opacity="0.8"/>
<rect x="575.13" y="399.19" width="4.94" height="33.31" fill="#2ca02c" fill-opacity="0.8"/>
<rect x="580.08" y="401.12" width="4.94" height="31.38" fill="#ff7f0e" fill-opacity="0.8"/>
<rect x="585.02" y="397.62" width="4.94" height="34.88" fill="#9467bd" fill-opacity="0.8"/>
<rect x="589.97" y="396.74" width="4.94" height="35.76" fill="#d62728" fill-opacity="0.8"/>
<path d="M572.66 390.09V405.84M571.56 390.09h2.2M571.56 405.84h2.2" stroke="#000" stroke-width="0.55" fill="none"/>
<path d="M577.61 391.31V407.07M576.51 391.31h2.2M576.51 407.07h2.2" stroke="#000" stroke-width="0.55" fill="none"/>
<path d="M582.55 393.24V409M581.45 393.24h2.2M581.45 409h2.2" stroke="#000" stroke-width="0.55" fill="none"/>
<path d="M587.49 389.74V405.49M586.39 389.74h2.2M586.39 405.49h2.2" stroke="#000" stroke-width="0.55" fill="none"/>
<path d="M592.44 388.86V404.62M591.34 388.86h2.2M591.34 404.62h2.2" stroke="#000" stroke-width="0.55" fill="none"/>
<text x="582.55" y="421.87" text-anchor="middle" font-family='"DejaVu Sans","Liberation Sans",sans-serif' font-size="6.5" fill="#1a1a1a">2040</text>
<rect x="602.89" y="392.23" width="4.94" height="40.27" fill="#1f77b4" fill-opacity="0.8"/>
<rect x="607.83" y="395.73" width="4.94" height="36.77" fill="#2ca02c" fill-opacity="0.8"/>
<rect x="612.78" y="399.24" width="4.94" height="33.26" fill="#ff7f0e" fill-opacity="0.8"/>
<rect x="617.72" y="392.67" width="4.94" height="39.83" fill="#9467bd" fill-opacity="0.8"/>
<rect x="622.67" y="387.86" width="4.94" height="44.64" fill="#d62728" fill-opacity="0.8"/>
<path d="M605.36 383.04V401.42M604.26 383.04h2.2M604.26 401.42h2.2" stroke="#000" stroke-width="0.55" fill="none"/>
<path d="M610.31 386.98V404.49M609.21 386.98h2.2M609.21 404.49h2.2" stroke="#000" stroke-width="0.55" fill="none"/>
<path d="M615.25 390.92V407.55M614.15 390.92h2.2M614.15 407.55h2.2" stroke="#000" stroke-width="0.55" fill="none"/>
<path d="M620.19 383.92V401.42M619.09 383.92h2.2M619.09 401.42h2.2" stroke="#000" stroke-width="0.55" fill="none"/>
<path d="M625.14 378.66V397.05M624.04 378.66h2.2M624.04 397.05h2.2" stroke="#000" stroke-width="0.55" fill="none"/>
<text x="615.25" y="421.87" text-anchor="middle" font-family='"DejaVu Sans","Liberation Sans",sans-serif' font-size="6.5" fill="#1a1a1a">2050</text>
<rect x="533.7" y="375.6" width="98.59999999999991" height="56.89999999999998" fill="none" stroke="#333" stroke-width="0.8"/>
<g font-family='"DejaVu Sans","Liberation Sans",sans-serif' font-size="5.5" fill="#1a1a1a">
<line x1="531.7" x2="533.7" y1="428.12" y2="428.12" stroke="#333" stroke-width="0.5"/>
<text x="529.8" y="430.22" text-anchor="end">0.5</text>
<line x1="531.7" x2="533.7" y1="406.24" y2="406.24" stroke="#333" stroke-width="0.5"/>
<text x="529.8" y="408.34" text-anchor="end">1.0</text>
<line x1="531.7" x2="533.7" y1="384.35" y2="384.35" stroke="#333" stroke-width="0.5"/>
<text x="529.8" y="386.45" text-anchor="end">1.5</text>
</g>
</svg></body></html>
